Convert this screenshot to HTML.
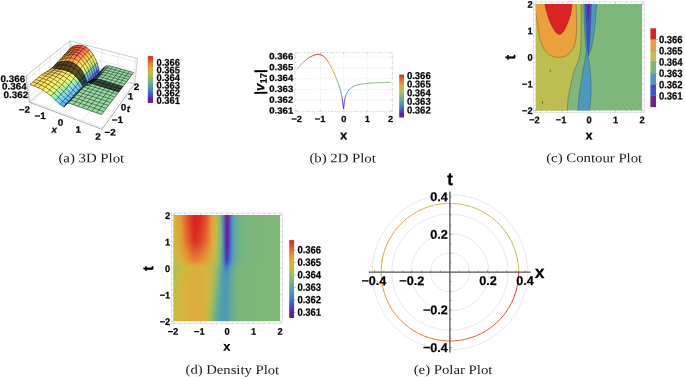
<!DOCTYPE html>
<html><head><meta charset="utf-8"><title>Plots</title>
<style>
html,body{margin:0;padding:0;background:#fff;}
body{width:685px;height:377px;overflow:hidden;}
svg{display:block;}
.b{font-family:"Liberation Sans",sans-serif;font-weight:bold;fill:#000;stroke:#000;stroke-width:0.22px;text-rendering:geometricPrecision;}
.c{font-family:"Liberation Serif",serif;fill:#1a1a1a;text-rendering:geometricPrecision;}
</style></head><body>
<svg width="685" height="377" viewBox="0 0 685 377">
<rect width="685" height="377" fill="#fff"/>
<g id="p3d">
<line x1="70.6" y1="64.9" x2="69.9" y2="40.9" stroke="#989898" stroke-width="0.5" opacity="1"/>
<line x1="29.4" y1="102.3" x2="70.6" y2="64.9" stroke="#989898" stroke-width="0.5" opacity="1"/>
<line x1="70.6" y1="64.9" x2="134.7" y2="83.8" stroke="#989898" stroke-width="0.5" opacity="1"/>
<line x1="30.5" y1="101.3" x2="27.3" y2="74.9" stroke="#d4d4d4" stroke-width="0.5" opacity="1"/>
<line x1="30.5" y1="101.3" x2="102.9" y2="128.0" stroke="#d4d4d4" stroke-width="0.5" opacity="1"/>
<line x1="41.6" y1="91.2" x2="39.1" y2="65.5" stroke="#d4d4d4" stroke-width="0.5" opacity="1"/>
<line x1="41.6" y1="91.2" x2="111.8" y2="115.7" stroke="#d4d4d4" stroke-width="0.5" opacity="1"/>
<line x1="51.7" y1="82.0" x2="49.9" y2="56.8" stroke="#d4d4d4" stroke-width="0.5" opacity="1"/>
<line x1="51.7" y1="82.0" x2="119.9" y2="104.4" stroke="#d4d4d4" stroke-width="0.5" opacity="1"/>
<line x1="61.1" y1="73.5" x2="59.9" y2="48.9" stroke="#d4d4d4" stroke-width="0.5" opacity="1"/>
<line x1="61.1" y1="73.5" x2="127.3" y2="94.1" stroke="#d4d4d4" stroke-width="0.5" opacity="1"/>
<line x1="69.8" y1="65.6" x2="69.0" y2="41.6" stroke="#d4d4d4" stroke-width="0.5" opacity="1"/>
<line x1="69.8" y1="65.6" x2="134.0" y2="84.7" stroke="#d4d4d4" stroke-width="0.5" opacity="1"/>
<line x1="72.0" y1="65.3" x2="71.4" y2="41.3" stroke="#d4d4d4" stroke-width="0.5" opacity="1"/>
<line x1="30.9" y1="102.9" x2="72.0" y2="65.3" stroke="#d4d4d4" stroke-width="0.5" opacity="1"/>
<line x1="86.3" y1="69.5" x2="86.4" y2="45.2" stroke="#d4d4d4" stroke-width="0.5" opacity="1"/>
<line x1="46.9" y1="108.8" x2="86.3" y2="69.5" stroke="#d4d4d4" stroke-width="0.5" opacity="1"/>
<line x1="101.2" y1="73.9" x2="102.1" y2="49.3" stroke="#d4d4d4" stroke-width="0.5" opacity="1"/>
<line x1="63.7" y1="115.1" x2="101.2" y2="73.9" stroke="#d4d4d4" stroke-width="0.5" opacity="1"/>
<line x1="116.8" y1="78.5" x2="118.6" y2="53.5" stroke="#d4d4d4" stroke-width="0.5" opacity="1"/>
<line x1="81.4" y1="121.7" x2="116.8" y2="78.5" stroke="#d4d4d4" stroke-width="0.5" opacity="1"/>
<line x1="133.0" y1="83.3" x2="135.8" y2="58.0" stroke="#d4d4d4" stroke-width="0.5" opacity="1"/>
<line x1="100.1" y1="128.6" x2="133.0" y2="83.3" stroke="#d4d4d4" stroke-width="0.5" opacity="1"/>
<line x1="28.7" y1="96.9" x2="70.5" y2="60.0" stroke="#d4d4d4" stroke-width="0.5" opacity="1"/>
<line x1="70.5" y1="60.0" x2="135.3" y2="78.6" stroke="#d4d4d4" stroke-width="0.5" opacity="1"/>
<line x1="27.6" y1="88.4" x2="70.2" y2="52.2" stroke="#d4d4d4" stroke-width="0.5" opacity="1"/>
<line x1="70.2" y1="52.2" x2="136.2" y2="70.4" stroke="#d4d4d4" stroke-width="0.5" opacity="1"/>
<line x1="26.5" y1="79.5" x2="70.0" y2="44.2" stroke="#d4d4d4" stroke-width="0.5" opacity="1"/>
<line x1="70.0" y1="44.2" x2="137.1" y2="62.0" stroke="#d4d4d4" stroke-width="0.5" opacity="1"/>
<g fill="currentColor" stroke="currentColor" stroke-width="0.4" stroke-linejoin="round">
<path color="#d38c3a" d="M69.6,48.9L71.4,47.9 72.5,46.7 70.7,47.7z"/>
<path color="#d97837" d="M71.4,47.9L73.2,47.1 74.3,45.9 72.5,46.7z"/>
<path color="#e26736" d="M73.2,47.1L75.0,46.6 76.1,45.4 74.3,45.9z"/>
<path color="#ec5b35" d="M75.0,46.6L76.9,46.4 78.0,45.2 76.1,45.4z"/>
<path color="#f45234" d="M76.9,46.4L78.8,46.3 79.9,45.2 78.0,45.2z"/>
<path color="#fc4b34" d="M78.8,46.3L80.7,46.5 81.8,45.4 79.9,45.2z"/>
<path color="#ff4c37" d="M80.7,46.5L82.6,47.0 83.7,45.9 81.8,45.4z"/>
<path color="#ff5439" d="M82.6,47.0L84.5,47.8 85.6,46.8 83.7,45.9z"/>
<path color="#ff673f" d="M84.5,47.8L86.5,49.2 87.5,48.2 85.6,46.8z"/>
<path color="#ff8344" d="M86.5,49.2L88.4,51.0 89.4,50.0 87.5,48.2z"/>
<path color="#ffa74a" d="M88.4,51.0L90.3,53.1 91.3,52.1 89.4,50.0z"/>
<path color="#ffce51" d="M90.3,53.1L92.2,56.1 93.2,55.1 91.3,52.1z"/>
<path color="#ffec59" d="M92.2,56.1L94.1,59.3 95.1,58.3 93.2,55.1z"/>
<path color="#c8eb76" d="M94.1,59.3L96.0,63.7 97.0,62.7 95.1,58.3z"/>
<path color="#75cdc2" d="M96.0,63.7L96.9,66.4 97.9,65.4 97.0,62.7z"/>
<path color="#5aa6e9" d="M96.9,66.4L97.8,69.6 98.7,68.6 97.9,65.4z"/>
<path color="#5d4ada" d="M97.8,69.6L98.6,74.1 99.6,73.1 98.7,68.6z"/>
<path color="#9530c1" d="M98.6,74.1L99.5,75.1 100.5,74.2 99.6,73.1z"/>
<path color="#5f227d" d="M99.5,75.1L100.5,74.4 101.5,73.5 100.5,74.2z"/>
<path color="#3b2f85" d="M100.5,74.4L101.6,71.0 102.6,70.0 101.5,73.5z"/>
<path color="#395f95" d="M101.6,71.0L102.7,69.1 103.7,68.1 102.6,70.0z"/>
<path color="#43788c" d="M102.7,69.1L103.8,67.9 104.7,66.8 103.7,68.1z"/>
<path color="#5a9d93" d="M103.8,67.9L105.8,67.0 106.7,65.9 104.7,66.8z"/>
<path color="#77bc97" d="M105.8,67.0L107.8,67.0 108.8,65.9 106.7,65.9z"/>
<path color="#85ca97" d="M107.8,67.0L109.9,67.2 110.8,66.2 108.8,65.9z"/>
<path color="#90d79b" d="M109.9,67.2L111.9,67.7 112.8,66.7 110.8,66.2z"/>
<path color="#92da9c" d="M111.9,67.7L113.9,68.3 114.8,67.2 112.8,66.7z"/>
<path color="#92da9c" d="M113.9,68.3L116.0,68.9 116.9,67.8 114.8,67.2z"/>
<path color="#92da9c" d="M116.0,68.9L118.0,69.4 118.9,68.4 116.9,67.8z"/>
<path color="#92da9c" d="M118.0,69.4L120.1,70.0 121.0,69.0 118.9,68.4z"/>
<path color="#92da9c" d="M120.1,70.0L122.2,70.6 123.1,69.5 121.0,69.0z"/>
<path color="#92da9c" d="M122.2,70.6L124.3,71.2 125.2,70.1 123.1,69.5z"/>
<path color="#92da9c" d="M124.3,71.2L126.4,71.8 127.3,70.7 125.2,70.1z"/>
<path color="#92da9c" d="M126.4,71.8L128.5,72.4 129.4,71.3 127.3,70.7z"/>
<path color="#92da9c" d="M128.5,72.4L130.6,73.0 131.5,71.9 129.4,71.3z"/>
<path color="#92da9c" d="M130.6,73.0L132.8,73.6 133.6,72.5 131.5,71.9z"/>
<path color="#d2903b" d="M68.5,50.2L70.3,49.1 71.4,47.9 69.6,48.9z"/>
<path color="#d97d38" d="M70.3,49.1L72.1,48.3 73.2,47.1 71.4,47.9z"/>
<path color="#e26d36" d="M72.1,48.3L74.0,47.8 75.0,46.6 73.2,47.1z"/>
<path color="#eb6035" d="M74.0,47.8L75.8,47.5 76.9,46.4 75.0,46.6z"/>
<path color="#f25635" d="M75.8,47.5L77.7,47.4 78.8,46.3 76.9,46.4z"/>
<path color="#fb4e35" d="M77.7,47.4L79.6,47.5 80.7,46.5 78.8,46.3z"/>
<path color="#ff5037" d="M79.6,47.5L81.5,48.1 82.6,47.0 80.7,46.5z"/>
<path color="#ff563a" d="M81.5,48.1L83.5,48.8 84.5,47.8 82.6,47.0z"/>
<path color="#ff693f" d="M83.5,48.8L85.4,50.2 86.5,49.2 84.5,47.8z"/>
<path color="#ff8544" d="M85.4,50.2L87.4,52.0 88.4,51.0 86.5,49.2z"/>
<path color="#ffa94b" d="M87.4,52.0L89.3,54.2 90.3,53.1 88.4,51.0z"/>
<path color="#ffd051" d="M89.3,54.2L91.2,57.1 92.2,56.1 90.3,53.1z"/>
<path color="#ffec59" d="M91.2,57.1L93.1,60.3 94.1,59.3 92.2,56.1z"/>
<path color="#c8eb77" d="M93.1,60.3L95.0,64.7 96.0,63.7 94.1,59.3z"/>
<path color="#75cec2" d="M95.0,64.7L95.9,67.4 96.9,66.4 96.0,63.7z"/>
<path color="#5aa6e9" d="M95.9,67.4L96.8,70.6 97.8,69.6 96.9,66.4z"/>
<path color="#5c4cdc" d="M96.8,70.6L97.7,75.0 98.6,74.1 97.8,69.6z"/>
<path color="#9231c5" d="M97.7,75.0L98.6,76.0 99.5,75.1 98.6,74.1z"/>
<path color="#5d237f" d="M98.6,76.0L99.6,75.3 100.5,74.4 99.5,75.1z"/>
<path color="#3b3086" d="M99.6,75.3L100.7,72.0 101.6,71.0 100.5,74.4z"/>
<path color="#396095" d="M100.7,72.0L101.8,70.1 102.7,69.1 101.6,71.0z"/>
<path color="#43798c" d="M101.8,70.1L102.8,68.9 103.8,67.9 102.7,69.1z"/>
<path color="#5a9d93" d="M102.8,68.9L104.9,68.0 105.8,67.0 103.8,67.9z"/>
<path color="#77bc97" d="M104.9,68.0L106.9,68.0 107.8,67.0 105.8,67.0z"/>
<path color="#85ca97" d="M106.9,68.0L108.9,68.2 109.9,67.2 107.8,67.0z"/>
<path color="#90d79b" d="M108.9,68.2L111.0,68.8 111.9,67.7 109.9,67.2z"/>
<path color="#92da9c" d="M111.0,68.8L113.0,69.3 113.9,68.3 111.9,67.7z"/>
<path color="#92da9c" d="M113.0,69.3L115.1,69.9 116.0,68.9 113.9,68.3z"/>
<path color="#92da9c" d="M115.1,69.9L117.1,70.5 118.0,69.4 116.0,68.9z"/>
<path color="#92da9c" d="M117.1,70.5L119.2,71.1 120.1,70.0 118.0,69.4z"/>
<path color="#92da9c" d="M119.2,71.1L121.3,71.7 122.2,70.6 120.1,70.0z"/>
<path color="#92da9c" d="M121.3,71.7L123.4,72.3 124.3,71.2 122.2,70.6z"/>
<path color="#92da9c" d="M123.4,72.3L125.5,72.9 126.4,71.8 124.3,71.2z"/>
<path color="#92da9c" d="M125.5,72.9L127.6,73.5 128.5,72.4 126.4,71.8z"/>
<path color="#92da9c" d="M127.6,73.5L129.8,74.1 130.6,73.0 128.5,72.4z"/>
<path color="#92da9c" d="M129.8,74.1L131.9,74.7 132.8,73.6 130.6,73.0z"/>
<path color="#d0933b" d="M67.4,51.4L69.2,50.4 70.3,49.1 68.5,50.2z"/>
<path color="#d98339" d="M69.2,50.4L71.0,49.6 72.1,48.3 70.3,49.1z"/>
<path color="#e17237" d="M71.0,49.6L72.9,49.0 74.0,47.8 72.1,48.3z"/>
<path color="#ea6536" d="M72.9,49.0L74.7,48.7 75.8,47.5 74.0,47.8z"/>
<path color="#f05935" d="M74.7,48.7L76.6,48.6 77.7,47.4 75.8,47.5z"/>
<path color="#f95235" d="M76.6,48.6L78.5,48.6 79.6,47.5 77.7,47.4z"/>
<path color="#ff5338" d="M78.5,48.6L80.5,49.2 81.5,48.1 79.6,47.5z"/>
<path color="#ff593a" d="M80.5,49.2L82.4,49.9 83.5,48.8 81.5,48.1z"/>
<path color="#ff6b3f" d="M82.4,49.9L84.4,51.2 85.4,50.2 83.5,48.8z"/>
<path color="#ff8645" d="M84.4,51.2L86.3,53.0 87.4,52.0 85.4,50.2z"/>
<path color="#ffab4b" d="M86.3,53.0L88.3,55.3 89.3,54.2 87.4,52.0z"/>
<path color="#ffd151" d="M88.3,55.3L90.2,58.1 91.2,57.1 89.3,54.2z"/>
<path color="#ffec59" d="M90.2,58.1L92.1,61.4 93.1,60.3 91.2,57.1z"/>
<path color="#c7eb78" d="M92.1,61.4L94.0,65.7 95.0,64.7 93.1,60.3z"/>
<path color="#75cec2" d="M94.0,65.7L94.9,68.5 95.9,67.4 95.0,64.7z"/>
<path color="#5aa7e9" d="M94.9,68.5L95.8,71.6 96.8,70.6 95.9,67.4z"/>
<path color="#5c4ede" d="M95.8,71.6L96.7,75.9 97.7,75.0 96.8,70.6z"/>
<path color="#9032c8" d="M96.7,75.9L97.6,77.0 98.6,76.0 97.7,75.0z"/>
<path color="#5c2382" d="M97.6,77.0L98.6,76.3 99.6,75.3 98.6,76.0z"/>
<path color="#3b3287" d="M98.6,76.3L99.7,73.0 100.7,72.0 99.6,75.3z"/>
<path color="#396095" d="M99.7,73.0L100.8,71.1 101.8,70.1 100.7,72.0z"/>
<path color="#43798c" d="M100.8,71.1L101.8,69.9 102.8,68.9 101.8,70.1z"/>
<path color="#5a9d93" d="M101.8,69.9L103.9,69.0 104.9,68.0 102.8,68.9z"/>
<path color="#77bc97" d="M103.9,69.0L105.9,69.1 106.9,68.0 104.9,68.0z"/>
<path color="#85ca97" d="M105.9,69.1L108.0,69.3 108.9,68.2 106.9,68.0z"/>
<path color="#90d79b" d="M108.0,69.3L110.0,69.8 111.0,68.8 108.9,68.2z"/>
<path color="#92da9c" d="M110.0,69.8L112.1,70.4 113.0,69.3 111.0,68.8z"/>
<path color="#92da9c" d="M112.1,70.4L114.1,71.0 115.1,69.9 113.0,69.3z"/>
<path color="#92da9c" d="M114.1,71.0L116.2,71.6 117.1,70.5 115.1,69.9z"/>
<path color="#92da9c" d="M116.2,71.6L118.3,72.2 119.2,71.1 117.1,70.5z"/>
<path color="#92da9c" d="M118.3,72.2L120.4,72.8 121.3,71.7 119.2,71.1z"/>
<path color="#92da9c" d="M120.4,72.8L122.5,73.4 123.4,72.3 121.3,71.7z"/>
<path color="#92da9c" d="M122.5,73.4L124.6,74.0 125.5,72.9 123.4,72.3z"/>
<path color="#92da9c" d="M124.6,74.0L126.8,74.6 127.6,73.5 125.5,72.9z"/>
<path color="#92da9c" d="M126.8,74.6L128.9,75.2 129.8,74.1 127.6,73.5z"/>
<path color="#92da9c" d="M128.9,75.2L131.1,75.8 131.9,74.7 129.8,74.1z"/>
<path color="#cf963c" d="M66.3,52.6L68.1,51.6 69.2,50.4 67.4,51.4z"/>
<path color="#d9883a" d="M68.1,51.6L69.9,50.8 71.0,49.6 69.2,50.4z"/>
<path color="#e17738" d="M69.9,50.8L71.8,50.2 72.9,49.0 71.0,49.6z"/>
<path color="#e96a37" d="M71.8,50.2L73.6,49.9 74.7,48.7 72.9,49.0z"/>
<path color="#ed5d35" d="M73.6,49.9L75.5,49.7 76.6,48.6 74.7,48.7z"/>
<path color="#f75535" d="M75.5,49.7L77.5,49.8 78.5,48.6 76.6,48.6z"/>
<path color="#ff5738" d="M77.5,49.8L79.4,50.3 80.5,49.2 78.5,48.6z"/>
<path color="#ff5c3a" d="M79.4,50.3L81.3,51.0 82.4,49.9 80.5,49.2z"/>
<path color="#ff6d3f" d="M81.3,51.0L83.3,52.2 84.4,51.2 82.4,49.9z"/>
<path color="#ff8845" d="M83.3,52.2L85.2,54.0 86.3,53.0 84.4,51.2z"/>
<path color="#ffad4b" d="M85.2,54.0L87.2,56.4 88.3,55.3 86.3,53.0z"/>
<path color="#ffd252" d="M87.2,56.4L89.2,59.2 90.2,58.1 88.3,55.3z"/>
<path color="#ffec5a" d="M89.2,59.2L91.1,62.4 92.1,61.4 90.2,58.1z"/>
<path color="#c7eb78" d="M91.1,62.4L93.0,66.8 94.0,65.7 92.1,61.4z"/>
<path color="#75cec2" d="M93.0,66.8L93.9,69.5 94.9,68.5 94.0,65.7z"/>
<path color="#5aa7e9" d="M93.9,69.5L94.8,72.6 95.8,71.6 94.9,68.5z"/>
<path color="#5b51e0" d="M94.8,72.6L95.7,76.8 96.7,75.9 95.8,71.6z"/>
<path color="#8d33cb" d="M95.7,76.8L96.7,77.9 97.6,77.0 96.7,75.9z"/>
<path color="#5b2485" d="M96.7,77.9L97.7,77.2 98.6,76.3 97.6,77.0z"/>
<path color="#3b3489" d="M97.7,77.2L98.7,74.0 99.7,73.0 98.6,76.3z"/>
<path color="#396195" d="M98.7,74.0L99.8,72.2 100.8,71.1 99.7,73.0z"/>
<path color="#43798d" d="M99.8,72.2L100.9,71.0 101.8,69.9 100.8,71.1z"/>
<path color="#5a9d93" d="M100.9,71.0L102.9,70.1 103.9,69.0 101.8,69.9z"/>
<path color="#77bc97" d="M102.9,70.1L105.0,70.1 105.9,69.1 103.9,69.0z"/>
<path color="#85ca97" d="M105.0,70.1L107.0,70.4 108.0,69.3 105.9,69.1z"/>
<path color="#90d79b" d="M107.0,70.4L109.1,70.9 110.0,69.8 108.0,69.3z"/>
<path color="#92da9c" d="M109.1,70.9L111.1,71.5 112.1,70.4 110.0,69.8z"/>
<path color="#92da9c" d="M111.1,71.5L113.2,72.1 114.1,71.0 112.1,70.4z"/>
<path color="#92da9c" d="M113.2,72.1L115.3,72.7 116.2,71.6 114.1,71.0z"/>
<path color="#92da9c" d="M115.3,72.7L117.4,73.3 118.3,72.2 116.2,71.6z"/>
<path color="#92da9c" d="M117.4,73.3L119.5,73.9 120.4,72.8 118.3,72.2z"/>
<path color="#92da9c" d="M119.5,73.9L121.6,74.5 122.5,73.4 120.4,72.8z"/>
<path color="#92da9c" d="M121.6,74.5L123.7,75.1 124.6,74.0 122.5,73.4z"/>
<path color="#92da9c" d="M123.7,75.1L125.9,75.7 126.8,74.6 124.6,74.0z"/>
<path color="#92da9c" d="M125.9,75.7L128.0,76.3 128.9,75.2 126.8,74.6z"/>
<path color="#92da9c" d="M128.0,76.3L130.2,77.0 131.1,75.8 128.9,75.2z"/>
<path color="#ce993d" d="M65.2,53.9L67.0,52.9 68.1,51.6 66.3,52.6z"/>
<path color="#d98d3b" d="M67.0,52.9L68.8,52.1 69.9,50.8 68.1,51.6z"/>
<path color="#e07c39" d="M68.8,52.1L70.7,51.5 71.8,50.2 69.9,50.8z"/>
<path color="#e86e38" d="M70.7,51.5L72.5,51.1 73.6,49.9 71.8,50.2z"/>
<path color="#eb6136" d="M72.5,51.1L74.4,50.9 75.5,49.7 73.6,49.9z"/>
<path color="#f55835" d="M74.4,50.9L76.4,50.9 77.5,49.8 75.5,49.7z"/>
<path color="#ff5a39" d="M76.4,50.9L78.3,51.4 79.4,50.3 77.5,49.8z"/>
<path color="#ff5e3b" d="M78.3,51.4L80.2,52.0 81.3,51.0 79.4,50.3z"/>
<path color="#ff6f40" d="M80.2,52.0L82.2,53.3 83.3,52.2 81.3,51.0z"/>
<path color="#ff8945" d="M82.2,53.3L84.2,55.1 85.2,54.0 83.3,52.2z"/>
<path color="#ffae4b" d="M84.2,55.1L86.1,57.5 87.2,56.4 85.2,54.0z"/>
<path color="#ffd452" d="M86.1,57.5L88.1,60.3 89.2,59.2 87.2,56.4z"/>
<path color="#ffed5a" d="M88.1,60.3L90.1,63.5 91.1,62.4 89.2,59.2z"/>
<path color="#c6eb79" d="M90.1,63.5L92.0,67.8 93.0,66.8 91.1,62.4z"/>
<path color="#75cec2" d="M92.0,67.8L92.9,70.5 93.9,69.5 93.0,66.8z"/>
<path color="#5aa8ea" d="M92.9,70.5L93.8,73.6 94.8,72.6 93.9,69.5z"/>
<path color="#5b53e1" d="M93.8,73.6L94.7,77.8 95.7,76.8 94.8,72.6z"/>
<path color="#8a34cf" d="M94.7,77.8L95.7,78.8 96.7,77.9 95.7,76.8z"/>
<path color="#592587" d="M95.7,78.8L96.7,78.1 97.7,77.2 96.7,77.9z"/>
<path color="#3a358a" d="M96.7,78.1L97.8,75.1 98.7,74.0 97.7,77.2z"/>
<path color="#396195" d="M97.8,75.1L98.8,73.2 99.8,72.2 98.7,74.0z"/>
<path color="#43798d" d="M98.8,73.2L99.9,72.1 100.9,71.0 99.8,72.2z"/>
<path color="#5a9d93" d="M99.9,72.1L101.9,71.2 102.9,70.1 100.9,71.0z"/>
<path color="#77bc97" d="M101.9,71.2L104.0,71.2 105.0,70.1 102.9,70.1z"/>
<path color="#85ca97" d="M104.0,71.2L106.0,71.4 107.0,70.4 105.0,70.1z"/>
<path color="#90d79b" d="M106.0,71.4L108.1,72.0 109.1,70.9 107.0,70.4z"/>
<path color="#92da9c" d="M108.1,72.0L110.2,72.6 111.1,71.5 109.1,70.9z"/>
<path color="#92da9c" d="M110.2,72.6L112.3,73.2 113.2,72.1 111.1,71.5z"/>
<path color="#92da9c" d="M112.3,73.2L114.3,73.8 115.3,72.7 113.2,72.1z"/>
<path color="#92da9c" d="M114.3,73.8L116.5,74.4 117.4,73.3 115.3,72.7z"/>
<path color="#92da9c" d="M116.5,74.4L118.6,75.0 119.5,73.9 117.4,73.3z"/>
<path color="#92da9c" d="M118.6,75.0L120.7,75.6 121.6,74.5 119.5,73.9z"/>
<path color="#92da9c" d="M120.7,75.6L122.8,76.2 123.7,75.1 121.6,74.5z"/>
<path color="#92da9c" d="M122.8,76.2L125.0,76.9 125.9,75.7 123.7,75.1z"/>
<path color="#92da9c" d="M125.0,76.9L127.2,77.5 128.0,76.3 125.9,75.7z"/>
<path color="#92da9c" d="M127.2,77.5L129.3,78.1 130.2,77.0 128.0,76.3z"/>
<path color="#cd9b3d" d="M64.1,55.1L65.9,54.2 67.0,52.9 65.2,53.9z"/>
<path color="#d9923c" d="M65.9,54.2L67.7,53.3 68.8,52.1 67.0,52.9z"/>
<path color="#e0813a" d="M67.7,53.3L69.5,52.7 70.7,51.5 68.8,52.1z"/>
<path color="#e77338" d="M69.5,52.7L71.4,52.4 72.5,51.1 70.7,51.5z"/>
<path color="#ea6536" d="M71.4,52.4L73.3,52.1 74.4,50.9 72.5,51.1z"/>
<path color="#f35b36" d="M73.3,52.1L75.2,52.0 76.4,50.9 74.4,50.9z"/>
<path color="#ff5e3a" d="M75.2,52.0L77.2,52.5 78.3,51.4 76.4,50.9z"/>
<path color="#ff613b" d="M77.2,52.5L79.1,53.1 80.2,52.0 78.3,51.4z"/>
<path color="#ff7040" d="M79.1,53.1L81.1,54.3 82.2,53.3 80.2,52.0z"/>
<path color="#ff8b46" d="M81.1,54.3L83.1,56.1 84.2,55.1 82.2,53.3z"/>
<path color="#ffb04c" d="M83.1,56.1L85.1,58.6 86.1,57.5 84.2,55.1z"/>
<path color="#ffd552" d="M85.1,58.6L87.0,61.3 88.1,60.3 86.1,57.5z"/>
<path color="#ffed5a" d="M87.0,61.3L89.0,64.6 90.1,63.5 88.1,60.3z"/>
<path color="#c6ec7a" d="M89.0,64.6L90.9,68.8 92.0,67.8 90.1,63.5z"/>
<path color="#75cec2" d="M90.9,68.8L91.9,71.6 92.9,70.5 92.0,67.8z"/>
<path color="#5aa8ea" d="M91.9,71.6L92.8,74.7 93.8,73.6 92.9,70.5z"/>
<path color="#5b55e3" d="M92.8,74.7L93.7,78.8 94.7,77.8 93.8,73.6z"/>
<path color="#8834d2" d="M93.7,78.8L94.7,79.7 95.7,78.8 94.7,77.8z"/>
<path color="#58258a" d="M94.7,79.7L95.7,79.1 96.7,78.1 95.7,78.8z"/>
<path color="#3a378b" d="M95.7,79.1L96.8,76.1 97.8,75.1 96.7,78.1z"/>
<path color="#396295" d="M96.8,76.1L97.8,74.3 98.8,73.2 97.8,75.1z"/>
<path color="#44798d" d="M97.8,74.3L98.9,73.1 99.9,72.1 98.8,73.2z"/>
<path color="#5a9d93" d="M98.9,73.1L100.9,72.3 101.9,71.2 99.9,72.1z"/>
<path color="#77bc97" d="M100.9,72.3L103.0,72.3 104.0,71.2 101.9,71.2z"/>
<path color="#85ca97" d="M103.0,72.3L105.1,72.5 106.0,71.4 104.0,71.2z"/>
<path color="#90d79b" d="M105.1,72.5L107.1,73.1 108.1,72.0 106.0,71.4z"/>
<path color="#92da9c" d="M107.1,73.1L109.2,73.7 110.2,72.6 108.1,72.0z"/>
<path color="#92da9c" d="M109.2,73.7L111.3,74.3 112.3,73.2 110.2,72.6z"/>
<path color="#92da9c" d="M111.3,74.3L113.4,74.9 114.3,73.8 112.3,73.2z"/>
<path color="#92da9c" d="M113.4,74.9L115.5,75.5 116.5,74.4 114.3,73.8z"/>
<path color="#92da9c" d="M115.5,75.5L117.6,76.1 118.6,75.0 116.5,74.4z"/>
<path color="#92da9c" d="M117.6,76.1L119.8,76.8 120.7,75.6 118.6,75.0z"/>
<path color="#92da9c" d="M119.8,76.8L121.9,77.4 122.8,76.2 120.7,75.6z"/>
<path color="#92da9c" d="M121.9,77.4L124.1,78.0 125.0,76.9 122.8,76.2z"/>
<path color="#92da9c" d="M124.1,78.0L126.3,78.6 127.2,77.5 125.0,76.9z"/>
<path color="#92da9c" d="M126.3,78.6L128.5,79.3 129.3,78.1 127.2,77.5z"/>
<path color="#cb9e3e" d="M62.9,56.4L64.7,55.4 65.9,54.2 64.1,55.1z"/>
<path color="#d8953c" d="M64.7,55.4L66.6,54.6 67.7,53.3 65.9,54.2z"/>
<path color="#df873b" d="M66.6,54.6L68.4,54.0 69.5,52.7 67.7,53.3z"/>
<path color="#e67839" d="M68.4,54.0L70.3,53.6 71.4,52.4 69.5,52.7z"/>
<path color="#e86837" d="M70.3,53.6L72.2,53.2 73.3,52.1 71.4,52.4z"/>
<path color="#f15e36" d="M72.2,53.2L74.1,53.1 75.2,52.0 73.3,52.1z"/>
<path color="#ff613a" d="M74.1,53.1L76.1,53.6 77.2,52.5 75.2,52.0z"/>
<path color="#ff633b" d="M76.1,53.6L78.0,54.2 79.1,53.1 77.2,52.5z"/>
<path color="#ff7240" d="M78.0,54.2L80.0,55.4 81.1,54.3 79.1,53.1z"/>
<path color="#ff8c46" d="M80.0,55.4L82.0,57.2 83.1,56.1 81.1,54.3z"/>
<path color="#ffb24c" d="M82.0,57.2L84.0,59.7 85.1,58.6 83.1,56.1z"/>
<path color="#ffd653" d="M84.0,59.7L86.0,62.4 87.0,61.3 85.1,58.6z"/>
<path color="#ffed5b" d="M86.0,62.4L87.9,65.6 89.0,64.6 87.0,61.3z"/>
<path color="#c5ec7b" d="M87.9,65.6L89.9,69.9 90.9,68.8 89.0,64.6z"/>
<path color="#75cec2" d="M89.9,69.9L90.9,72.7 91.9,71.6 90.9,68.8z"/>
<path color="#5aa9ea" d="M90.9,72.7L91.8,75.7 92.8,74.7 91.9,71.6z"/>
<path color="#5a58e5" d="M91.8,75.7L92.7,79.7 93.7,78.8 92.8,74.7z"/>
<path color="#8535d5" d="M92.7,79.7L93.7,80.7 94.7,79.7 93.7,78.8z"/>
<path color="#56268d" d="M93.7,80.7L94.7,80.1 95.7,79.1 94.7,79.7z"/>
<path color="#3a388c" d="M94.7,80.1L95.8,77.2 96.8,76.1 95.7,79.1z"/>
<path color="#3a6395" d="M95.8,77.2L96.8,75.4 97.8,74.3 96.8,76.1z"/>
<path color="#447a8d" d="M96.8,75.4L97.9,74.2 98.9,73.1 97.8,74.3z"/>
<path color="#5a9d93" d="M97.9,74.2L99.9,73.3 100.9,72.3 98.9,73.1z"/>
<path color="#77bc97" d="M99.9,73.3L102.0,73.4 103.0,72.3 100.9,72.3z"/>
<path color="#85ca97" d="M102.0,73.4L104.1,73.6 105.1,72.5 103.0,72.3z"/>
<path color="#90d79b" d="M104.1,73.6L106.2,74.2 107.1,73.1 105.1,72.5z"/>
<path color="#92da9c" d="M106.2,74.2L108.2,74.8 109.2,73.7 107.1,73.1z"/>
<path color="#92da9c" d="M108.2,74.8L110.3,75.4 111.3,74.3 109.2,73.7z"/>
<path color="#92da9c" d="M110.3,75.4L112.4,76.0 113.4,74.9 111.3,74.3z"/>
<path color="#92da9c" d="M112.4,76.0L114.6,76.6 115.5,75.5 113.4,74.9z"/>
<path color="#92da9c" d="M114.6,76.6L116.7,77.3 117.6,76.1 115.5,75.5z"/>
<path color="#92da9c" d="M116.7,77.3L118.8,77.9 119.8,76.8 117.6,76.1z"/>
<path color="#92da9c" d="M118.8,77.9L121.0,78.5 121.9,77.4 119.8,76.8z"/>
<path color="#92da9c" d="M121.0,78.5L123.2,79.2 124.1,78.0 121.9,77.4z"/>
<path color="#92da9c" d="M123.2,79.2L125.4,79.8 126.3,78.6 124.1,78.0z"/>
<path color="#92da9c" d="M125.4,79.8L127.6,80.5 128.5,79.3 126.3,78.6z"/>
<path color="#caa13f" d="M61.8,57.7L63.6,56.7 64.7,55.4 62.9,56.4z"/>
<path color="#d6983d" d="M63.6,56.7L65.4,55.9 66.6,54.6 64.7,55.4z"/>
<path color="#df8c3b" d="M65.4,55.9L67.3,55.3 68.4,54.0 66.6,54.6z"/>
<path color="#e57c3a" d="M67.3,55.3L69.2,54.8 70.3,53.6 68.4,54.0z"/>
<path color="#e76c37" d="M69.2,54.8L71.1,54.4 72.2,53.2 70.3,53.6z"/>
<path color="#ef6136" d="M71.1,54.4L73.0,54.3 74.1,53.1 72.2,53.2z"/>
<path color="#ff653b" d="M73.0,54.3L74.9,54.8 76.1,53.6 74.1,53.1z"/>
<path color="#ff653b" d="M74.9,54.8L76.9,55.3 78.0,54.2 76.1,53.6z"/>
<path color="#ff7441" d="M76.9,55.3L78.9,56.5 80.0,55.4 78.0,54.2z"/>
<path color="#ff8e46" d="M78.9,56.5L80.9,58.3 82.0,57.2 80.0,55.4z"/>
<path color="#ffb44c" d="M80.9,58.3L82.9,60.8 84.0,59.7 82.0,57.2z"/>
<path color="#ffd853" d="M82.9,60.8L84.9,63.5 86.0,62.4 84.0,59.7z"/>
<path color="#ffed5b" d="M84.9,63.5L86.9,66.7 87.9,65.6 86.0,62.4z"/>
<path color="#c5ec7b" d="M86.9,66.7L88.8,71.0 89.9,69.9 87.9,65.6z"/>
<path color="#75cec2" d="M88.8,71.0L89.8,73.8 90.9,72.7 89.9,69.9z"/>
<path color="#5ba9ea" d="M89.8,73.8L90.8,76.8 91.8,75.7 90.9,72.7z"/>
<path color="#5a5ae7" d="M90.8,76.8L91.7,80.7 92.7,79.7 91.8,75.7z"/>
<path color="#8236d8" d="M91.7,80.7L92.7,81.7 93.7,80.7 92.7,79.7z"/>
<path color="#552790" d="M92.7,81.7L93.7,81.0 94.7,80.1 93.7,80.7z"/>
<path color="#393a8d" d="M93.7,81.0L94.7,78.2 95.8,77.2 94.7,80.1z"/>
<path color="#3a6395" d="M94.7,78.2L95.8,76.5 96.8,75.4 95.8,77.2z"/>
<path color="#447a8d" d="M95.8,76.5L96.8,75.3 97.9,74.2 96.8,75.4z"/>
<path color="#5a9d93" d="M96.8,75.3L98.9,74.4 99.9,73.3 97.9,74.2z"/>
<path color="#77bc97" d="M98.9,74.4L101.0,74.5 102.0,73.4 99.9,73.3z"/>
<path color="#85ca97" d="M101.0,74.5L103.1,74.7 104.1,73.6 102.0,73.4z"/>
<path color="#90d79b" d="M103.1,74.7L105.2,75.3 106.2,74.2 104.1,73.6z"/>
<path color="#92da9c" d="M105.2,75.3L107.3,75.9 108.2,74.8 106.2,74.2z"/>
<path color="#92da9c" d="M107.3,75.9L109.4,76.5 110.3,75.4 108.2,74.8z"/>
<path color="#92da9c" d="M109.4,76.5L111.5,77.2 112.4,76.0 110.3,75.4z"/>
<path color="#92da9c" d="M111.5,77.2L113.6,77.8 114.6,76.6 112.4,76.0z"/>
<path color="#92da9c" d="M113.6,77.8L115.8,78.4 116.7,77.3 114.6,76.6z"/>
<path color="#92da9c" d="M115.8,78.4L117.9,79.1 118.8,77.9 116.7,77.3z"/>
<path color="#92da9c" d="M117.9,79.1L120.1,79.7 121.0,78.5 118.8,77.9z"/>
<path color="#92da9c" d="M120.1,79.7L122.3,80.3 123.2,79.2 121.0,78.5z"/>
<path color="#92da9c" d="M122.3,80.3L124.4,81.0 125.4,79.8 123.2,79.2z"/>
<path color="#92da9c" d="M124.4,81.0L126.7,81.6 127.6,80.5 125.4,79.8z"/>
<path color="#caa640" d="M60.6,58.9L62.4,58.1 63.6,56.7 61.8,57.7z"/>
<path color="#d69d3e" d="M62.4,58.1L64.3,57.4 65.4,55.9 63.6,56.7z"/>
<path color="#e1943d" d="M64.3,57.4L66.1,56.8 67.3,55.3 65.4,55.9z"/>
<path color="#e7853b" d="M66.1,56.8L68.0,56.5 69.2,54.8 67.3,55.3z"/>
<path color="#e87539" d="M68.0,56.5L69.9,56.1 71.1,54.4 69.2,54.8z"/>
<path color="#f66c39" d="M69.9,56.1L71.9,56.0 73.0,54.3 71.1,54.4z"/>
<path color="#ff713e" d="M71.9,56.0L73.8,56.5 74.9,54.8 73.0,54.3z"/>
<path color="#ff713e" d="M73.8,56.5L75.8,57.1 76.9,55.3 74.9,54.8z"/>
<path color="#ff8043" d="M75.8,57.1L77.8,58.2 78.9,56.5 76.9,55.3z"/>
<path color="#ff9949" d="M77.8,58.2L79.8,59.9 80.9,58.3 78.9,56.5z"/>
<path color="#ffbd4e" d="M79.8,59.9L81.8,62.2 82.9,60.8 80.9,58.3z"/>
<path color="#ffdc55" d="M81.8,62.2L83.8,64.8 84.9,63.5 82.9,60.8z"/>
<path color="#ffef5c" d="M83.8,64.8L85.8,67.9 86.9,66.7 84.9,63.5z"/>
<path color="#c4ed7d" d="M85.8,67.9L87.8,72.1 88.8,71.0 86.9,66.7z"/>
<path color="#75cec2" d="M87.8,72.1L88.8,74.8 89.8,73.8 88.8,71.0z"/>
<path color="#5baaea" d="M88.8,74.8L89.7,77.8 90.8,76.8 89.8,73.8z"/>
<path color="#595de9" d="M89.7,77.8L90.7,81.6 91.7,80.7 90.8,76.8z"/>
<path color="#7c36da" d="M90.7,81.6L91.6,82.5 92.7,81.7 91.7,80.7z"/>
<path color="#522792" d="M91.6,82.5L92.7,81.9 93.7,81.0 92.7,81.7z"/>
<path color="#383d8f" d="M92.7,81.9L93.7,79.1 94.7,78.2 93.7,81.0z"/>
<path color="#3a6494" d="M93.7,79.1L94.8,77.4 95.8,76.5 94.7,78.2z"/>
<path color="#447a8c" d="M94.8,77.4L95.8,76.3 96.8,75.3 95.8,76.5z"/>
<path color="#5b9e94" d="M95.8,76.3L97.9,75.6 98.9,74.4 96.8,75.3z"/>
<path color="#77bc97" d="M97.9,75.6L100.0,75.6 101.0,74.5 98.9,74.4z"/>
<path color="#85ca97" d="M100.0,75.6L102.1,75.9 103.1,74.7 101.0,74.5z"/>
<path color="#90d79b" d="M102.1,75.9L104.2,76.4 105.2,75.3 103.1,74.7z"/>
<path color="#92da9c" d="M104.2,76.4L106.3,77.1 107.3,75.9 105.2,75.3z"/>
<path color="#92da9c" d="M106.3,77.1L108.4,77.7 109.4,76.5 107.3,75.9z"/>
<path color="#92da9c" d="M108.4,77.7L110.5,78.3 111.5,77.2 109.4,76.5z"/>
<path color="#92da9c" d="M110.5,78.3L112.6,79.0 113.6,77.8 111.5,77.2z"/>
<path color="#92da9c" d="M112.6,79.0L114.8,79.6 115.8,78.4 113.6,77.8z"/>
<path color="#92da9c" d="M114.8,79.6L117.0,80.2 117.9,79.1 115.8,78.4z"/>
<path color="#92da9c" d="M117.0,80.2L119.1,80.9 120.1,79.7 117.9,79.1z"/>
<path color="#92da9c" d="M119.1,80.9L121.3,81.5 122.3,80.3 120.1,79.7z"/>
<path color="#92da9c" d="M121.3,81.5L123.5,82.2 124.4,81.0 122.3,80.3z"/>
<path color="#92da9c" d="M123.5,82.2L125.7,82.8 126.7,81.6 124.4,81.0z"/>
<path color="#ccac42" d="M59.5,60.2L61.3,59.5 62.4,58.1 60.6,58.9z"/>
<path color="#d7a440" d="M61.3,59.5L63.1,58.9 64.3,57.4 62.4,58.1z"/>
<path color="#e29c3f" d="M63.1,58.9L65.0,58.4 66.1,56.8 64.3,57.4z"/>
<path color="#e9913e" d="M65.0,58.4L66.9,58.1 68.0,56.5 66.1,56.8z"/>
<path color="#ec833c" d="M66.9,58.1L68.8,57.8 69.9,56.1 68.0,56.5z"/>
<path color="#f97c3c" d="M68.8,57.8L70.7,57.8 71.9,56.0 69.9,56.1z"/>
<path color="#ff8241" d="M70.7,57.8L72.7,58.3 73.8,56.5 71.9,56.0z"/>
<path color="#ff8241" d="M72.7,58.3L74.7,58.8 75.8,57.1 73.8,56.5z"/>
<path color="#ff9146" d="M74.7,58.8L76.7,59.9 77.8,58.2 75.8,57.1z"/>
<path color="#ffa84b" d="M76.7,59.9L78.7,61.5 79.8,59.9 77.8,58.2z"/>
<path color="#ffca51" d="M78.7,61.5L80.7,63.6 81.8,62.2 79.8,59.9z"/>
<path color="#ffe156" d="M80.7,63.6L82.7,66.0 83.8,64.8 81.8,62.2z"/>
<path color="#fff15e" d="M82.7,66.0L84.7,69.1 85.8,67.9 83.8,64.8z"/>
<path color="#c1ed7f" d="M84.7,69.1L86.7,73.3 87.8,72.1 85.8,67.9z"/>
<path color="#75cec3" d="M86.7,73.3L87.7,75.9 88.8,74.8 87.8,72.1z"/>
<path color="#5babea" d="M87.7,75.9L88.7,78.9 89.7,77.8 88.8,74.8z"/>
<path color="#5862ed" d="M88.7,78.9L89.6,82.5 90.7,81.6 89.7,77.8z"/>
<path color="#7738e0" d="M89.6,82.5L90.6,83.3 91.6,82.5 90.7,81.6z"/>
<path color="#4e2897" d="M90.6,83.3L91.6,82.7 92.7,81.9 91.6,82.5z"/>
<path color="#374192" d="M91.6,82.7L92.7,80.1 93.7,79.1 92.7,81.9z"/>
<path color="#3a6794" d="M92.7,80.1L93.7,78.4 94.8,77.4 93.7,79.1z"/>
<path color="#457c8b" d="M93.7,78.4L94.8,77.4 95.8,76.3 94.8,77.4z"/>
<path color="#5ca095" d="M94.8,77.4L96.9,76.7 97.9,75.6 95.8,76.3z"/>
<path color="#77bc98" d="M96.9,76.7L99.0,76.7 100.0,75.6 97.9,75.6z"/>
<path color="#85c997" d="M99.0,76.7L101.1,77.0 102.1,75.9 100.0,75.6z"/>
<path color="#90d79b" d="M101.1,77.0L103.2,77.6 104.2,76.4 102.1,75.9z"/>
<path color="#92da9c" d="M103.2,77.6L105.3,78.2 106.3,77.1 104.2,76.4z"/>
<path color="#92da9c" d="M105.3,78.2L107.4,78.8 108.4,77.7 106.3,77.1z"/>
<path color="#92da9c" d="M107.4,78.8L109.5,79.5 110.5,78.3 108.4,77.7z"/>
<path color="#92da9c" d="M109.5,79.5L111.7,80.1 112.6,79.0 110.5,78.3z"/>
<path color="#92da9c" d="M111.7,80.1L113.8,80.8 114.8,79.6 112.6,79.0z"/>
<path color="#92da9c" d="M113.8,80.8L116.0,81.4 117.0,80.2 114.8,79.6z"/>
<path color="#92da9c" d="M116.0,81.4L118.2,82.1 119.1,80.9 117.0,80.2z"/>
<path color="#92da9c" d="M118.2,82.1L120.4,82.7 121.3,81.5 119.1,80.9z"/>
<path color="#92da9c" d="M120.4,82.7L122.6,83.4 123.5,82.2 121.3,81.5z"/>
<path color="#92da9c" d="M122.6,83.4L124.8,84.1 125.7,82.8 123.5,82.2z"/>
<path color="#ceb144" d="M58.3,61.4L60.1,60.8 61.3,59.5 59.5,60.2z"/>
<path color="#d9aa42" d="M60.1,60.8L61.9,60.3 63.1,58.9 61.3,59.5z"/>
<path color="#e3a441" d="M61.9,60.3L63.8,60.0 65.0,58.4 63.1,58.9z"/>
<path color="#ee9f40" d="M63.8,60.0L65.7,59.8 66.9,58.1 65.0,58.4z"/>
<path color="#f0913e" d="M65.7,59.8L67.6,59.6 68.8,57.8 66.9,58.1z"/>
<path color="#fc8b3f" d="M67.6,59.6L69.6,59.6 70.7,57.8 68.8,57.8z"/>
<path color="#ff9244" d="M69.6,59.6L71.5,60.1 72.7,58.3 70.7,57.8z"/>
<path color="#ff9344" d="M71.5,60.1L73.5,60.6 74.7,58.8 72.7,58.3z"/>
<path color="#ffa249" d="M73.5,60.6L75.5,61.7 76.7,59.9 74.7,58.8z"/>
<path color="#ffb74e" d="M75.5,61.7L77.5,63.1 78.7,61.5 76.7,59.9z"/>
<path color="#ffd253" d="M77.5,63.1L79.6,65.1 80.7,63.6 78.7,61.5z"/>
<path color="#ffe557" d="M79.6,65.1L81.6,67.3 82.7,66.0 80.7,63.6z"/>
<path color="#fff25f" d="M81.6,67.3L83.6,70.3 84.7,69.1 82.7,66.0z"/>
<path color="#bfed81" d="M83.6,70.3L85.6,74.4 86.7,73.3 84.7,69.1z"/>
<path color="#75cfc4" d="M85.6,74.4L86.6,77.0 87.7,75.9 86.7,73.3z"/>
<path color="#5bacea" d="M86.6,77.0L87.6,80.0 88.7,78.9 87.7,75.9z"/>
<path color="#5767f1" d="M87.6,80.0L88.6,83.4 89.6,82.5 88.7,78.9z"/>
<path color="#7139e6" d="M88.6,83.4L89.6,84.2 90.6,83.3 89.6,82.5z"/>
<path color="#4c2b9c" d="M89.6,84.2L90.6,83.6 91.6,82.7 90.6,83.3z"/>
<path color="#364595" d="M90.6,83.6L91.6,81.0 92.7,80.1 91.6,82.7z"/>
<path color="#3b6993" d="M91.6,81.0L92.7,79.4 93.7,78.4 92.7,80.1z"/>
<path color="#467d8a" d="M92.7,79.4L93.7,78.4 94.8,77.4 93.7,78.4z"/>
<path color="#5ea396" d="M93.7,78.4L95.8,77.8 96.9,76.7 94.8,77.4z"/>
<path color="#77bd98" d="M95.8,77.8L97.9,77.9 99.0,76.7 96.9,76.7z"/>
<path color="#84c997" d="M97.9,77.9L100.0,78.2 101.1,77.0 99.0,76.7z"/>
<path color="#90d79b" d="M100.0,78.2L102.1,78.7 103.2,77.6 101.1,77.0z"/>
<path color="#92da9c" d="M102.1,78.7L104.2,79.4 105.3,78.2 103.2,77.6z"/>
<path color="#92da9c" d="M104.2,79.4L106.4,80.0 107.4,78.8 105.3,78.2z"/>
<path color="#92da9c" d="M106.4,80.0L108.5,80.7 109.5,79.5 107.4,78.8z"/>
<path color="#92da9c" d="M108.5,80.7L110.7,81.3 111.7,80.1 109.5,79.5z"/>
<path color="#92da9c" d="M110.7,81.3L112.8,82.0 113.8,80.8 111.7,80.1z"/>
<path color="#92da9c" d="M112.8,82.0L115.0,82.6 116.0,81.4 113.8,80.8z"/>
<path color="#92da9c" d="M115.0,82.6L117.2,83.3 118.2,82.1 116.0,81.4z"/>
<path color="#92da9c" d="M117.2,83.3L119.4,83.9 120.4,82.7 118.2,82.1z"/>
<path color="#92da9c" d="M119.4,83.9L121.6,84.6 122.6,83.4 120.4,82.7z"/>
<path color="#92da9c" d="M121.6,84.6L123.9,85.3 124.8,84.1 122.6,83.4z"/>
<path color="#cdb546" d="M57.1,62.7L58.9,62.2 60.1,60.8 58.3,61.4z"/>
<path color="#dab144" d="M58.9,62.2L60.8,61.8 61.9,60.3 60.1,60.8z"/>
<path color="#e3ab43" d="M60.8,61.8L62.7,61.6 63.8,60.0 61.9,60.3z"/>
<path color="#efa843" d="M62.7,61.6L64.6,61.4 65.7,59.8 63.8,60.0z"/>
<path color="#f3a041" d="M64.6,61.4L66.5,61.3 67.6,59.6 65.7,59.8z"/>
<path color="#ff9b42" d="M66.5,61.3L68.4,61.3 69.6,59.6 67.6,59.6z"/>
<path color="#ffa346" d="M68.4,61.3L70.4,61.9 71.5,60.1 69.6,59.6z"/>
<path color="#ffa447" d="M70.4,61.9L72.4,62.4 73.5,60.6 71.5,60.1z"/>
<path color="#ffb24b" d="M72.4,62.4L74.4,63.4 75.5,61.7 73.5,60.6z"/>
<path color="#ffc650" d="M74.4,63.4L76.4,64.8 77.5,63.1 75.5,61.7z"/>
<path color="#ffd854" d="M76.4,64.8L78.4,66.5 79.6,65.1 77.5,63.1z"/>
<path color="#ffea58" d="M78.4,66.5L80.5,68.6 81.6,67.3 79.6,65.1z"/>
<path color="#fff360" d="M80.5,68.6L82.5,71.5 83.6,70.3 81.6,67.3z"/>
<path color="#bced84" d="M82.5,71.5L84.5,75.6 85.6,74.4 83.6,70.3z"/>
<path color="#75cfc6" d="M84.5,75.6L85.5,78.1 86.6,77.0 85.6,74.4z"/>
<path color="#5cadea" d="M85.5,78.1L86.5,81.0 87.6,80.0 86.6,77.0z"/>
<path color="#566cf5" d="M86.5,81.0L87.5,84.3 88.6,83.4 87.6,80.0z"/>
<path color="#6d3fea" d="M87.5,84.3L88.5,85.0 89.6,84.2 88.6,83.4z"/>
<path color="#4a31a0" d="M88.5,85.0L89.5,84.5 90.6,83.6 89.6,84.2z"/>
<path color="#354998" d="M89.5,84.5L90.6,81.9 91.6,81.0 90.6,83.6z"/>
<path color="#3b6c92" d="M90.6,81.9L91.6,80.4 92.7,79.4 91.6,81.0z"/>
<path color="#487f8a" d="M91.6,80.4L92.7,79.4 93.7,78.4 92.7,79.4z"/>
<path color="#61a698" d="M92.7,79.4L94.8,79.0 95.8,77.8 93.7,78.4z"/>
<path color="#78bd98" d="M94.8,79.0L96.9,79.0 97.9,77.9 95.8,77.8z"/>
<path color="#84c997" d="M96.9,79.0L99.0,79.3 100.0,78.2 97.9,77.9z"/>
<path color="#90d79b" d="M99.0,79.3L101.1,79.9 102.1,78.7 100.0,78.2z"/>
<path color="#92da9c" d="M101.1,79.9L103.2,80.5 104.2,79.4 102.1,78.7z"/>
<path color="#92da9c" d="M103.2,80.5L105.4,81.2 106.4,80.0 104.2,79.4z"/>
<path color="#92da9c" d="M105.4,81.2L107.5,81.8 108.5,80.7 106.4,80.0z"/>
<path color="#92da9c" d="M107.5,81.8L109.7,82.5 110.7,81.3 108.5,80.7z"/>
<path color="#92da9c" d="M109.7,82.5L111.9,83.2 112.8,82.0 110.7,81.3z"/>
<path color="#92da9c" d="M111.9,83.2L114.0,83.8 115.0,82.6 112.8,82.0z"/>
<path color="#92da9c" d="M114.0,83.8L116.2,84.5 117.2,83.3 115.0,82.6z"/>
<path color="#92da9c" d="M116.2,84.5L118.5,85.2 119.4,83.9 117.2,83.3z"/>
<path color="#92da9c" d="M118.5,85.2L120.7,85.8 121.6,84.6 119.4,83.9z"/>
<path color="#92da9c" d="M120.7,85.8L122.9,86.5 123.9,85.3 121.6,84.6z"/>
<path color="#403a17" d="M55.9,64.0L57.7,63.7 58.9,62.2 57.1,62.7z"/>
<path color="#443916" d="M57.7,63.7L59.6,63.5 60.8,61.8 58.9,62.2z"/>
<path color="#473816" d="M59.6,63.5L61.5,63.4 62.7,61.6 60.8,61.8z"/>
<path color="#4b3816" d="M61.5,63.4L63.4,63.3 64.6,61.4 62.7,61.6z"/>
<path color="#4c3615" d="M63.4,63.3L65.3,63.3 66.5,61.3 64.6,61.4z"/>
<path color="#503615" d="M65.3,63.3L67.3,63.4 68.4,61.3 66.5,61.3z"/>
<path color="#563817" d="M67.3,63.4L69.2,63.9 70.4,61.9 68.4,61.3z"/>
<path color="#573817" d="M69.2,63.9L71.2,64.5 72.4,62.4 70.4,61.9z"/>
<path color="#5c3d18" d="M71.2,64.5L73.2,65.4 74.4,63.4 72.4,62.4z"/>
<path color="#5d4119" d="M73.2,65.4L75.3,66.7 76.4,64.8 74.4,63.4z"/>
<path color="#5d451b" d="M75.3,66.7L77.3,68.3 78.4,66.5 76.4,64.8z"/>
<path color="#5b4b1c" d="M77.3,68.3L79.3,70.3 80.5,68.6 78.4,66.5z"/>
<path color="#524d1f" d="M79.3,70.3L81.4,73.0 82.5,71.5 80.5,68.6z"/>
<path color="#394a2a" d="M81.4,73.0L83.4,76.8 84.5,75.6 82.5,71.5z"/>
<path color="#25413d" d="M83.4,76.8L84.4,79.1 85.5,78.1 84.5,75.6z"/>
<path color="#1d3648" d="M84.4,79.1L85.4,81.8 86.5,81.0 85.5,78.1z"/>
<path color="#1a244e" d="M85.4,81.8L86.4,84.7 87.5,84.3 86.5,81.0z"/>
<path color="#1e1746" d="M86.4,84.7L87.4,85.3 88.5,85.0 87.5,84.3z"/>
<path color="#151231" d="M87.4,85.3L88.5,84.6 89.5,84.5 88.5,85.0z"/>
<path color="#10192e" d="M88.5,84.6L89.5,82.2 90.6,81.9 89.5,84.5z"/>
<path color="#13222c" d="M89.5,82.2L90.6,80.9 91.6,80.4 90.6,81.9z"/>
<path color="#17292a" d="M90.6,80.9L91.6,80.2 92.7,79.4 91.6,80.4z"/>
<path color="#1f342e" d="M91.6,80.2L93.7,79.9 94.8,79.0 92.7,79.4z"/>
<path color="#263b2f" d="M93.7,79.9L95.8,80.1 96.9,79.0 94.8,79.0z"/>
<path color="#293f2f" d="M95.8,80.1L97.9,80.5 99.0,79.3 96.9,79.0z"/>
<path color="#2d4330" d="M97.9,80.5L100.0,81.1 101.1,79.9 99.0,79.3z"/>
<path color="#2d4330" d="M100.0,81.1L102.2,81.7 103.2,80.5 101.1,79.9z"/>
<path color="#2d4330" d="M102.2,81.7L104.3,82.4 105.4,81.2 103.2,80.5z"/>
<path color="#2d4330" d="M104.3,82.4L106.5,83.0 107.5,81.8 105.4,81.2z"/>
<path color="#2d4330" d="M106.5,83.0L108.7,83.7 109.7,82.5 107.5,81.8z"/>
<path color="#2d4330" d="M108.7,83.7L110.8,84.4 111.9,83.2 109.7,82.5z"/>
<path color="#2d4330" d="M110.8,84.4L113.0,85.1 114.0,83.8 111.9,83.2z"/>
<path color="#2d4330" d="M113.0,85.1L115.3,85.7 116.2,84.5 114.0,83.8z"/>
<path color="#2d4330" d="M115.3,85.7L117.5,86.4 118.5,85.2 116.2,84.5z"/>
<path color="#2d4330" d="M117.5,86.4L119.7,87.1 120.7,85.8 118.5,85.2z"/>
<path color="#2d4330" d="M119.7,87.1L122.0,87.8 122.9,86.5 120.7,85.8z"/>
<path color="#403c18" d="M54.7,65.3L56.5,65.2 57.7,63.7 55.9,64.0z"/>
<path color="#453c17" d="M56.5,65.2L58.4,65.2 59.6,63.5 57.7,63.7z"/>
<path color="#493c17" d="M58.4,65.2L60.3,65.2 61.5,63.4 59.6,63.5z"/>
<path color="#4b3c17" d="M60.3,65.2L62.2,65.2 63.4,63.3 61.5,63.4z"/>
<path color="#4c3916" d="M62.2,65.2L64.1,65.2 65.3,63.3 63.4,63.3z"/>
<path color="#4f3916" d="M64.1,65.2L66.1,65.4 67.3,63.4 65.3,63.3z"/>
<path color="#553c18" d="M66.1,65.4L68.1,65.9 69.2,63.9 67.3,63.4z"/>
<path color="#563d18" d="M68.1,65.9L70.1,66.5 71.2,64.5 69.2,63.9z"/>
<path color="#5a4019" d="M70.1,66.5L72.1,67.4 73.2,65.4 71.2,64.5z"/>
<path color="#5b441a" d="M72.1,67.4L74.1,68.6 75.3,66.7 73.2,65.4z"/>
<path color="#5b481b" d="M74.1,68.6L76.1,70.0 77.3,68.3 75.3,66.7z"/>
<path color="#594d1d" d="M76.1,70.0L78.2,71.9 79.3,70.3 77.3,68.3z"/>
<path color="#504e20" d="M78.2,71.9L80.2,74.5 81.4,73.0 79.3,70.3z"/>
<path color="#374b2d" d="M80.2,74.5L82.3,78.0 83.4,76.8 81.4,73.0z"/>
<path color="#25413e" d="M82.3,78.0L83.3,80.1 84.4,79.1 83.4,76.8z"/>
<path color="#1e3847" d="M83.3,80.1L84.3,82.5 85.4,81.8 84.4,79.1z"/>
<path color="#1a294e" d="M84.3,82.5L85.3,85.1 86.4,84.7 85.4,81.8z"/>
<path color="#1b1d48" d="M85.3,85.1L86.4,85.6 87.4,85.3 86.4,84.7z"/>
<path color="#121732" d="M86.4,85.6L87.4,84.7 88.5,84.6 87.4,85.3z"/>
<path color="#111d2c" d="M87.4,84.7L88.4,82.5 89.5,82.2 88.5,84.6z"/>
<path color="#15252a" d="M88.4,82.5L89.5,81.5 90.6,80.9 89.5,82.2z"/>
<path color="#192c2b" d="M89.5,81.5L90.5,80.9 91.6,80.2 90.6,80.9z"/>
<path color="#21362e" d="M90.5,80.9L92.6,80.8 93.7,79.9 91.6,80.2z"/>
<path color="#273d2f" d="M92.6,80.8L94.7,81.2 95.8,80.1 93.7,79.9z"/>
<path color="#2a402f" d="M94.7,81.2L96.9,81.7 97.9,80.5 95.8,80.1z"/>
<path color="#2d4330" d="M96.9,81.7L99.0,82.3 100.0,81.1 97.9,80.5z"/>
<path color="#2d4330" d="M99.0,82.3L101.1,82.9 102.2,81.7 100.0,81.1z"/>
<path color="#2d4330" d="M101.1,82.9L103.3,83.6 104.3,82.4 102.2,81.7z"/>
<path color="#2d4330" d="M103.3,83.6L105.5,84.3 106.5,83.0 104.3,82.4z"/>
<path color="#2d4330" d="M105.5,84.3L107.6,84.9 108.7,83.7 106.5,83.0z"/>
<path color="#2d4330" d="M107.6,84.9L109.8,85.6 110.8,84.4 108.7,83.7z"/>
<path color="#2d4330" d="M109.8,85.6L112.0,86.3 113.0,85.1 110.8,84.4z"/>
<path color="#2d4330" d="M112.0,86.3L114.3,87.0 115.3,85.7 113.0,85.1z"/>
<path color="#2d4330" d="M114.3,87.0L116.5,87.7 117.5,86.4 115.3,85.7z"/>
<path color="#2d4330" d="M116.5,87.7L118.8,88.4 119.7,87.1 117.5,86.4z"/>
<path color="#2d4330" d="M118.8,88.4L121.0,89.0 122.0,87.8 119.7,87.1z"/>
<path color="#423f1a" d="M53.4,66.6L55.3,66.7 56.5,65.2 54.7,65.3z"/>
<path color="#463f19" d="M55.3,66.7L57.2,66.8 58.4,65.2 56.5,65.2z"/>
<path color="#494018" d="M57.2,66.8L59.1,67.0 60.3,65.2 58.4,65.2z"/>
<path color="#4b4018" d="M59.1,67.0L61.0,67.1 62.2,65.2 60.3,65.2z"/>
<path color="#4b3d17" d="M61.0,67.1L63.0,67.2 64.1,65.2 62.2,65.2z"/>
<path color="#4e3d17" d="M63.0,67.2L64.9,67.4 66.1,65.4 64.1,65.2z"/>
<path color="#544019" d="M64.9,67.4L66.9,68.0 68.1,65.9 66.1,65.4z"/>
<path color="#544019" d="M66.9,68.0L68.9,68.6 70.1,66.5 68.1,65.9z"/>
<path color="#57441a" d="M68.9,68.6L70.9,69.4 72.1,67.4 70.1,66.5z"/>
<path color="#59471b" d="M70.9,69.4L72.9,70.5 74.1,68.6 72.1,67.4z"/>
<path color="#594b1c" d="M72.9,70.5L75.0,71.8 76.1,70.0 74.1,68.6z"/>
<path color="#564d1e" d="M75.0,71.8L77.0,73.6 78.2,71.9 76.1,70.0z"/>
<path color="#4e4f21" d="M77.0,73.6L79.1,76.0 80.2,74.5 78.2,71.9z"/>
<path color="#354b2f" d="M79.1,76.0L81.2,79.2 82.3,78.0 80.2,74.5z"/>
<path color="#26423e" d="M81.2,79.2L82.2,81.1 83.3,80.1 82.3,78.0z"/>
<path color="#1f3a47" d="M82.2,81.1L83.2,83.3 84.3,82.5 83.3,80.1z"/>
<path color="#1b2d4d" d="M83.2,83.3L84.2,85.5 85.3,85.1 84.3,82.5z"/>
<path color="#182349" d="M84.2,85.5L85.3,85.9 86.4,85.6 85.3,85.1z"/>
<path color="#111b31" d="M85.3,85.9L86.3,84.8 87.4,84.7 86.4,85.6z"/>
<path color="#12202b" d="M86.3,84.8L87.3,82.7 88.4,82.5 87.4,84.7z"/>
<path color="#172829" d="M87.3,82.7L88.4,82.0 89.5,81.5 88.4,82.5z"/>
<path color="#1c302b" d="M88.4,82.0L89.4,81.7 90.5,80.9 89.5,81.5z"/>
<path color="#23382d" d="M89.4,81.7L91.5,81.8 92.6,80.8 90.5,80.9z"/>
<path color="#293f2f" d="M91.5,81.8L93.7,82.3 94.7,81.2 92.6,80.8z"/>
<path color="#2b4130" d="M93.7,82.3L95.8,82.8 96.9,81.7 94.7,81.2z"/>
<path color="#2d4330" d="M95.8,82.8L97.9,83.5 99.0,82.3 96.9,81.7z"/>
<path color="#2d4330" d="M97.9,83.5L100.1,84.1 101.1,82.9 99.0,82.3z"/>
<path color="#2d4330" d="M100.1,84.1L102.2,84.8 103.3,83.6 101.1,82.9z"/>
<path color="#2d4330" d="M102.2,84.8L104.4,85.5 105.5,84.3 103.3,83.6z"/>
<path color="#2d4330" d="M104.4,85.5L106.6,86.2 107.6,84.9 105.5,84.3z"/>
<path color="#2d4330" d="M106.6,86.2L108.8,86.9 109.8,85.6 107.6,84.9z"/>
<path color="#2d4330" d="M108.8,86.9L111.0,87.5 112.0,86.3 109.8,85.6z"/>
<path color="#2d4330" d="M111.0,87.5L113.3,88.2 114.3,87.0 112.0,86.3z"/>
<path color="#2d4330" d="M113.3,88.2L115.5,88.9 116.5,87.7 114.3,87.0z"/>
<path color="#2d4330" d="M115.5,88.9L117.8,89.6 118.8,88.4 116.5,87.7z"/>
<path color="#2d4330" d="M117.8,89.6L120.0,90.3 121.0,89.0 118.8,88.4z"/>
<path color="#44421b" d="M52.2,68.0L54.1,68.2 55.3,66.7 53.4,66.6z"/>
<path color="#46421b" d="M54.1,68.2L56.0,68.5 57.2,66.8 55.3,66.7z"/>
<path color="#48421a" d="M56.0,68.5L57.9,68.8 59.1,67.0 57.2,66.8z"/>
<path color="#4a421a" d="M57.9,68.8L59.9,69.1 61.0,67.1 59.1,67.0z"/>
<path color="#4a4019" d="M59.9,69.1L61.8,69.2 63.0,67.2 61.0,67.1z"/>
<path color="#4d4118" d="M61.8,69.2L63.7,69.5 64.9,67.4 63.0,67.2z"/>
<path color="#524419" d="M63.7,69.5L65.7,70.0 66.9,68.0 64.9,67.4z"/>
<path color="#52441a" d="M65.7,70.0L67.7,70.6 68.9,68.6 66.9,68.0z"/>
<path color="#55471a" d="M67.7,70.6L69.7,71.4 70.9,69.4 68.9,68.6z"/>
<path color="#56491b" d="M69.7,71.4L71.8,72.4 72.9,70.5 70.9,69.4z"/>
<path color="#554b1d" d="M71.8,72.4L73.8,73.6 75.0,71.8 72.9,70.5z"/>
<path color="#534e1f" d="M73.8,73.6L75.9,75.2 77.0,73.6 75.0,71.8z"/>
<path color="#4c4f22" d="M75.9,75.2L77.9,77.5 79.1,76.0 77.0,73.6z"/>
<path color="#344b32" d="M77.9,77.5L80.0,80.5 81.2,79.2 79.1,76.0z"/>
<path color="#26433f" d="M80.0,80.5L81.1,82.2 82.2,81.1 81.2,79.2z"/>
<path color="#203c46" d="M81.1,82.2L82.1,84.1 83.2,83.3 82.2,81.1z"/>
<path color="#1c324c" d="M82.1,84.1L83.1,86.0 84.2,85.5 83.2,83.3z"/>
<path color="#182644" d="M83.1,86.0L84.1,86.2 85.3,85.9 84.2,85.5z"/>
<path color="#121e2f" d="M84.1,86.2L85.2,84.9 86.3,84.8 85.3,85.9z"/>
<path color="#132328" d="M85.2,84.9L86.2,83.0 87.3,82.7 86.3,84.8z"/>
<path color="#1a2d29" d="M86.2,83.0L87.3,82.6 88.4,82.0 87.3,82.7z"/>
<path color="#20342b" d="M87.3,82.6L88.3,82.5 89.4,81.7 88.4,82.0z"/>
<path color="#263a2c" d="M88.3,82.5L90.4,82.7 91.5,81.8 89.4,81.7z"/>
<path color="#2b4130" d="M90.4,82.7L92.6,83.4 93.7,82.3 91.5,81.8z"/>
<path color="#2c4230" d="M92.6,83.4L94.7,84.0 95.8,82.8 93.7,82.3z"/>
<path color="#2d4330" d="M94.7,84.0L96.8,84.7 97.9,83.5 95.8,82.8z"/>
<path color="#2d4330" d="M96.8,84.7L99.0,85.4 100.1,84.1 97.9,83.5z"/>
<path color="#2d4330" d="M99.0,85.4L101.2,86.1 102.2,84.8 100.1,84.1z"/>
<path color="#2d4330" d="M101.2,86.1L103.4,86.7 104.4,85.5 102.2,84.8z"/>
<path color="#2d4330" d="M103.4,86.7L105.6,87.4 106.6,86.2 104.4,85.5z"/>
<path color="#2d4330" d="M105.6,87.4L107.8,88.1 108.8,86.9 106.6,86.2z"/>
<path color="#2d4330" d="M107.8,88.1L110.0,88.8 111.0,87.5 108.8,86.9z"/>
<path color="#2d4330" d="M110.0,88.8L112.2,89.5 113.3,88.2 111.0,87.5z"/>
<path color="#2d4330" d="M112.2,89.5L114.5,90.2 115.5,88.9 113.3,88.2z"/>
<path color="#2d4330" d="M114.5,90.2L116.8,90.9 117.8,89.6 115.5,88.9z"/>
<path color="#2d4330" d="M116.8,90.9L119.1,91.6 120.0,90.3 117.8,89.6z"/>
<path color="#41401b" d="M51.2,68.6L53.1,68.9 54.1,68.2 52.2,68.0z"/>
<path color="#43401a" d="M53.1,68.9L55.0,69.2 56.0,68.5 54.1,68.2z"/>
<path color="#44401a" d="M55.0,69.2L56.9,69.5 57.9,68.8 56.0,68.5z"/>
<path color="#464019" d="M56.9,69.5L58.9,69.9 59.9,69.1 57.9,68.8z"/>
<path color="#463f19" d="M58.9,69.9L60.8,70.1 61.8,69.2 59.9,69.1z"/>
<path color="#494019" d="M60.8,70.1L62.8,70.4 63.7,69.5 61.8,69.2z"/>
<path color="#4f441a" d="M62.8,70.4L64.8,71.0 65.7,70.0 63.7,69.5z"/>
<path color="#50451a" d="M64.8,71.0L66.8,71.7 67.7,70.6 65.7,70.0z"/>
<path color="#52481b" d="M66.8,71.7L68.8,72.6 69.7,71.4 67.7,70.6z"/>
<path color="#534a1c" d="M68.8,72.6L70.8,73.6 71.8,72.4 69.7,71.4z"/>
<path color="#524b1e" d="M70.8,73.6L72.9,74.9 73.8,73.6 71.8,72.4z"/>
<path color="#504e20" d="M72.9,74.9L74.9,76.6 75.9,75.2 73.8,73.6z"/>
<path color="#485024" d="M74.9,76.6L77.0,78.9 77.9,77.5 75.9,75.2z"/>
<path color="#324b36" d="M77.0,78.9L79.1,81.8 80.0,80.5 77.9,77.5z"/>
<path color="#274541" d="M79.1,81.8L80.1,83.3 81.1,82.2 80.0,80.5z"/>
<path color="#213e48" d="M80.1,83.3L81.2,85.1 82.1,84.1 81.1,82.2z"/>
<path color="#1e364e" d="M81.2,85.1L82.2,86.9 83.1,86.0 82.1,84.1z"/>
<path color="#1a2b47" d="M82.2,86.9L83.2,87.1 84.1,86.2 83.1,86.0z"/>
<path color="#13212f" d="M83.2,87.1L84.3,85.8 85.2,84.9 84.1,86.2z"/>
<path color="#152528" d="M84.3,85.8L85.3,83.9 86.2,83.0 85.2,84.9z"/>
<path color="#1e312b" d="M85.3,83.9L86.4,83.4 87.3,82.6 86.2,83.0z"/>
<path color="#24382c" d="M86.4,83.4L87.4,83.4 88.3,82.5 87.3,82.6z"/>
<path color="#293e2e" d="M87.4,83.4L89.5,83.7 90.4,82.7 88.3,82.5z"/>
<path color="#2d4330" d="M89.5,83.7L91.7,84.3 92.6,83.4 90.4,82.7z"/>
<path color="#2d4330" d="M91.7,84.3L93.8,85.0 94.7,84.0 92.6,83.4z"/>
<path color="#2d4330" d="M93.8,85.0L96.0,85.7 96.8,84.7 94.7,84.0z"/>
<path color="#2d4330" d="M96.0,85.7L98.1,86.4 99.0,85.4 96.8,84.7z"/>
<path color="#2d4330" d="M98.1,86.4L100.3,87.1 101.2,86.1 99.0,85.4z"/>
<path color="#2d4330" d="M100.3,87.1L102.5,87.7 103.4,86.7 101.2,86.1z"/>
<path color="#2d4330" d="M102.5,87.7L104.7,88.4 105.6,87.4 103.4,86.7z"/>
<path color="#2d4330" d="M104.7,88.4L106.9,89.1 107.8,88.1 105.6,87.4z"/>
<path color="#2d4330" d="M106.9,89.1L109.2,89.8 110.0,88.8 107.8,88.1z"/>
<path color="#2d4330" d="M109.2,89.8L111.4,90.5 112.2,89.5 110.0,88.8z"/>
<path color="#2d4330" d="M111.4,90.5L113.7,91.2 114.5,90.2 112.2,89.5z"/>
<path color="#2d4330" d="M113.7,91.2L116.0,92.0 116.8,90.9 114.5,90.2z"/>
<path color="#2d4330" d="M116.0,92.0L118.3,92.7 119.1,91.6 116.8,90.9z"/>
<path color="#d4cf56" d="M50.9,68.8L52.8,69.1 53.1,68.9 51.2,68.6z"/>
<path color="#d8ce54" d="M52.8,69.1L54.7,69.4 55.0,69.2 53.1,68.9z"/>
<path color="#ddce53" d="M54.7,69.4L56.7,69.7 56.9,69.5 55.0,69.2z"/>
<path color="#e3cf52" d="M56.7,69.7L58.6,70.1 58.9,69.9 56.9,69.5z"/>
<path color="#e6cd50" d="M58.6,70.1L60.6,70.3 60.8,70.1 58.9,69.9z"/>
<path color="#efd150" d="M60.6,70.3L62.5,70.7 62.8,70.4 60.8,70.1z"/>
<path color="#ffdc53" d="M62.5,70.7L64.5,71.3 64.8,71.0 62.8,70.4z"/>
<path color="#ffe155" d="M64.5,71.3L66.5,72.0 66.8,71.7 64.8,71.0z"/>
<path color="#ffe859" d="M66.5,72.0L68.5,72.9 68.8,72.6 66.8,71.7z"/>
<path color="#ffef5d" d="M68.5,72.9L70.6,73.9 70.8,73.6 68.8,72.6z"/>
<path color="#fff562" d="M70.6,73.9L72.6,75.2 72.9,74.9 70.8,73.6z"/>
<path color="#fffe69" d="M72.6,75.2L74.7,76.9 74.9,76.6 72.9,74.9z"/>
<path color="#dfff7d" d="M74.7,76.9L76.8,79.2 77.0,78.9 74.9,76.6z"/>
<path color="#9cefb4" d="M76.8,79.2L78.9,82.1 79.1,81.8 77.0,78.9z"/>
<path color="#7cddd7" d="M78.9,82.1L79.9,83.6 80.1,83.3 79.1,81.8z"/>
<path color="#6bc8eb" d="M79.9,83.6L81.0,85.4 81.2,85.1 80.1,83.3z"/>
<path color="#60aefe" d="M81.0,85.4L82.0,87.1 82.2,86.9 81.2,85.1z"/>
<path color="#528ce5" d="M82.0,87.1L83.0,87.3 83.2,87.1 82.2,86.9z"/>
<path color="#3c6d97" d="M83.0,87.3L84.0,86.0 84.3,85.8 83.2,87.1z"/>
<path color="#44787f" d="M84.0,86.0L85.1,84.1 85.3,83.9 84.3,85.8z"/>
<path color="#619f88" d="M85.1,84.1L86.1,83.6 86.4,83.4 85.3,83.9z"/>
<path color="#75b58e" d="M86.1,83.6L87.2,83.6 87.4,83.4 86.4,83.4z"/>
<path color="#86ca96" d="M87.2,83.6L89.3,83.9 89.5,83.7 87.4,83.4z"/>
<path color="#92d99c" d="M89.3,83.9L91.4,84.6 91.7,84.3 89.5,83.7z"/>
<path color="#92da9c" d="M91.4,84.6L93.6,85.3 93.8,85.0 91.7,84.3z"/>
<path color="#92da9c" d="M93.6,85.3L95.7,85.9 96.0,85.7 93.8,85.0z"/>
<path color="#92da9c" d="M95.7,85.9L97.9,86.6 98.1,86.4 96.0,85.7z"/>
<path color="#92da9c" d="M97.9,86.6L100.1,87.3 100.3,87.1 98.1,86.4z"/>
<path color="#92da9c" d="M100.1,87.3L102.3,88.0 102.5,87.7 100.3,87.1z"/>
<path color="#92da9c" d="M102.3,88.0L104.5,88.7 104.7,88.4 102.5,87.7z"/>
<path color="#92da9c" d="M104.5,88.7L106.7,89.4 106.9,89.1 104.7,88.4z"/>
<path color="#92da9c" d="M106.7,89.4L109.0,90.1 109.2,89.8 106.9,89.1z"/>
<path color="#92da9c" d="M109.0,90.1L111.2,90.8 111.4,90.5 109.2,89.8z"/>
<path color="#92da9c" d="M111.2,90.8L113.5,91.5 113.7,91.2 111.4,90.5z"/>
<path color="#92da9c" d="M113.5,91.5L115.8,92.2 116.0,92.0 113.7,91.2z"/>
<path color="#92da9c" d="M115.8,92.2L118.1,92.9 118.3,92.7 116.0,92.0z"/>
<path color="#d6ce55" d="M49.6,69.7L51.5,70.0 52.8,69.1 50.9,68.8z"/>
<path color="#dace54" d="M51.5,70.0L53.5,70.3 54.7,69.4 52.8,69.1z"/>
<path color="#e0cf53" d="M53.5,70.3L55.4,70.6 56.7,69.7 54.7,69.4z"/>
<path color="#e6d152" d="M55.4,70.6L57.3,71.1 58.6,70.1 56.7,69.7z"/>
<path color="#ead051" d="M57.3,71.1L59.3,71.4 60.6,70.3 58.6,70.1z"/>
<path color="#f1d351" d="M59.3,71.4L61.3,71.9 62.5,70.7 60.6,70.3z"/>
<path color="#ffdd54" d="M61.3,71.9L63.3,72.5 64.5,71.3 62.5,70.7z"/>
<path color="#ffe356" d="M63.3,72.5L65.3,73.3 66.5,72.0 64.5,71.3z"/>
<path color="#ffea5a" d="M65.3,73.3L67.3,74.3 68.5,72.9 66.5,72.0z"/>
<path color="#fff05e" d="M67.3,74.3L69.4,75.4 70.6,73.9 68.5,72.9z"/>
<path color="#fff663" d="M69.4,75.4L71.4,76.7 72.6,75.2 70.6,73.9z"/>
<path color="#fbff6b" d="M71.4,76.7L73.5,78.6 74.7,76.9 72.6,75.2z"/>
<path color="#d3ff86" d="M73.5,78.6L75.6,80.9 76.8,79.2 74.7,76.9z"/>
<path color="#97edbb" d="M75.6,80.9L77.7,83.7 78.9,82.1 76.8,79.2z"/>
<path color="#7adbdc" d="M77.7,83.7L78.8,85.1 79.9,83.6 78.9,82.1z"/>
<path color="#6bc8ef" d="M78.8,85.1L79.8,86.6 81.0,85.4 79.9,83.6z"/>
<path color="#60afff" d="M79.8,86.6L80.8,88.2 82.0,87.1 81.0,85.4z"/>
<path color="#528de3" d="M80.8,88.2L81.9,88.4 83.0,87.3 82.0,87.1z"/>
<path color="#3d6e97" d="M81.9,88.4L82.9,87.1 84.0,86.0 83.0,87.3z"/>
<path color="#45787f" d="M82.9,87.1L83.9,85.2 85.1,84.1 84.0,86.0z"/>
<path color="#629f87" d="M83.9,85.2L85.0,84.7 86.1,83.6 85.1,84.1z"/>
<path color="#76b68d" d="M85.0,84.7L86.1,84.7 87.2,83.6 86.1,83.6z"/>
<path color="#88cd97" d="M86.1,84.7L88.2,85.2 89.3,83.9 87.2,83.6z"/>
<path color="#92d99c" d="M88.2,85.2L90.3,85.8 91.4,84.6 89.3,83.9z"/>
<path color="#92da9c" d="M90.3,85.8L92.5,86.5 93.6,85.3 91.4,84.6z"/>
<path color="#92da9c" d="M92.5,86.5L94.6,87.2 95.7,85.9 93.6,85.3z"/>
<path color="#92da9c" d="M94.6,87.2L96.8,87.9 97.9,86.6 95.7,85.9z"/>
<path color="#92da9c" d="M96.8,87.9L99.0,88.6 100.1,87.3 97.9,86.6z"/>
<path color="#92da9c" d="M99.0,88.6L101.2,89.3 102.3,88.0 100.1,87.3z"/>
<path color="#92da9c" d="M101.2,89.3L103.4,90.0 104.5,88.7 102.3,88.0z"/>
<path color="#92da9c" d="M103.4,90.0L105.7,90.7 106.7,89.4 104.5,88.7z"/>
<path color="#92da9c" d="M105.7,90.7L107.9,91.4 109.0,90.1 106.7,89.4z"/>
<path color="#92da9c" d="M107.9,91.4L110.2,92.1 111.2,90.8 109.0,90.1z"/>
<path color="#92da9c" d="M110.2,92.1L112.4,92.8 113.5,91.5 111.2,90.8z"/>
<path color="#92da9c" d="M112.4,92.8L114.7,93.5 115.8,92.2 113.5,91.5z"/>
<path color="#92da9c" d="M114.7,93.5L117.0,94.3 118.1,92.9 115.8,92.2z"/>
<path color="#d8cd54" d="M48.3,70.6L50.2,70.9 51.5,70.0 49.6,69.7z"/>
<path color="#dece53" d="M50.2,70.9L52.2,71.2 53.5,70.3 51.5,70.0z"/>
<path color="#e4d052" d="M52.2,71.2L54.1,71.6 55.4,70.6 53.5,70.3z"/>
<path color="#ebd353" d="M54.1,71.6L56.1,72.1 57.3,71.1 55.4,70.6z"/>
<path color="#f0d552" d="M56.1,72.1L58.0,72.6 59.3,71.4 57.3,71.1z"/>
<path color="#f5d753" d="M58.0,72.6L60.0,73.1 61.3,71.9 59.3,71.4z"/>
<path color="#ffdf55" d="M60.0,73.1L62.0,73.8 63.3,72.5 61.3,71.9z"/>
<path color="#ffe658" d="M62.0,73.8L64.1,74.7 65.3,73.3 63.3,72.5z"/>
<path color="#ffed5c" d="M64.1,74.7L66.1,75.7 67.3,74.3 65.3,73.3z"/>
<path color="#fff361" d="M66.1,75.7L68.2,76.9 69.4,75.4 67.3,74.3z"/>
<path color="#fff966" d="M68.2,76.9L70.2,78.3 71.4,76.7 69.4,75.4z"/>
<path color="#f4ff6f" d="M70.2,78.3L72.3,80.3 73.5,78.6 71.4,76.7z"/>
<path color="#bffd95" d="M72.3,80.3L74.4,82.7 75.6,80.9 73.5,78.6z"/>
<path color="#8eeac6" d="M74.4,82.7L76.5,85.4 77.7,83.7 75.6,80.9z"/>
<path color="#77d8e5" d="M76.5,85.4L77.6,86.6 78.8,85.1 77.7,83.7z"/>
<path color="#6bc8f5" d="M77.6,86.6L78.6,87.9 79.8,86.6 78.8,85.1z"/>
<path color="#61b1ff" d="M78.6,87.9L79.7,89.4 80.8,88.2 79.8,86.6z"/>
<path color="#528de0" d="M79.7,89.4L80.7,89.5 81.9,88.4 80.8,88.2z"/>
<path color="#3d6f96" d="M80.7,89.5L81.8,88.3 82.9,87.1 81.9,88.4z"/>
<path color="#45797e" d="M81.8,88.3L82.8,86.3 83.9,85.2 82.9,87.1z"/>
<path color="#639e84" d="M82.8,86.3L83.8,85.8 85.0,84.7 83.9,85.2z"/>
<path color="#78b88c" d="M83.8,85.8L84.9,85.8 86.1,84.7 85.0,84.7z"/>
<path color="#8cd299" d="M84.9,85.8L87.0,86.4 88.2,85.2 86.1,84.7z"/>
<path color="#92d99c" d="M87.0,86.4L89.2,87.1 90.3,85.8 88.2,85.2z"/>
<path color="#92da9c" d="M89.2,87.1L91.3,87.8 92.5,86.5 90.3,85.8z"/>
<path color="#92da9c" d="M91.3,87.8L93.5,88.4 94.6,87.2 92.5,86.5z"/>
<path color="#92da9c" d="M93.5,88.4L95.7,89.1 96.8,87.9 94.6,87.2z"/>
<path color="#92da9c" d="M95.7,89.1L97.9,89.8 99.0,88.6 96.8,87.9z"/>
<path color="#92da9c" d="M97.9,89.8L100.1,90.6 101.2,89.3 99.0,88.6z"/>
<path color="#92da9c" d="M100.1,90.6L102.4,91.3 103.4,90.0 101.2,89.3z"/>
<path color="#92da9c" d="M102.4,91.3L104.6,92.0 105.7,90.7 103.4,90.0z"/>
<path color="#92da9c" d="M104.6,92.0L106.8,92.7 107.9,91.4 105.7,90.7z"/>
<path color="#92da9c" d="M106.8,92.7L109.1,93.4 110.2,92.1 107.9,91.4z"/>
<path color="#92da9c" d="M109.1,93.4L111.4,94.1 112.4,92.8 110.2,92.1z"/>
<path color="#92da9c" d="M111.4,94.1L113.7,94.9 114.7,93.5 112.4,92.8z"/>
<path color="#92da9c" d="M113.7,94.9L116.0,95.6 117.0,94.3 114.7,93.5z"/>
<path color="#dbcc53" d="M47.0,71.5L48.9,71.8 50.2,70.9 48.3,70.6z"/>
<path color="#e1ce52" d="M48.9,71.8L50.8,72.1 52.2,71.2 50.2,70.9z"/>
<path color="#e8d152" d="M50.8,72.1L52.8,72.5 54.1,71.6 52.2,71.2z"/>
<path color="#f0d553" d="M52.8,72.5L54.8,73.1 56.1,72.1 54.1,71.6z"/>
<path color="#f5d954" d="M54.8,73.1L56.8,73.7 58.0,72.6 56.1,72.1z"/>
<path color="#f9db54" d="M56.8,73.7L58.8,74.3 60.0,73.1 58.0,72.6z"/>
<path color="#ffe056" d="M58.8,74.3L60.8,75.1 62.0,73.8 60.0,73.1z"/>
<path color="#ffe95a" d="M60.8,75.1L62.8,76.0 64.1,74.7 62.0,73.8z"/>
<path color="#ffef5e" d="M62.8,76.0L64.9,77.2 66.1,75.7 64.1,74.7z"/>
<path color="#fff563" d="M64.9,77.2L66.9,78.5 68.2,76.9 66.1,75.7z"/>
<path color="#fafb69" d="M66.9,78.5L69.0,79.9 70.2,78.3 68.2,76.9z"/>
<path color="#e6ff78" d="M69.0,79.9L71.1,82.1 72.3,80.3 70.2,78.3z"/>
<path color="#acf9a7" d="M71.1,82.1L73.2,84.4 74.4,82.7 72.3,80.3z"/>
<path color="#85e6d2" d="M73.2,84.4L75.4,87.0 76.5,85.4 74.4,82.7z"/>
<path color="#74d5ed" d="M75.4,87.0L76.4,88.1 77.6,86.6 76.5,85.4z"/>
<path color="#6ac8fb" d="M76.4,88.1L77.5,89.2 78.6,87.9 77.6,86.6z"/>
<path color="#62b3ff" d="M77.5,89.2L78.5,90.5 79.7,89.4 78.6,87.9z"/>
<path color="#518edd" d="M78.5,90.5L79.5,90.7 80.7,89.5 79.7,89.4z"/>
<path color="#3d7095" d="M79.5,90.7L80.6,89.4 81.8,88.3 80.7,89.5z"/>
<path color="#467a7d" d="M80.6,89.4L81.6,87.5 82.8,86.3 81.8,88.3z"/>
<path color="#649e82" d="M81.6,87.5L82.7,87.0 83.8,85.8 82.8,86.3z"/>
<path color="#7bba8b" d="M82.7,87.0L83.7,87.0 84.9,85.8 83.8,85.8z"/>
<path color="#90d69b" d="M83.7,87.0L85.9,87.6 87.0,86.4 84.9,85.8z"/>
<path color="#92d99c" d="M85.9,87.6L88.0,88.3 89.2,87.1 87.0,86.4z"/>
<path color="#92da9c" d="M88.0,88.3L90.2,89.0 91.3,87.8 89.2,87.1z"/>
<path color="#92da9c" d="M90.2,89.0L92.4,89.7 93.5,88.4 91.3,87.8z"/>
<path color="#92da9c" d="M92.4,89.7L94.6,90.4 95.7,89.1 93.5,88.4z"/>
<path color="#92da9c" d="M94.6,90.4L96.8,91.1 97.9,89.8 95.7,89.1z"/>
<path color="#92da9c" d="M96.8,91.1L99.0,91.9 100.1,90.6 97.9,89.8z"/>
<path color="#92da9c" d="M99.0,91.9L101.3,92.6 102.4,91.3 100.1,90.6z"/>
<path color="#92da9c" d="M101.3,92.6L103.5,93.3 104.6,92.0 102.4,91.3z"/>
<path color="#92da9c" d="M103.5,93.3L105.8,94.0 106.8,92.7 104.6,92.0z"/>
<path color="#92da9c" d="M105.8,94.0L108.1,94.7 109.1,93.4 106.8,92.7z"/>
<path color="#92da9c" d="M108.1,94.7L110.3,95.5 111.4,94.1 109.1,93.4z"/>
<path color="#92da9c" d="M110.3,95.5L112.7,96.2 113.7,94.9 111.4,94.1z"/>
<path color="#92da9c" d="M112.7,96.2L115.0,97.0 116.0,95.6 113.7,94.9z"/>
<path color="#decc51" d="M45.7,72.3L47.6,72.7 48.9,71.8 47.0,71.5z"/>
<path color="#e6cf51" d="M47.6,72.7L49.5,73.1 50.8,72.1 48.9,71.8z"/>
<path color="#edd352" d="M49.5,73.1L51.5,73.6 52.8,72.5 50.8,72.1z"/>
<path color="#f4d753" d="M51.5,73.6L53.5,74.1 54.8,73.1 52.8,72.5z"/>
<path color="#f9db54" d="M53.5,74.1L55.5,74.8 56.8,73.7 54.8,73.1z"/>
<path color="#fcde55" d="M55.5,74.8L57.5,75.6 58.8,74.3 56.8,73.7z"/>
<path color="#ffe358" d="M57.5,75.6L59.5,76.4 60.8,75.1 58.8,74.3z"/>
<path color="#ffec5c" d="M59.5,76.4L61.6,77.4 62.8,76.0 60.8,75.1z"/>
<path color="#fff260" d="M61.6,77.4L63.6,78.6 64.9,77.2 62.8,76.0z"/>
<path color="#fef766" d="M63.6,78.6L65.7,80.0 66.9,78.5 64.9,77.2z"/>
<path color="#f5fd6c" d="M65.7,80.0L67.8,81.5 69.0,79.9 66.9,78.5z"/>
<path color="#d4ff85" d="M67.8,81.5L69.9,83.7 71.1,82.1 69.0,79.9z"/>
<path color="#a0f3b4" d="M69.9,83.7L72.0,86.0 73.2,84.4 71.1,82.1z"/>
<path color="#7fe1da" d="M72.0,86.0L74.2,88.5 75.4,87.0 73.2,84.4z"/>
<path color="#71d1f2" d="M74.2,88.5L75.2,89.6 76.4,88.1 75.4,87.0z"/>
<path color="#68c7ff" d="M75.2,89.6L76.3,90.6 77.5,89.2 76.4,88.1z"/>
<path color="#63b4ff" d="M76.3,90.6L77.3,91.8 78.5,90.5 77.5,89.2z"/>
<path color="#518dda" d="M77.3,91.8L78.4,91.9 79.5,90.7 78.5,90.5z"/>
<path color="#3d7195" d="M78.4,91.9L79.4,90.6 80.6,89.4 79.5,90.7z"/>
<path color="#477b7d" d="M79.4,90.6L80.4,88.7 81.6,87.5 80.6,89.4z"/>
<path color="#659f82" d="M80.4,88.7L81.5,88.2 82.7,87.0 81.6,87.5z"/>
<path color="#7cbc8b" d="M81.5,88.2L82.6,88.2 83.7,87.0 82.7,87.0z"/>
<path color="#92da9c" d="M82.6,88.2L84.7,88.9 85.9,87.6 83.7,87.0z"/>
<path color="#92da9c" d="M84.7,88.9L86.9,89.6 88.0,88.3 85.9,87.6z"/>
<path color="#92da9c" d="M86.9,89.6L89.1,90.3 90.2,89.0 88.0,88.3z"/>
<path color="#92da9c" d="M89.1,90.3L91.2,91.0 92.4,89.7 90.2,89.0z"/>
<path color="#92da9c" d="M91.2,91.0L93.5,91.7 94.6,90.4 92.4,89.7z"/>
<path color="#92da9c" d="M93.5,91.7L95.7,92.4 96.8,91.1 94.6,90.4z"/>
<path color="#92da9c" d="M95.7,92.4L97.9,93.2 99.0,91.9 96.8,91.1z"/>
<path color="#92da9c" d="M97.9,93.2L100.2,93.9 101.3,92.6 99.0,91.9z"/>
<path color="#92da9c" d="M100.2,93.9L102.4,94.6 103.5,93.3 101.3,92.6z"/>
<path color="#92da9c" d="M102.4,94.6L104.7,95.4 105.8,94.0 103.5,93.3z"/>
<path color="#92da9c" d="M104.7,95.4L107.0,96.1 108.1,94.7 105.8,94.0z"/>
<path color="#92da9c" d="M107.0,96.1L109.3,96.8 110.3,95.5 108.1,94.7z"/>
<path color="#92da9c" d="M109.3,96.8L111.6,97.6 112.7,96.2 110.3,95.5z"/>
<path color="#92da9c" d="M111.6,97.6L113.9,98.3 115.0,97.0 112.7,96.2z"/>
<path color="#e5ce51" d="M44.3,73.1L46.2,73.6 47.6,72.7 45.7,72.3z"/>
<path color="#ebd151" d="M46.2,73.6L48.2,74.0 49.5,73.1 47.6,72.7z"/>
<path color="#f1d452" d="M48.2,74.0L50.2,74.6 51.5,73.6 49.5,73.1z"/>
<path color="#f7d752" d="M50.2,74.6L52.1,75.2 53.5,74.1 51.5,73.6z"/>
<path color="#fcdd54" d="M52.1,75.2L54.2,75.9 55.5,74.8 53.5,74.1z"/>
<path color="#ffe257" d="M54.2,75.9L56.2,76.8 57.5,75.6 55.5,74.8z"/>
<path color="#ffe659" d="M56.2,76.8L58.2,77.7 59.5,76.4 57.5,75.6z"/>
<path color="#ffee5e" d="M58.2,77.7L60.3,78.8 61.6,77.4 59.5,76.4z"/>
<path color="#fff463" d="M60.3,78.8L62.4,80.1 63.6,78.6 61.6,77.4z"/>
<path color="#faf968" d="M62.4,80.1L64.5,81.6 65.7,80.0 63.6,78.6z"/>
<path color="#f0ff6f" d="M64.5,81.6L66.6,83.2 67.8,81.5 65.7,80.0z"/>
<path color="#c4fe91" d="M66.6,83.2L68.7,85.4 69.9,83.7 67.8,81.5z"/>
<path color="#98f0bd" d="M68.7,85.4L70.8,87.7 72.0,86.0 69.9,83.7z"/>
<path color="#7bdee1" d="M70.8,87.7L73.0,90.0 74.2,88.5 72.0,86.0z"/>
<path color="#6ecef7" d="M73.0,90.0L74.0,91.0 75.2,89.6 74.2,88.5z"/>
<path color="#66c4ff" d="M74.0,91.0L75.1,92.0 76.3,90.6 75.2,89.6z"/>
<path color="#63b3ff" d="M75.1,92.0L76.1,93.1 77.3,91.8 76.3,90.6z"/>
<path color="#4e89d3" d="M76.1,93.1L77.2,93.1 78.4,91.9 77.3,91.8z"/>
<path color="#3d7193" d="M77.2,93.1L78.2,91.8 79.4,90.6 78.4,91.9z"/>
<path color="#477c7d" d="M78.2,91.8L79.2,90.0 80.4,88.7 79.4,90.6z"/>
<path color="#659f82" d="M79.2,90.0L80.3,89.5 81.5,88.2 80.4,88.7z"/>
<path color="#7cbb8b" d="M80.3,89.5L81.4,89.5 82.6,88.2 81.5,88.2z"/>
<path color="#92da9c" d="M81.4,89.5L83.5,90.2 84.7,88.9 82.6,88.2z"/>
<path color="#92da9c" d="M83.5,90.2L85.7,90.9 86.9,89.6 84.7,88.9z"/>
<path color="#92da9c" d="M85.7,90.9L87.9,91.6 89.1,90.3 86.9,89.6z"/>
<path color="#92da9c" d="M87.9,91.6L90.1,92.3 91.2,91.0 89.1,90.3z"/>
<path color="#92da9c" d="M90.1,92.3L92.3,93.0 93.5,91.7 91.2,91.0z"/>
<path color="#92da9c" d="M92.3,93.0L94.5,93.8 95.7,92.4 93.5,91.7z"/>
<path color="#92da9c" d="M94.5,93.8L96.8,94.5 97.9,93.2 95.7,92.4z"/>
<path color="#92da9c" d="M96.8,94.5L99.0,95.2 100.2,93.9 97.9,93.2z"/>
<path color="#92da9c" d="M99.0,95.2L101.3,96.0 102.4,94.6 100.2,93.9z"/>
<path color="#92da9c" d="M101.3,96.0L103.6,96.7 104.7,95.4 102.4,94.6z"/>
<path color="#92da9c" d="M103.6,96.7L105.9,97.5 107.0,96.1 104.7,95.4z"/>
<path color="#92da9c" d="M105.9,97.5L108.2,98.2 109.3,96.8 107.0,96.1z"/>
<path color="#92da9c" d="M108.2,98.2L110.5,99.0 111.6,97.6 109.3,96.8z"/>
<path color="#92da9c" d="M110.5,99.0L112.9,99.7 113.9,98.3 111.6,97.6z"/>
<path color="#edd151" d="M42.9,73.9L44.9,74.5 46.2,73.6 44.3,73.1z"/>
<path color="#f1d351" d="M44.9,74.5L46.8,75.0 48.2,74.0 46.2,73.6z"/>
<path color="#f5d651" d="M46.8,75.0L48.8,75.6 50.2,74.6 48.2,74.0z"/>
<path color="#f9d852" d="M48.8,75.6L50.8,76.2 52.1,75.2 50.2,74.6z"/>
<path color="#ffde55" d="M50.8,76.2L52.8,77.0 54.2,75.9 52.1,75.2z"/>
<path color="#ffe658" d="M52.8,77.0L54.9,78.0 56.2,76.8 54.2,75.9z"/>
<path color="#ffe95b" d="M54.9,78.0L56.9,79.1 58.2,77.7 56.2,76.8z"/>
<path color="#fff05f" d="M56.9,79.1L59.0,80.3 60.3,78.8 58.2,77.7z"/>
<path color="#fef665" d="M59.0,80.3L61.1,81.6 62.4,80.1 60.3,78.8z"/>
<path color="#f6fc6b" d="M61.1,81.6L63.2,83.1 64.5,81.6 62.4,80.1z"/>
<path color="#e3ff79" d="M63.2,83.1L65.3,84.8 66.6,83.2 64.5,81.6z"/>
<path color="#b4fc9d" d="M65.3,84.8L67.5,87.0 68.7,85.4 66.6,83.2z"/>
<path color="#90ecc7" d="M67.5,87.0L69.6,89.3 70.8,87.7 68.7,85.4z"/>
<path color="#78dae7" d="M69.6,89.3L71.7,91.6 73.0,90.0 70.8,87.7z"/>
<path color="#6ccbfb" d="M71.7,91.6L72.8,92.5 74.0,91.0 73.0,90.0z"/>
<path color="#65c1ff" d="M72.8,92.5L73.9,93.4 75.1,92.0 74.0,91.0z"/>
<path color="#63b1ff" d="M73.9,93.4L74.9,94.4 76.1,93.1 75.1,92.0z"/>
<path color="#4d86ce" d="M74.9,94.4L76.0,94.4 77.2,93.1 76.1,93.1z"/>
<path color="#3e7292" d="M76.0,94.4L77.0,92.9 78.2,91.8 77.2,93.1z"/>
<path color="#487d7d" d="M77.0,92.9L78.0,91.3 79.2,90.0 78.2,91.8z"/>
<path color="#659f82" d="M78.0,91.3L79.1,90.8 80.3,89.5 79.2,90.0z"/>
<path color="#7cbb8b" d="M79.1,90.8L80.2,90.8 81.4,89.5 80.3,89.5z"/>
<path color="#92da9c" d="M80.2,90.8L82.3,91.5 83.5,90.2 81.4,89.5z"/>
<path color="#92da9c" d="M82.3,91.5L84.5,92.2 85.7,90.9 83.5,90.2z"/>
<path color="#92da9c" d="M84.5,92.2L86.7,92.9 87.9,91.6 85.7,90.9z"/>
<path color="#92da9c" d="M86.7,92.9L88.9,93.6 90.1,92.3 87.9,91.6z"/>
<path color="#92da9c" d="M88.9,93.6L91.1,94.4 92.3,93.0 90.1,92.3z"/>
<path color="#92da9c" d="M91.1,94.4L93.4,95.1 94.5,93.8 92.3,93.0z"/>
<path color="#92da9c" d="M93.4,95.1L95.6,95.8 96.8,94.5 94.5,93.8z"/>
<path color="#92da9c" d="M95.6,95.8L97.9,96.6 99.0,95.2 96.8,94.5z"/>
<path color="#92da9c" d="M97.9,96.6L100.2,97.3 101.3,96.0 99.0,95.2z"/>
<path color="#92da9c" d="M100.2,97.3L102.5,98.1 103.6,96.7 101.3,96.0z"/>
<path color="#92da9c" d="M102.5,98.1L104.8,98.8 105.9,97.5 103.6,96.7z"/>
<path color="#92da9c" d="M104.8,98.8L107.1,99.6 108.2,98.2 105.9,97.5z"/>
<path color="#92da9c" d="M107.1,99.6L109.4,100.4 110.5,99.0 108.2,98.2z"/>
<path color="#92da9c" d="M109.4,100.4L111.8,101.1 112.9,99.7 110.5,99.0z"/>
<path color="#f4d350" d="M41.5,74.7L43.5,75.4 44.9,74.5 42.9,73.9z"/>
<path color="#f7d551" d="M43.5,75.4L45.5,76.0 46.8,75.0 44.9,74.5z"/>
<path color="#f9d751" d="M45.5,76.0L47.5,76.7 48.8,75.6 46.8,75.0z"/>
<path color="#fbd852" d="M47.5,76.7L49.5,77.3 50.8,76.2 48.8,75.6z"/>
<path color="#ffe055" d="M49.5,77.3L51.5,78.2 52.8,77.0 50.8,76.2z"/>
<path color="#ffe959" d="M51.5,78.2L53.6,79.3 54.9,78.0 52.8,77.0z"/>
<path color="#ffec5d" d="M53.6,79.3L55.6,80.4 56.9,79.1 54.9,78.0z"/>
<path color="#fff261" d="M55.6,80.4L57.7,81.7 59.0,80.3 56.9,79.1z"/>
<path color="#fcf867" d="M57.7,81.7L59.8,83.1 61.1,81.6 59.0,80.3z"/>
<path color="#f2fd6d" d="M59.8,83.1L61.9,84.7 63.2,83.1 61.1,81.6z"/>
<path color="#d5fe84" d="M61.9,84.7L64.1,86.5 65.3,84.8 63.2,83.1z"/>
<path color="#a7f6ac" d="M64.1,86.5L66.2,88.7 67.5,87.0 65.3,84.8z"/>
<path color="#88e9d1" d="M66.2,88.7L68.4,91.0 69.6,89.3 67.5,87.0z"/>
<path color="#74d6ee" d="M68.4,91.0L70.5,93.1 71.7,91.6 69.6,89.3z"/>
<path color="#69c7fe" d="M70.5,93.1L71.6,94.0 72.8,92.5 71.7,91.6z"/>
<path color="#65bdff" d="M71.6,94.0L72.6,94.9 73.9,93.4 72.8,92.5z"/>
<path color="#62afff" d="M72.6,94.9L73.7,95.7 74.9,94.4 73.9,93.4z"/>
<path color="#4c84ca" d="M73.7,95.7L74.7,95.6 76.0,94.4 74.9,94.4z"/>
<path color="#3e7291" d="M74.7,95.6L75.8,94.1 77.0,92.9 76.0,94.4z"/>
<path color="#487e7d" d="M75.8,94.1L76.8,92.6 78.0,91.3 77.0,92.9z"/>
<path color="#659f82" d="M76.8,92.6L77.9,92.1 79.1,90.8 78.0,91.3z"/>
<path color="#7cbb8b" d="M77.9,92.1L79.0,92.1 80.2,90.8 79.1,90.8z"/>
<path color="#92da9c" d="M79.0,92.1L81.1,92.8 82.3,91.5 80.2,90.8z"/>
<path color="#92da9c" d="M81.1,92.8L83.3,93.5 84.5,92.2 82.3,91.5z"/>
<path color="#92da9c" d="M83.3,93.5L85.5,94.2 86.7,92.9 84.5,92.2z"/>
<path color="#92da9c" d="M85.5,94.2L87.7,95.0 88.9,93.6 86.7,92.9z"/>
<path color="#92da9c" d="M87.7,95.0L90.0,95.7 91.1,94.4 88.9,93.6z"/>
<path color="#92da9c" d="M90.0,95.7L92.2,96.5 93.4,95.1 91.1,94.4z"/>
<path color="#92da9c" d="M92.2,96.5L94.5,97.2 95.6,95.8 93.4,95.1z"/>
<path color="#92da9c" d="M94.5,97.2L96.8,98.0 97.9,96.6 95.6,95.8z"/>
<path color="#92da9c" d="M96.8,98.0L99.0,98.7 100.2,97.3 97.9,96.6z"/>
<path color="#92da9c" d="M99.0,98.7L101.3,99.5 102.5,98.1 100.2,97.3z"/>
<path color="#92da9c" d="M101.3,99.5L103.7,100.2 104.8,98.8 102.5,98.1z"/>
<path color="#92da9c" d="M103.7,100.2L106.0,101.0 107.1,99.6 104.8,98.8z"/>
<path color="#92da9c" d="M106.0,101.0L108.4,101.8 109.4,100.4 107.1,99.6z"/>
<path color="#92da9c" d="M108.4,101.8L110.7,102.6 111.8,101.1 109.4,100.4z"/>
<path color="#ffdb52" d="M40.1,75.9L42.1,76.6 43.5,75.4 41.5,74.7z"/>
<path color="#ffdb52" d="M42.1,76.6L44.1,77.2 45.5,76.0 43.5,75.4z"/>
<path color="#ffdb52" d="M44.1,77.2L46.1,77.9 47.5,76.7 45.5,76.0z"/>
<path color="#ffdc53" d="M46.1,77.9L48.1,78.6 49.5,77.3 47.5,76.7z"/>
<path color="#ffe356" d="M48.1,78.6L50.1,79.4 51.5,78.2 49.5,77.3z"/>
<path color="#ffeb5a" d="M50.1,79.4L52.2,80.6 53.6,79.3 51.5,78.2z"/>
<path color="#ffed5d" d="M52.2,80.6L54.3,81.7 55.6,80.4 53.6,79.3z"/>
<path color="#fff262" d="M54.3,81.7L56.4,83.0 57.7,81.7 55.6,80.4z"/>
<path color="#f7f767" d="M56.4,83.0L58.5,84.5 59.8,83.1 57.7,81.7z"/>
<path color="#edfc6d" d="M58.5,84.5L60.6,86.1 61.9,84.7 59.8,83.1z"/>
<path color="#c9fa89" d="M60.6,86.1L62.8,87.8 64.1,86.5 61.9,84.7z"/>
<path color="#9ff1b1" d="M62.8,87.8L64.9,90.1 66.2,88.7 64.1,86.5z"/>
<path color="#81e4d4" d="M64.9,90.1L67.1,92.4 68.4,91.0 66.2,88.7z"/>
<path color="#71d1ef" d="M67.1,92.4L69.2,94.5 70.5,93.1 68.4,91.0z"/>
<path color="#66c3fe" d="M69.2,94.5L70.3,95.3 71.6,94.0 70.5,93.1z"/>
<path color="#63b9ff" d="M70.3,95.3L71.4,96.2 72.6,94.9 71.6,94.0z"/>
<path color="#61adff" d="M71.4,96.2L72.5,97.1 73.7,95.7 72.6,94.9z"/>
<path color="#4b83c8" d="M72.5,97.1L73.5,96.9 74.7,95.6 73.7,95.7z"/>
<path color="#3e7291" d="M73.5,96.9L74.5,95.5 75.8,94.1 74.7,95.6z"/>
<path color="#497f7d" d="M74.5,95.5L75.6,93.9 76.8,92.6 75.8,94.1z"/>
<path color="#659f82" d="M75.6,93.9L76.6,93.4 77.9,92.1 76.8,92.6z"/>
<path color="#7cbb8b" d="M76.6,93.4L77.7,93.4 79.0,92.1 77.9,92.1z"/>
<path color="#92da9c" d="M77.7,93.4L79.9,94.1 81.1,92.8 79.0,92.1z"/>
<path color="#92da9c" d="M79.9,94.1L82.1,94.9 83.3,93.5 81.1,92.8z"/>
<path color="#92da9c" d="M82.1,94.9L84.3,95.6 85.5,94.2 83.3,93.5z"/>
<path color="#92da9c" d="M84.3,95.6L86.5,96.3 87.7,95.0 85.5,94.2z"/>
<path color="#92da9c" d="M86.5,96.3L88.8,97.1 90.0,95.7 87.7,95.0z"/>
<path color="#92da9c" d="M88.8,97.1L91.0,97.8 92.2,96.5 90.0,95.7z"/>
<path color="#92da9c" d="M91.0,97.8L93.3,98.6 94.5,97.2 92.2,96.5z"/>
<path color="#92da9c" d="M93.3,98.6L95.6,99.3 96.8,98.0 94.5,97.2z"/>
<path color="#92da9c" d="M95.6,99.3L97.9,100.1 99.0,98.7 96.8,98.0z"/>
<path color="#92da9c" d="M97.9,100.1L100.2,100.9 101.3,99.5 99.0,98.7z"/>
<path color="#92da9c" d="M100.2,100.9L102.5,101.7 103.7,100.2 101.3,99.5z"/>
<path color="#92da9c" d="M102.5,101.7L104.9,102.4 106.0,101.0 103.7,100.2z"/>
<path color="#92da9c" d="M104.9,102.4L107.2,103.2 108.4,101.8 106.0,101.0z"/>
<path color="#92da9c" d="M107.2,103.2L109.6,104.0 110.7,102.6 108.4,101.8z"/>
<path color="#ffdb52" d="M38.7,77.1L40.7,77.8 42.1,76.6 40.1,75.9z"/>
<path color="#ffdb52" d="M40.7,77.8L42.7,78.4 44.1,77.2 42.1,76.6z"/>
<path color="#ffdc53" d="M42.7,78.4L44.7,79.1 46.1,77.9 44.1,77.2z"/>
<path color="#ffdd53" d="M44.7,79.1L46.7,79.8 48.1,78.6 46.1,77.9z"/>
<path color="#ffe456" d="M46.7,79.8L48.8,80.7 50.1,79.4 48.1,78.6z"/>
<path color="#ffeb5a" d="M48.8,80.7L50.9,81.8 52.2,80.6 50.1,79.4z"/>
<path color="#ffee5e" d="M50.9,81.8L53.0,83.0 54.3,81.7 52.2,80.6z"/>
<path color="#fef363" d="M53.0,83.0L55.1,84.4 56.4,83.0 54.3,81.7z"/>
<path color="#f6f868" d="M55.1,84.4L57.2,85.8 58.5,84.5 56.4,83.0z"/>
<path color="#e9fc70" d="M57.2,85.8L59.3,87.4 60.6,86.1 58.5,84.5z"/>
<path color="#c5fa8c" d="M59.3,87.4L61.5,89.2 62.8,87.8 60.6,86.1z"/>
<path color="#9df0b3" d="M61.5,89.2L63.6,91.5 64.9,90.1 62.8,87.8z"/>
<path color="#80e3d6" d="M63.6,91.5L65.8,93.8 67.1,92.4 64.9,90.1z"/>
<path color="#70d0f0" d="M65.8,93.8L68.0,95.8 69.2,94.5 67.1,92.4z"/>
<path color="#66c3ff" d="M68.0,95.8L69.1,96.7 70.3,95.3 69.2,94.5z"/>
<path color="#63b8ff" d="M69.1,96.7L70.1,97.5 71.4,96.2 70.3,95.3z"/>
<path color="#61acff" d="M70.1,97.5L71.2,98.4 72.5,97.1 71.4,96.2z"/>
<path color="#4b83c8" d="M71.2,98.4L72.3,98.3 73.5,96.9 72.5,97.1z"/>
<path color="#3e7291" d="M72.3,98.3L73.3,96.8 74.5,95.5 73.5,96.9z"/>
<path color="#497f7d" d="M73.3,96.8L74.3,95.2 75.6,93.9 74.5,95.5z"/>
<path color="#659f82" d="M74.3,95.2L75.4,94.7 76.6,93.4 75.6,93.9z"/>
<path color="#7cbb8b" d="M75.4,94.7L76.5,94.7 77.7,93.4 76.6,93.4z"/>
<path color="#92da9c" d="M76.5,94.7L78.7,95.5 79.9,94.1 77.7,93.4z"/>
<path color="#92da9c" d="M78.7,95.5L80.9,96.2 82.1,94.9 79.9,94.1z"/>
<path color="#92da9c" d="M80.9,96.2L83.1,96.9 84.3,95.6 82.1,94.9z"/>
<path color="#92da9c" d="M83.1,96.9L85.3,97.7 86.5,96.3 84.3,95.6z"/>
<path color="#92da9c" d="M85.3,97.7L87.6,98.5 88.8,97.1 86.5,96.3z"/>
<path color="#92da9c" d="M87.6,98.5L89.8,99.2 91.0,97.8 88.8,97.1z"/>
<path color="#92da9c" d="M89.8,99.2L92.1,100.0 93.3,98.6 91.0,97.8z"/>
<path color="#92da9c" d="M92.1,100.0L94.4,100.7 95.6,99.3 93.3,98.6z"/>
<path color="#92da9c" d="M94.4,100.7L96.7,101.5 97.9,100.1 95.6,99.3z"/>
<path color="#92da9c" d="M96.7,101.5L99.1,102.3 100.2,100.9 97.9,100.1z"/>
<path color="#92da9c" d="M99.1,102.3L101.4,103.1 102.5,101.7 100.2,100.9z"/>
<path color="#92da9c" d="M101.4,103.1L103.8,103.9 104.9,102.4 102.5,101.7z"/>
<path color="#92da9c" d="M103.8,103.9L106.1,104.7 107.2,103.2 104.9,102.4z"/>
<path color="#92da9c" d="M106.1,104.7L108.5,105.5 109.6,104.0 107.2,103.2z"/>
<path color="#ffdb52" d="M37.3,78.3L39.3,79.0 40.7,77.8 38.7,77.1z"/>
<path color="#ffdc53" d="M39.3,79.0L41.3,79.7 42.7,78.4 40.7,77.8z"/>
<path color="#ffdd53" d="M41.3,79.7L43.3,80.4 44.7,79.1 42.7,78.4z"/>
<path color="#ffde54" d="M43.3,80.4L45.4,81.1 46.7,79.8 44.7,79.1z"/>
<path color="#ffe457" d="M45.4,81.1L47.4,82.0 48.8,80.7 46.7,79.8z"/>
<path color="#ffeb5b" d="M47.4,82.0L49.5,83.1 50.9,81.8 48.8,80.7z"/>
<path color="#ffee5e" d="M49.5,83.1L51.6,84.4 53.0,83.0 50.9,81.8z"/>
<path color="#fdf463" d="M51.6,84.4L53.7,85.7 55.1,84.4 53.0,83.0z"/>
<path color="#f4f869" d="M53.7,85.7L55.9,87.2 57.2,85.8 55.1,84.4z"/>
<path color="#e5fb73" d="M55.9,87.2L58.0,88.8 59.3,87.4 57.2,85.8z"/>
<path color="#c1fa8f" d="M58.0,88.8L60.2,90.6 61.5,89.2 59.3,87.4z"/>
<path color="#9befb6" d="M60.2,90.6L62.3,92.9 63.6,91.5 61.5,89.2z"/>
<path color="#7fe1d8" d="M62.3,92.9L64.5,95.2 65.8,93.8 63.6,91.5z"/>
<path color="#6fcff1" d="M64.5,95.2L66.7,97.2 68.0,95.8 65.8,93.8z"/>
<path color="#65c2ff" d="M66.7,97.2L67.8,98.1 69.1,96.7 68.0,95.8z"/>
<path color="#63b7ff" d="M67.8,98.1L68.9,98.9 70.1,97.5 69.1,96.7z"/>
<path color="#61acff" d="M68.9,98.9L69.9,99.7 71.2,98.4 70.1,97.5z"/>
<path color="#4b83c8" d="M69.9,99.7L71.0,99.6 72.3,98.3 71.2,98.4z"/>
<path color="#3e7291" d="M71.0,99.6L72.0,98.1 73.3,96.8 72.3,98.3z"/>
<path color="#497f7d" d="M72.0,98.1L73.1,96.6 74.3,95.2 73.3,96.8z"/>
<path color="#659f82" d="M73.1,96.6L74.1,96.1 75.4,94.7 74.3,95.2z"/>
<path color="#7cbb8b" d="M74.1,96.1L75.2,96.1 76.5,94.7 75.4,94.7z"/>
<path color="#92da9c" d="M75.2,96.1L77.4,96.8 78.7,95.5 76.5,94.7z"/>
<path color="#92da9c" d="M77.4,96.8L79.6,97.6 80.9,96.2 78.7,95.5z"/>
<path color="#92da9c" d="M79.6,97.6L81.9,98.3 83.1,96.9 80.9,96.2z"/>
<path color="#92da9c" d="M81.9,98.3L84.1,99.1 85.3,97.7 83.1,96.9z"/>
<path color="#92da9c" d="M84.1,99.1L86.4,99.8 87.6,98.5 85.3,97.7z"/>
<path color="#92da9c" d="M86.4,99.8L88.6,100.6 89.8,99.2 87.6,98.5z"/>
<path color="#92da9c" d="M88.6,100.6L90.9,101.4 92.1,100.0 89.8,99.2z"/>
<path color="#92da9c" d="M90.9,101.4L93.2,102.2 94.4,100.7 92.1,100.0z"/>
<path color="#92da9c" d="M93.2,102.2L95.6,102.9 96.7,101.5 94.4,100.7z"/>
<path color="#92da9c" d="M95.6,102.9L97.9,103.7 99.1,102.3 96.7,101.5z"/>
<path color="#92da9c" d="M97.9,103.7L100.2,104.5 101.4,103.1 99.1,102.3z"/>
<path color="#92da9c" d="M100.2,104.5L102.6,105.3 103.8,103.9 101.4,103.1z"/>
<path color="#92da9c" d="M102.6,105.3L105.0,106.1 106.1,104.7 103.8,103.9z"/>
<path color="#92da9c" d="M105.0,106.1L107.4,106.9 108.5,105.5 106.1,104.7z"/>
<path color="#ffdb52" d="M35.9,79.5L37.9,80.2 39.3,79.0 37.3,78.3z"/>
<path color="#ffdc53" d="M37.9,80.2L39.9,80.9 41.3,79.7 39.3,79.0z"/>
<path color="#ffdd54" d="M39.9,80.9L41.9,81.6 43.3,80.4 41.3,79.7z"/>
<path color="#ffde54" d="M41.9,81.6L44.0,82.4 45.4,81.1 43.3,80.4z"/>
<path color="#ffe557" d="M44.0,82.4L46.0,83.3 47.4,82.0 45.4,81.1z"/>
<path color="#ffeb5b" d="M46.0,83.3L48.1,84.4 49.5,83.1 47.4,82.0z"/>
<path color="#ffef5f" d="M48.1,84.4L50.2,85.7 51.6,84.4 49.5,83.1z"/>
<path color="#fdf564" d="M50.2,85.7L52.4,87.1 53.7,85.7 51.6,84.4z"/>
<path color="#f3f969" d="M52.4,87.1L54.5,88.6 55.9,87.2 53.7,85.7z"/>
<path color="#e1fb76" d="M54.5,88.6L56.7,90.2 58.0,88.8 55.9,87.2z"/>
<path color="#bdf992" d="M56.7,90.2L58.8,92.0 60.2,90.6 58.0,88.8z"/>
<path color="#99eeb8" d="M58.8,92.0L61.0,94.3 62.3,92.9 60.2,90.6z"/>
<path color="#7ee0d9" d="M61.0,94.3L63.2,96.6 64.5,95.2 62.3,92.9z"/>
<path color="#6fcef3" d="M63.2,96.6L65.4,98.6 66.7,97.2 64.5,95.2z"/>
<path color="#65c1ff" d="M65.4,98.6L66.5,99.5 67.8,98.1 66.7,97.2z"/>
<path color="#62b5ff" d="M66.5,99.5L67.6,100.2 68.9,98.9 67.8,98.1z"/>
<path color="#61acff" d="M67.6,100.2L68.7,101.1 69.9,99.7 68.9,98.9z"/>
<path color="#4b83c8" d="M68.7,101.1L69.7,101.0 71.0,99.6 69.9,99.7z"/>
<path color="#3e7291" d="M69.7,101.0L70.7,99.5 72.0,98.1 71.0,99.6z"/>
<path color="#497f7d" d="M70.7,99.5L71.8,97.9 73.1,96.6 72.0,98.1z"/>
<path color="#659f82" d="M71.8,97.9L72.8,97.4 74.1,96.1 73.1,96.6z"/>
<path color="#7cbb8b" d="M72.8,97.4L73.9,97.4 75.2,96.1 74.1,96.1z"/>
<path color="#92da9c" d="M73.9,97.4L76.1,98.2 77.4,96.8 75.2,96.1z"/>
<path color="#92da9c" d="M76.1,98.2L78.4,99.0 79.6,97.6 77.4,96.8z"/>
<path color="#92da9c" d="M78.4,99.0L80.6,99.7 81.9,98.3 79.6,97.6z"/>
<path color="#92da9c" d="M80.6,99.7L82.9,100.5 84.1,99.1 81.9,98.3z"/>
<path color="#92da9c" d="M82.9,100.5L85.1,101.3 86.4,99.8 84.1,99.1z"/>
<path color="#92da9c" d="M85.1,101.3L87.4,102.0 88.6,100.6 86.4,99.8z"/>
<path color="#92da9c" d="M87.4,102.0L89.7,102.8 90.9,101.4 88.6,100.6z"/>
<path color="#92da9c" d="M89.7,102.8L92.0,103.6 93.2,102.2 90.9,101.4z"/>
<path color="#92da9c" d="M92.0,103.6L94.4,104.4 95.6,102.9 93.2,102.2z"/>
<path color="#92da9c" d="M94.4,104.4L96.7,105.2 97.9,103.7 95.6,102.9z"/>
<path color="#92da9c" d="M96.7,105.2L99.1,106.0 100.2,104.5 97.9,103.7z"/>
<path color="#92da9c" d="M99.1,106.0L101.4,106.8 102.6,105.3 100.2,104.5z"/>
<path color="#92da9c" d="M101.4,106.8L103.8,107.6 105.0,106.1 102.6,105.3z"/>
<path color="#92da9c" d="M103.8,107.6L106.2,108.4 107.4,106.9 105.0,106.1z"/>
<path color="#ffdb52" d="M34.4,80.7L36.4,81.4 37.9,80.2 35.9,79.5z"/>
<path color="#ffdd53" d="M36.4,81.4L38.5,82.1 39.9,80.9 37.9,80.2z"/>
<path color="#ffde54" d="M38.5,82.1L40.5,82.9 41.9,81.6 39.9,80.9z"/>
<path color="#ffdf55" d="M40.5,82.9L42.5,83.7 44.0,82.4 41.9,81.6z"/>
<path color="#ffe557" d="M42.5,83.7L44.6,84.6 46.0,83.3 44.0,82.4z"/>
<path color="#ffeb5b" d="M44.6,84.6L46.7,85.8 48.1,84.4 46.0,83.3z"/>
<path color="#fff05f" d="M46.7,85.8L48.8,87.0 50.2,85.7 48.1,84.4z"/>
<path color="#fcf665" d="M48.8,87.0L51.0,88.5 52.4,87.1 50.2,85.7z"/>
<path color="#f1f96a" d="M51.0,88.5L53.1,90.0 54.5,88.6 52.4,87.1z"/>
<path color="#ddfb79" d="M53.1,90.0L55.3,91.6 56.7,90.2 54.5,88.6z"/>
<path color="#b9f995" d="M55.3,91.6L57.5,93.5 58.8,92.0 56.7,90.2z"/>
<path color="#97eeba" d="M57.5,93.5L59.7,95.8 61.0,94.3 58.8,92.0z"/>
<path color="#7ddfdb" d="M59.7,95.8L61.9,98.1 63.2,96.6 61.0,94.3z"/>
<path color="#6ecdf4" d="M61.9,98.1L64.1,100.0 65.4,98.6 63.2,96.6z"/>
<path color="#64c0ff" d="M64.1,100.0L65.2,100.9 66.5,99.5 65.4,98.6z"/>
<path color="#62b4ff" d="M65.2,100.9L66.3,101.6 67.6,100.2 66.5,99.5z"/>
<path color="#61acff" d="M66.3,101.6L67.4,102.5 68.7,101.1 67.6,100.2z"/>
<path color="#4b83c9" d="M67.4,102.5L68.4,102.3 69.7,101.0 68.7,101.1z"/>
<path color="#3e7291" d="M68.4,102.3L69.4,100.9 70.7,99.5 69.7,101.0z"/>
<path color="#497f7d" d="M69.4,100.9L70.5,99.3 71.8,97.9 70.7,99.5z"/>
<path color="#659f82" d="M70.5,99.3L71.6,98.8 72.8,97.4 71.8,97.9z"/>
<path color="#7cbb8b" d="M71.6,98.8L72.6,98.8 73.9,97.4 72.8,97.4z"/>
<path color="#92da9c" d="M72.6,98.8L74.9,99.6 76.1,98.2 73.9,97.4z"/>
<path color="#92da9c" d="M74.9,99.6L77.1,100.3 78.4,99.0 76.1,98.2z"/>
<path color="#92da9c" d="M77.1,100.3L79.3,101.1 80.6,99.7 78.4,99.0z"/>
<path color="#92da9c" d="M79.3,101.1L81.6,101.9 82.9,100.5 80.6,99.7z"/>
<path color="#92da9c" d="M81.6,101.9L83.9,102.7 85.1,101.3 82.9,100.5z"/>
<path color="#92da9c" d="M83.9,102.7L86.2,103.5 87.4,102.0 85.1,101.3z"/>
<path color="#92da9c" d="M86.2,103.5L88.5,104.3 89.7,102.8 87.4,102.0z"/>
<path color="#92da9c" d="M88.5,104.3L90.8,105.1 92.0,103.6 89.7,102.8z"/>
<path color="#92da9c" d="M90.8,105.1L93.2,105.9 94.4,104.4 92.0,103.6z"/>
<path color="#92da9c" d="M93.2,105.9L95.5,106.7 96.7,105.2 94.4,104.4z"/>
<path color="#92da9c" d="M95.5,106.7L97.9,107.5 99.1,106.0 96.7,105.2z"/>
<path color="#92da9c" d="M97.9,107.5L100.3,108.3 101.4,106.8 99.1,106.0z"/>
<path color="#92da9c" d="M100.3,108.3L102.7,109.1 103.8,107.6 101.4,106.8z"/>
<path color="#92da9c" d="M102.7,109.1L105.1,110.0 106.2,108.4 103.8,107.6z"/>
<path color="#ffdc52" d="M33.0,81.9L35.0,82.6 36.4,81.4 34.4,80.7z"/>
<path color="#ffdd53" d="M35.0,82.6L37.0,83.4 38.5,82.1 36.4,81.4z"/>
<path color="#ffdf54" d="M37.0,83.4L39.0,84.2 40.5,82.9 38.5,82.1z"/>
<path color="#ffe055" d="M39.0,84.2L41.1,85.0 42.5,83.7 40.5,82.9z"/>
<path color="#ffe558" d="M41.1,85.0L43.2,86.0 44.6,84.6 42.5,83.7z"/>
<path color="#ffeb5c" d="M43.2,86.0L45.3,87.1 46.7,85.8 44.6,84.6z"/>
<path color="#fff060" d="M45.3,87.1L47.4,88.4 48.8,87.0 46.7,85.8z"/>
<path color="#fbf666" d="M47.4,88.4L49.6,89.9 51.0,88.5 48.8,87.0z"/>
<path color="#eff96b" d="M49.6,89.9L51.8,91.4 53.1,90.0 51.0,88.5z"/>
<path color="#d9fa7c" d="M51.8,91.4L53.9,93.1 55.3,91.6 53.1,90.0z"/>
<path color="#b5f998" d="M53.9,93.1L56.1,94.9 57.5,93.5 55.3,91.6z"/>
<path color="#95edbd" d="M56.1,94.9L58.3,97.2 59.7,95.8 57.5,93.5z"/>
<path color="#7cdedd" d="M58.3,97.2L60.6,99.5 61.9,98.1 59.7,95.8z"/>
<path color="#6dccf5" d="M60.6,99.5L62.8,101.4 64.1,100.0 61.9,98.1z"/>
<path color="#64beff" d="M62.8,101.4L63.9,102.3 65.2,100.9 64.1,100.0z"/>
<path color="#61b2ff" d="M63.9,102.3L65.0,103.0 66.3,101.6 65.2,100.9z"/>
<path color="#61acff" d="M65.0,103.0L66.1,103.8 67.4,102.5 66.3,101.6z"/>
<path color="#4b83c9" d="M66.1,103.8L67.1,103.7 68.4,102.3 67.4,102.5z"/>
<path color="#3e7291" d="M67.1,103.7L68.1,102.3 69.4,100.9 68.4,102.3z"/>
<path color="#497f7d" d="M68.1,102.3L69.2,100.7 70.5,99.3 69.4,100.9z"/>
<path color="#659f82" d="M69.2,100.7L70.2,100.2 71.6,98.8 70.5,99.3z"/>
<path color="#7cbb8b" d="M70.2,100.2L71.3,100.2 72.6,98.8 71.6,98.8z"/>
<path color="#92da9c" d="M71.3,100.2L73.6,101.0 74.9,99.6 72.6,98.8z"/>
<path color="#92da9c" d="M73.6,101.0L75.8,101.8 77.1,100.3 74.9,99.6z"/>
<path color="#92da9c" d="M75.8,101.8L78.1,102.5 79.3,101.1 77.1,100.3z"/>
<path color="#92da9c" d="M78.1,102.5L80.3,103.3 81.6,101.9 79.3,101.1z"/>
<path color="#92da9c" d="M80.3,103.3L82.6,104.1 83.9,102.7 81.6,101.9z"/>
<path color="#92da9c" d="M82.6,104.1L84.9,104.9 86.2,103.5 83.9,102.7z"/>
<path color="#92da9c" d="M84.9,104.9L87.3,105.7 88.5,104.3 86.2,103.5z"/>
<path color="#92da9c" d="M87.3,105.7L89.6,106.5 90.8,105.1 88.5,104.3z"/>
<path color="#92da9c" d="M89.6,106.5L91.9,107.3 93.2,105.9 90.8,105.1z"/>
<path color="#92da9c" d="M91.9,107.3L94.3,108.2 95.5,106.7 93.2,105.9z"/>
<path color="#92da9c" d="M94.3,108.2L96.7,109.0 97.9,107.5 95.5,106.7z"/>
<path color="#92da9c" d="M96.7,109.0L99.1,109.8 100.3,108.3 97.9,107.5z"/>
<path color="#92da9c" d="M99.1,109.8L101.5,110.6 102.7,109.1 100.3,108.3z"/>
<path color="#92da9c" d="M101.5,110.6L103.9,111.5 105.1,110.0 102.7,109.1z"/>
<path color="#ffdc53" d="M31.5,83.2L33.5,83.9 35.0,82.6 33.0,81.9z"/>
<path color="#ffde54" d="M33.5,83.9L35.5,84.7 37.0,83.4 35.0,82.6z"/>
<path color="#ffdf55" d="M35.5,84.7L37.6,85.5 39.0,84.2 37.0,83.4z"/>
<path color="#ffe156" d="M37.6,85.5L39.7,86.4 41.1,85.0 39.0,84.2z"/>
<path color="#ffe658" d="M39.7,86.4L41.8,87.3 43.2,86.0 41.1,85.0z"/>
<path color="#ffeb5c" d="M41.8,87.3L43.9,88.5 45.3,87.1 43.2,86.0z"/>
<path color="#fff160" d="M43.9,88.5L46.0,89.8 47.4,88.4 45.3,87.1z"/>
<path color="#faf767" d="M46.0,89.8L48.2,91.4 49.6,89.9 47.4,88.4z"/>
<path color="#eefa6c" d="M48.2,91.4L50.4,92.9 51.8,91.4 49.6,89.9z"/>
<path color="#d5fa7f" d="M50.4,92.9L52.5,94.5 53.9,93.1 51.8,91.4z"/>
<path color="#b1f89b" d="M52.5,94.5L54.8,96.4 56.1,94.9 53.9,93.1z"/>
<path color="#93ecbf" d="M54.8,96.4L57.0,98.7 58.3,97.2 56.1,94.9z"/>
<path color="#7bdcdf" d="M57.0,98.7L59.2,101.0 60.6,99.5 58.3,97.2z"/>
<path color="#6ccaf6" d="M59.2,101.0L61.4,102.9 62.8,101.4 60.6,99.5z"/>
<path color="#64bdff" d="M61.4,102.9L62.5,103.7 63.9,102.3 62.8,101.4z"/>
<path color="#61b1ff" d="M62.5,103.7L63.6,104.4 65.0,103.0 63.9,102.3z"/>
<path color="#61abff" d="M63.6,104.4L64.7,105.2 66.1,103.8 65.0,103.0z"/>
<path color="#4b83c9" d="M64.7,105.2L65.8,105.1 67.1,103.7 66.1,103.8z"/>
<path color="#3e7291" d="M65.8,105.1L66.8,103.7 68.1,102.3 67.1,103.7z"/>
<path color="#497f7d" d="M66.8,103.7L67.8,102.1 69.2,100.7 68.1,102.3z"/>
<path color="#659f82" d="M67.8,102.1L68.9,101.6 70.2,100.2 69.2,100.7z"/>
<path color="#7cbb8b" d="M68.9,101.6L70.0,101.6 71.3,100.2 70.2,100.2z"/>
<path color="#92da9c" d="M70.0,101.6L72.3,102.4 73.6,101.0 71.3,100.2z"/>
<path color="#92da9c" d="M72.3,102.4L74.5,103.2 75.8,101.8 73.6,101.0z"/>
<path color="#92da9c" d="M74.5,103.2L76.8,104.0 78.1,102.5 75.8,101.8z"/>
<path color="#92da9c" d="M76.8,104.0L79.1,104.8 80.3,103.3 78.1,102.5z"/>
<path color="#92da9c" d="M79.1,104.8L81.4,105.6 82.6,104.1 80.3,103.3z"/>
<path color="#92da9c" d="M81.4,105.6L83.7,106.4 84.9,104.9 82.6,104.1z"/>
<path color="#92da9c" d="M83.7,106.4L86.0,107.2 87.3,105.7 84.9,104.9z"/>
<path color="#92da9c" d="M86.0,107.2L88.3,108.0 89.6,106.5 87.3,105.7z"/>
<path color="#92da9c" d="M88.3,108.0L90.7,108.8 91.9,107.3 89.6,106.5z"/>
<path color="#92da9c" d="M90.7,108.8L93.1,109.7 94.3,108.2 91.9,107.3z"/>
<path color="#92da9c" d="M93.1,109.7L95.5,110.5 96.7,109.0 94.3,108.2z"/>
<path color="#92da9c" d="M95.5,110.5L97.9,111.3 99.1,109.8 96.7,109.0z"/>
<path color="#92da9c" d="M97.9,111.3L100.3,112.2 101.5,110.6 99.1,109.8z"/>
<path color="#92da9c" d="M100.3,112.2L102.7,113.0 103.9,111.5 101.5,110.6z"/>
<path color="#ffdc53" d="M30.0,84.4L32.0,85.2 33.5,83.9 31.5,83.2z"/>
<path color="#ffde54" d="M32.0,85.2L34.1,86.0 35.5,84.7 33.5,83.9z"/>
<path color="#ffe055" d="M34.1,86.0L36.1,86.8 37.6,85.5 35.5,84.7z"/>
<path color="#ffe256" d="M36.1,86.8L38.2,87.7 39.7,86.4 37.6,85.5z"/>
<path color="#ffe659" d="M38.2,87.7L40.3,88.7 41.8,87.3 39.7,86.4z"/>
<path color="#ffeb5c" d="M40.3,88.7L42.4,89.8 43.9,88.5 41.8,87.3z"/>
<path color="#fff161" d="M42.4,89.8L44.6,91.2 46.0,89.8 43.9,88.5z"/>
<path color="#f9f867" d="M44.6,91.2L46.8,92.8 48.2,91.4 46.0,89.8z"/>
<path color="#ecfa6c" d="M46.8,92.8L49.0,94.3 50.4,92.9 48.2,91.4z"/>
<path color="#d1fa82" d="M49.0,94.3L51.1,96.0 52.5,94.5 50.4,92.9z"/>
<path color="#aef79f" d="M51.1,96.0L53.4,97.9 54.8,96.4 52.5,94.5z"/>
<path color="#91ebc2" d="M53.4,97.9L55.6,100.2 57.0,98.7 54.8,96.4z"/>
<path color="#7adbe1" d="M55.6,100.2L57.9,102.5 59.2,101.0 57.0,98.7z"/>
<path color="#6bc9f7" d="M57.9,102.5L60.1,104.3 61.4,102.9 59.2,101.0z"/>
<path color="#64bcff" d="M60.1,104.3L61.2,105.2 62.5,103.7 61.4,102.9z"/>
<path color="#60afff" d="M61.2,105.2L62.3,105.8 63.6,104.4 62.5,103.7z"/>
<path color="#61abff" d="M62.3,105.8L63.4,106.7 64.7,105.2 63.6,104.4z"/>
<path color="#4b83c9" d="M63.4,106.7L64.5,106.6 65.8,105.1 64.7,105.2z"/>
<path color="#3e7291" d="M64.5,106.6L65.5,105.1 66.8,103.7 65.8,105.1z"/>
<path color="#497f7d" d="M65.5,105.1L66.5,103.5 67.8,102.1 66.8,103.7z"/>
<path color="#659f82" d="M66.5,103.5L67.6,103.0 68.9,101.6 67.8,102.1z"/>
<path color="#7cbb8b" d="M67.6,103.0L68.7,103.1 70.0,101.6 68.9,101.6z"/>
<path color="#92da9c" d="M68.7,103.1L70.9,103.9 72.3,102.4 70.0,101.6z"/>
<path color="#92da9c" d="M70.9,103.9L73.2,104.6 74.5,103.2 72.3,102.4z"/>
<path color="#92da9c" d="M73.2,104.6L75.5,105.4 76.8,104.0 74.5,103.2z"/>
<path color="#92da9c" d="M75.5,105.4L77.8,106.3 79.1,104.8 76.8,104.0z"/>
<path color="#92da9c" d="M77.8,106.3L80.1,107.1 81.4,105.6 79.1,104.8z"/>
<path color="#92da9c" d="M80.1,107.1L82.4,107.9 83.7,106.4 81.4,105.6z"/>
<path color="#92da9c" d="M82.4,107.9L84.7,108.7 86.0,107.2 83.7,106.4z"/>
<path color="#92da9c" d="M84.7,108.7L87.1,109.5 88.3,108.0 86.0,107.2z"/>
<path color="#92da9c" d="M87.1,109.5L89.5,110.4 90.7,108.8 88.3,108.0z"/>
<path color="#92da9c" d="M89.5,110.4L91.8,111.2 93.1,109.7 90.7,108.8z"/>
<path color="#92da9c" d="M91.8,111.2L94.2,112.0 95.5,110.5 93.1,109.7z"/>
<path color="#92da9c" d="M94.2,112.0L96.7,112.9 97.9,111.3 95.5,110.5z"/>
<path color="#92da9c" d="M96.7,112.9L99.1,113.7 100.3,112.2 97.9,111.3z"/>
<path color="#92da9c" d="M99.1,113.7L101.5,114.6 102.7,113.0 100.3,112.2z"/>
</g>
<path d="M30.0,84.4 30.7,83.8 31.5,83.2 32.2,82.6 33.0,81.9 33.7,81.3 34.4,80.7 35.1,80.1 35.9,79.5 36.6,78.9 37.3,78.3 38.0,77.7 38.7,77.1 39.4,76.5 40.1,75.9 40.8,75.3 41.5,74.7 42.2,74.3 42.9,73.9 43.6,73.5 44.3,73.1 45.0,72.7 45.7,72.3 46.3,71.9 47.0,71.5 47.7,71.0 48.3,70.6 49.0,70.1 49.6,69.7 50.3,69.3 50.9,68.8 51.6,68.4 52.2,68.0 52.8,67.3 53.4,66.6 54.1,66.0 54.7,65.3 55.3,64.7 55.9,64.0 56.5,63.4 57.1,62.7 57.7,62.1 58.3,61.4 58.9,60.8 59.5,60.2 60.0,59.6 60.6,58.9 61.2,58.3 61.8,57.7 62.4,57.0 62.9,56.4 63.5,55.8 64.1,55.1 64.6,54.5 65.2,53.9 65.7,53.2 66.3,52.6 66.9,52.0 67.4,51.4 68.0,50.8 68.5,50.2 69.0,49.5 69.6,48.9 70.1,48.3 70.7,47.7M30.0,84.4 31.0,84.8 32.0,85.2 33.0,85.6 34.1,86.0 35.1,86.4 36.1,86.8 37.2,87.3 38.2,87.7 39.2,88.2 40.3,88.7 41.4,89.2 42.4,89.8 43.5,90.4 44.6,91.2 45.7,92.0 46.8,92.8 47.9,93.6 49.0,94.3 50.0,95.1 51.1,96.0 52.3,96.9 53.4,97.9 54.5,98.9 55.6,100.2 56.7,101.4 57.9,102.5 59.0,103.4 60.1,104.3 61.2,105.2 62.3,105.8 63.4,106.7 63.4,106.7 64.0,106.9 64.5,106.6 64.9,105.9 65.4,105.2 65.5,105.1 66.5,103.5 67.6,103.0 68.7,103.1 69.8,103.5 70.9,103.9 72.1,104.2 73.2,104.6 74.3,105.0 75.5,105.4 76.6,105.8 77.8,106.3 78.9,106.7 80.1,107.1 81.2,107.5 82.4,107.9 83.6,108.3 84.7,108.7 85.9,109.1 87.1,109.5 88.3,109.9 89.5,110.4 90.6,110.8 91.8,111.2 93.0,111.6 94.2,112.0 95.4,112.5 96.7,112.9 97.9,113.3 99.1,113.7 100.3,114.2 101.5,114.6M34.1,86.0 34.8,85.3 35.5,84.7 36.3,84.0 37.0,83.4 37.7,82.8 38.5,82.1 39.2,81.5 39.9,80.9 40.6,80.3 41.3,79.7 42.0,79.0 42.7,78.4 43.4,77.8 44.1,77.2 44.8,76.6 45.5,76.0 46.1,75.5 46.8,75.0 47.5,74.5 48.2,74.0 48.9,73.6 49.5,73.1 50.2,72.6 50.8,72.1 51.5,71.7 52.2,71.2 52.8,70.7 53.5,70.3 54.1,69.8 54.7,69.4 55.4,69.0 56.0,68.5 56.6,67.7 57.2,66.8 57.8,66.0 58.4,65.2 59.0,64.3 59.6,63.5 60.2,62.7 60.8,61.8 61.4,61.1 61.9,60.3 62.5,59.6 63.1,58.9 63.7,58.1 64.3,57.4 64.8,56.6 65.4,55.9 66.0,55.3 66.6,54.6 67.1,54.0 67.7,53.3 68.3,52.7 68.8,52.1 69.4,51.5 69.9,50.8 70.5,50.2 71.0,49.6 71.6,49.0 72.1,48.3 72.7,47.7 73.2,47.1 73.7,46.5 74.3,45.9M33.0,81.9 34.0,82.3 35.0,82.6 36.0,83.0 37.0,83.4 38.0,83.8 39.0,84.2 40.1,84.6 41.1,85.0 42.1,85.5 43.2,86.0 44.2,86.5 45.3,87.1 46.4,87.7 47.4,88.4 48.5,89.2 49.6,89.9 50.7,90.7 51.8,91.4 52.8,92.2 53.9,93.1 55.0,94.0 56.1,94.9 57.2,96.0 58.3,97.2 59.5,98.4 60.6,99.5 61.7,100.5 62.8,101.4 63.9,102.3 65.0,103.0 66.1,103.8 66.1,103.9 66.6,104.1 67.1,103.7 67.6,103.1 68.1,102.3 68.1,102.3 69.2,100.7 70.2,100.2 71.3,100.2 72.5,100.6 73.6,101.0 74.7,101.4 75.8,101.8 76.9,102.2 78.1,102.5 79.2,102.9 80.3,103.3 81.5,103.7 82.6,104.1 83.8,104.5 84.9,104.9 86.1,105.3 87.3,105.7 88.4,106.1 89.6,106.5 90.8,106.9 91.9,107.3 93.1,107.8 94.3,108.2 95.5,108.6 96.7,109.0 97.9,109.4 99.1,109.8 100.3,110.2 101.5,110.6 102.7,111.1 103.9,111.5M38.2,87.7 38.9,87.0 39.7,86.4 40.4,85.7 41.1,85.0 41.8,84.4 42.5,83.7 43.3,83.0 44.0,82.4 44.7,81.7 45.4,81.1 46.0,80.5 46.7,79.8 47.4,79.2 48.1,78.6 48.8,77.9 49.5,77.3 50.1,76.8 50.8,76.2 51.5,75.7 52.1,75.2 52.8,74.7 53.5,74.1 54.1,73.6 54.8,73.1 55.4,72.6 56.1,72.1 56.7,71.6 57.3,71.1 58.0,70.6 58.6,70.1 59.2,69.6 59.9,69.1 60.4,68.1 61.0,67.1 61.6,66.2 62.2,65.2 62.8,64.3 63.4,63.3 64.0,62.4 64.6,61.4 65.1,60.6 65.7,59.8 66.3,58.9 66.9,58.1 67.4,57.3 68.0,56.5 68.6,55.7 69.2,54.8 69.7,54.2 70.3,53.6 70.9,53.0 71.4,52.4 72.0,51.7 72.5,51.1 73.1,50.5 73.6,49.9 74.2,49.3 74.7,48.7 75.3,48.1 75.8,47.5 76.4,46.9 76.9,46.4 77.5,45.8 78.0,45.2M35.9,79.5 36.9,79.8 37.9,80.2 38.9,80.5 39.9,80.9 40.9,81.3 41.9,81.6 42.9,82.0 44.0,82.4 45.0,82.8 46.0,83.3 47.1,83.9 48.1,84.4 49.2,85.0 50.2,85.7 51.3,86.4 52.4,87.1 53.4,87.9 54.5,88.6 55.6,89.4 56.7,90.2 57.7,91.1 58.8,92.0 59.9,93.1 61.0,94.3 62.1,95.5 63.2,96.6 64.3,97.7 65.4,98.6 66.5,99.5 67.6,100.2 68.7,101.1 68.7,101.1 69.2,101.3 69.7,101.0 70.2,100.3 70.7,99.6 70.7,99.5 71.8,97.9 72.8,97.4 73.9,97.4 75.0,97.8 76.1,98.2 77.3,98.6 78.4,99.0 79.5,99.3 80.6,99.7 81.7,100.1 82.9,100.5 84.0,100.9 85.1,101.3 86.3,101.6 87.4,102.0 88.6,102.4 89.7,102.8 90.9,103.2 92.0,103.6 93.2,104.0 94.4,104.4 95.5,104.8 96.7,105.2 97.9,105.6 99.1,106.0 100.3,106.4 101.4,106.8 102.6,107.2 103.8,107.6 105.0,108.0 106.2,108.4M42.4,89.8 43.2,89.1 43.9,88.5 44.6,87.8 45.3,87.1 46.0,86.4 46.7,85.8 47.4,85.1 48.1,84.4 48.8,83.8 49.5,83.1 50.2,82.5 50.9,81.8 51.5,81.2 52.2,80.6 52.9,79.9 53.6,79.3 54.2,78.7 54.9,78.0 55.5,77.4 56.2,76.8 56.8,76.2 57.5,75.6 58.1,75.0 58.8,74.3 59.4,73.7 60.0,73.1 60.7,72.5 61.3,71.9 61.9,71.3 62.5,70.7 63.1,70.1 63.7,69.5 64.3,68.4 64.9,67.4 65.5,66.4 66.1,65.4 66.7,64.4 67.3,63.4 67.8,62.3 68.4,61.3 69.0,60.5 69.6,59.6 70.1,58.7 70.7,57.8 71.3,56.9 71.9,56.0 72.4,55.2 73.0,54.3 73.6,53.7 74.1,53.1 74.7,52.6 75.2,52.0 75.8,51.4 76.4,50.9 76.9,50.3 77.5,49.8 78.0,49.2 78.5,48.6 79.1,48.1 79.6,47.5 80.2,47.0 80.7,46.5 81.2,45.9 81.8,45.4M38.7,77.1 39.7,77.4 40.7,77.8 41.7,78.1 42.7,78.4 43.7,78.8 44.7,79.1 45.7,79.5 46.7,79.8 47.8,80.2 48.8,80.7 49.8,81.3 50.9,81.8 51.9,82.4 53.0,83.0 54.0,83.7 55.1,84.4 56.1,85.1 57.2,85.8 58.3,86.6 59.3,87.4 60.4,88.3 61.5,89.2 62.6,90.3 63.6,91.5 64.7,92.7 65.8,93.8 66.9,94.9 68.0,95.8 69.1,96.7 70.1,97.5 71.2,98.4 71.3,98.4 71.8,98.6 72.3,98.3 72.8,97.6 73.2,96.9 73.3,96.8 74.3,95.2 75.4,94.7 76.5,94.7 77.6,95.1 78.7,95.5 79.8,95.8 80.9,96.2 82.0,96.6 83.1,96.9 84.2,97.3 85.3,97.7 86.5,98.1 87.6,98.5 88.7,98.8 89.8,99.2 91.0,99.6 92.1,100.0 93.3,100.4 94.4,100.7 95.6,101.1 96.7,101.5 97.9,101.9 99.1,102.3 100.2,102.7 101.4,103.1 102.6,103.5 103.8,103.9 104.9,104.3 106.1,104.7 107.3,105.1 108.5,105.5M46.8,92.8 47.5,92.1 48.2,91.4 48.9,90.6 49.6,89.9 50.3,89.2 51.0,88.5 51.7,87.8 52.4,87.1 53.0,86.4 53.7,85.7 54.4,85.1 55.1,84.4 55.7,83.7 56.4,83.0 57.1,82.4 57.7,81.7 58.4,81.0 59.0,80.3 59.7,79.5 60.3,78.8 60.9,78.1 61.6,77.4 62.2,76.7 62.8,76.0 63.4,75.4 64.1,74.7 64.7,74.0 65.3,73.3 65.9,72.6 66.5,72.0 67.1,71.3 67.7,70.6 68.3,69.6 68.9,68.6 69.5,67.5 70.1,66.5 70.6,65.5 71.2,64.5 71.8,63.4 72.4,62.4 72.9,61.5 73.5,60.6 74.1,59.7 74.7,58.8 75.2,58.0 75.8,57.1 76.4,56.2 76.9,55.3 77.5,54.8 78.0,54.2 78.6,53.7 79.1,53.1 79.7,52.6 80.2,52.0 80.8,51.5 81.3,51.0 81.9,50.4 82.4,49.9 82.9,49.4 83.5,48.8 84.0,48.3 84.5,47.8 85.1,47.3 85.6,46.8M41.5,74.7 42.5,75.1 43.5,75.4 44.5,75.7 45.5,76.0 46.5,76.3 47.5,76.7 48.5,77.0 49.5,77.3 50.5,77.7 51.5,78.2 52.5,78.7 53.6,79.3 54.6,79.9 55.6,80.4 56.7,81.0 57.7,81.7 58.8,82.4 59.8,83.1 60.9,83.9 61.9,84.7 63.0,85.6 64.1,86.5 65.1,87.5 66.2,88.7 67.3,89.9 68.4,91.0 69.4,92.2 70.5,93.1 71.6,94.0 72.6,94.9 73.7,95.7 73.7,95.8 74.2,96.0 74.7,95.6 75.2,94.9 75.7,94.2 75.8,94.1 76.8,92.6 77.9,92.1 79.0,92.1 80.0,92.4 81.1,92.8 82.2,93.2 83.3,93.5 84.4,93.9 85.5,94.2 86.6,94.6 87.7,95.0 88.9,95.3 90.0,95.7 91.1,96.1 92.2,96.5 93.3,96.8 94.5,97.2 95.6,97.6 96.8,98.0 97.9,98.3 99.0,98.7 100.2,99.1 101.3,99.5 102.5,99.9 103.7,100.2 104.8,100.6 106.0,101.0 107.2,101.4 108.4,101.8 109.5,102.2 110.7,102.6M51.1,96.0 51.8,95.3 52.5,94.5 53.2,93.8 53.9,93.1 54.6,92.4 55.3,91.6 56.0,90.9 56.7,90.2 57.3,89.5 58.0,88.8 58.7,88.1 59.3,87.4 60.0,86.8 60.6,86.1 61.3,85.4 61.9,84.7 62.6,83.9 63.2,83.1 63.8,82.3 64.5,81.6 65.1,80.8 65.7,80.0 66.3,79.2 66.9,78.5 67.6,77.7 68.2,76.9 68.8,76.2 69.4,75.4 70.0,74.7 70.6,73.9 71.2,73.2 71.8,72.4 72.4,71.5 72.9,70.5 73.5,69.5 74.1,68.6 74.7,67.6 75.3,66.7 75.8,65.7 76.4,64.8 77.0,64.0 77.5,63.1 78.1,62.3 78.7,61.5 79.2,60.7 79.8,59.9 80.3,59.1 80.9,58.3 81.5,57.7 82.0,57.2 82.6,56.7 83.1,56.1 83.6,55.6 84.2,55.1 84.7,54.6 85.2,54.0 85.8,53.5 86.3,53.0 86.8,52.5 87.4,52.0 87.9,51.5 88.4,51.0 88.9,50.5 89.4,50.0M44.3,73.1 45.3,73.3 46.2,73.6 47.2,73.8 48.2,74.0 49.2,74.3 50.2,74.6 51.2,74.9 52.1,75.2 53.2,75.5 54.2,75.9 55.2,76.4 56.2,76.8 57.2,77.2 58.2,77.7 59.3,78.3 60.3,78.8 61.3,79.4 62.4,80.1 63.4,80.8 64.5,81.6 65.5,82.3 66.6,83.2 67.6,84.2 68.7,85.4 69.8,86.5 70.8,87.7 71.9,89.0 73.0,90.0 74.0,91.0 75.1,92.0 76.1,93.1 76.2,93.2 76.7,93.4 77.2,93.1 77.7,92.5 78.2,91.8 78.2,91.8 79.2,90.0 80.3,89.5 81.4,89.5 82.5,89.8 83.5,90.2 84.6,90.5 85.7,90.9 86.8,91.2 87.9,91.6 89.0,92.0 90.1,92.3 91.2,92.7 92.3,93.0 93.4,93.4 94.5,93.8 95.7,94.1 96.8,94.5 97.9,94.9 99.0,95.2 100.2,95.6 101.3,96.0 102.4,96.3 103.6,96.7 104.7,97.1 105.9,97.5 107.0,97.8 108.2,98.2 109.4,98.6 110.5,99.0 111.7,99.4 112.9,99.7M55.6,100.2 56.3,99.4 57.0,98.7 57.7,98.0 58.3,97.2 59.0,96.5 59.7,95.8 60.4,95.0 61.0,94.3 61.7,93.6 62.3,92.9 63.0,92.2 63.6,91.5 64.3,90.8 64.9,90.1 65.6,89.4 66.2,88.7 66.8,87.9 67.5,87.0 68.1,86.2 68.7,85.4 69.3,84.5 69.9,83.7 70.5,82.9 71.1,82.1 71.7,81.2 72.3,80.3 72.9,79.5 73.5,78.6 74.1,77.8 74.7,76.9 75.3,76.1 75.9,75.2 76.5,74.4 77.0,73.6 77.6,72.7 78.2,71.9 78.8,71.1 79.3,70.3 79.9,69.4 80.5,68.6 81.0,68.0 81.6,67.3 82.1,66.7 82.7,66.0 83.3,65.4 83.8,64.8 84.3,64.1 84.9,63.5 85.4,63.0 86.0,62.4 86.5,61.9 87.0,61.3 87.6,60.8 88.1,60.3 88.6,59.7 89.2,59.2 89.7,58.7 90.2,58.1 90.7,57.6 91.2,57.1 91.7,56.6 92.2,56.1 92.7,55.6 93.2,55.1M47.0,71.5 48.0,71.6 48.9,71.8 49.9,71.9 50.8,72.1 51.8,72.3 52.8,72.5 53.8,72.8 54.8,73.1 55.8,73.4 56.8,73.7 57.8,74.0 58.8,74.3 59.8,74.7 60.8,75.1 61.8,75.5 62.8,76.0 63.8,76.6 64.9,77.2 65.9,77.8 66.9,78.5 68.0,79.1 69.0,79.9 70.1,80.9 71.1,82.1 72.2,83.2 73.2,84.4 74.3,85.8 75.4,87.0 76.4,88.1 77.5,89.2 78.5,90.5 78.6,90.6 79.1,90.9 79.5,90.7 80.0,90.2 80.5,89.5 80.6,89.4 81.6,87.5 82.7,87.0 83.7,87.0 84.8,87.3 85.9,87.6 87.0,88.0 88.0,88.3 89.1,88.7 90.2,89.0 91.3,89.4 92.4,89.7 93.5,90.1 94.6,90.4 95.7,90.8 96.8,91.1 97.9,91.5 99.0,91.9 100.1,92.2 101.3,92.6 102.4,92.9 103.5,93.3 104.6,93.7 105.8,94.0 106.9,94.4 108.1,94.7 109.2,95.1 110.3,95.5 111.5,95.9 112.7,96.2 113.8,96.6 115.0,97.0M60.1,104.3 60.8,103.6 61.4,102.9 62.1,102.2 62.8,101.4 63.4,100.7 64.1,100.0 64.8,99.3 65.4,98.6 66.1,97.9 66.7,97.2 67.3,96.5 68.0,95.8 68.6,95.1 69.2,94.5 69.9,93.8 70.5,93.1 71.1,92.3 71.7,91.6 72.3,90.8 73.0,90.0 73.6,89.3 74.2,88.5 74.8,87.8 75.4,87.0 75.9,86.2 76.5,85.4 77.1,84.5 77.7,83.7 78.3,82.9 78.9,82.1 79.4,81.3 80.0,80.5 80.6,79.8 81.2,79.2 81.7,78.6 82.3,78.0 82.9,77.4 83.4,76.8 84.0,76.2 84.5,75.6 85.1,75.0 85.6,74.4 86.2,73.8 86.7,73.3 87.2,72.7 87.8,72.1 88.3,71.5 88.8,71.0 89.4,70.4 89.9,69.9 90.4,69.4 90.9,68.8 91.5,68.3 92.0,67.8 92.5,67.3 93.0,66.8 93.5,66.2 94.0,65.7 94.5,65.2 95.0,64.7 95.5,64.2 96.0,63.7 96.5,63.2 97.0,62.7M49.6,69.7 50.6,69.8 51.5,70.0 52.5,70.1 53.5,70.3 54.4,70.5 55.4,70.6 56.4,70.8 57.3,71.1 58.3,71.3 59.3,71.4 60.3,71.6 61.3,71.9 62.3,72.2 63.3,72.5 64.3,72.9 65.3,73.3 66.3,73.8 67.3,74.3 68.4,74.8 69.4,75.4 70.4,76.0 71.4,76.7 72.5,77.6 73.5,78.6 74.6,79.7 75.6,80.9 76.7,82.3 77.7,83.7 78.8,85.1 79.8,86.6 80.8,88.2 80.9,88.3 81.4,88.6 81.9,88.4 82.4,87.9 82.9,87.2 82.9,87.1 83.9,85.2 85.0,84.7 86.1,84.7 87.1,84.9 88.2,85.2 89.3,85.5 90.3,85.8 91.4,86.2 92.5,86.5 93.6,86.8 94.6,87.2 95.7,87.5 96.8,87.9 97.9,88.2 99.0,88.6 100.1,88.9 101.2,89.3 102.3,89.6 103.4,90.0 104.5,90.3 105.7,90.7 106.8,91.0 107.9,91.4 109.0,91.7 110.2,92.1 111.3,92.5 112.4,92.8 113.6,93.2 114.7,93.5 115.9,93.9 117.0,94.3M64.5,106.6 65.1,105.8 65.8,105.1 66.5,104.4 67.1,103.7 67.8,103.0 68.4,102.3 69.1,101.6 69.7,101.0 70.4,100.3 71.0,99.6 71.6,98.9 72.3,98.3 72.9,97.6 73.5,96.9 74.1,96.3 74.7,95.6 75.4,95.0 76.0,94.4 76.6,93.7 77.2,93.1 77.8,92.5 78.4,91.9 79.0,91.3 79.5,90.7 80.1,90.1 80.7,89.5 81.3,89.0 81.9,88.4 82.4,87.8 83.0,87.3 83.6,86.7 84.1,86.2 84.7,86.0 85.3,85.9 85.8,85.7 86.4,85.6 86.9,85.4 87.4,85.3 88.0,85.2 88.5,85.0 89.0,84.6 89.6,84.2 90.1,83.7 90.6,83.3 91.1,82.9 91.6,82.5 92.2,82.1 92.7,81.7 93.2,81.2 93.7,80.7 94.2,80.2 94.7,79.7 95.2,79.3 95.7,78.8 96.2,78.3 96.7,77.9 97.1,77.4 97.6,77.0 98.1,76.5 98.6,76.0 99.1,75.6 99.5,75.1 100.0,74.7 100.5,74.2M52.2,68.0 53.2,68.1 54.1,68.2 55.1,68.4 56.0,68.5 57.0,68.7 57.9,68.8 58.9,68.9 59.9,69.1 60.8,69.2 61.8,69.2 62.8,69.3 63.7,69.5 64.7,69.7 65.7,70.0 66.7,70.3 67.7,70.6 68.7,71.0 69.7,71.4 70.8,71.9 71.8,72.4 72.8,73.0 73.8,73.6 74.8,74.3 75.9,75.2 76.9,76.3 77.9,77.5 79.0,78.9 80.0,80.5 81.1,82.2 82.1,84.1 83.1,86.0 83.2,86.0 83.7,86.4 84.1,86.2 84.6,85.7 85.1,85.0 85.2,84.9 86.2,83.0 87.3,82.6 88.3,82.5 89.4,82.5 90.4,82.7 91.5,83.0 92.6,83.4 93.6,83.7 94.7,84.0 95.8,84.4 96.8,84.7 97.9,85.0 99.0,85.4 100.1,85.7 101.2,86.1 102.3,86.4 103.4,86.7 104.5,87.1 105.6,87.4 106.7,87.8 107.8,88.1 108.9,88.5 110.0,88.8 111.1,89.2 112.2,89.5 113.4,89.9 114.5,90.2 115.6,90.6 116.8,90.9 117.9,91.3 119.1,91.6M68.7,103.1 69.3,102.3 70.0,101.6 70.7,100.9 71.3,100.2 72.0,99.5 72.6,98.8 73.3,98.1 73.9,97.4 74.6,96.8 75.2,96.1 75.8,95.4 76.5,94.7 77.1,94.1 77.7,93.4 78.3,92.7 79.0,92.1 79.6,91.4 80.2,90.8 80.8,90.1 81.4,89.5 82.0,88.8 82.6,88.2 83.2,87.6 83.7,87.0 84.3,86.4 84.9,85.8 85.5,85.2 86.1,84.7 86.6,84.1 87.2,83.6 87.8,83.0 88.3,82.5 88.9,82.1 89.4,81.7 90.0,81.3 90.5,80.9 91.1,80.6 91.6,80.2 92.1,79.8 92.7,79.4 93.2,78.9 93.7,78.4 94.3,77.9 94.8,77.4 95.3,76.9 95.8,76.3 96.3,75.8 96.8,75.3 97.4,74.8 97.9,74.2 98.4,73.7 98.9,73.1 99.4,72.6 99.9,72.1 100.4,71.5 100.9,71.0 101.3,70.5 101.8,69.9 102.3,69.4 102.8,68.9 103.3,68.4 103.8,67.9 104.2,67.3 104.7,66.8M54.7,65.3 55.6,65.3 56.5,65.2 57.5,65.2 58.4,65.2 59.4,65.1 60.3,65.2 61.3,65.2 62.2,65.2 63.2,65.2 64.1,65.2 65.1,65.3 66.1,65.4 67.1,65.6 68.1,65.9 69.1,66.2 70.1,66.5 71.1,66.9 72.1,67.4 73.1,68.0 74.1,68.6 75.1,69.3 76.1,70.0 77.2,70.9 78.2,71.9 79.2,73.1 80.2,74.5 81.3,76.1 82.3,78.0 83.3,80.1 84.3,82.5 85.3,85.1 85.4,85.2 85.9,85.7 86.4,85.6 86.8,85.3 87.3,84.8 87.4,84.7 88.4,82.5 89.5,81.5 90.5,80.9 91.6,80.8 92.6,80.8 93.7,81.0 94.7,81.2 95.8,81.4 96.9,81.7 97.9,81.9 99.0,82.3 100.1,82.6 101.1,82.9 102.2,83.3 103.3,83.6 104.4,83.9 105.5,84.3 106.5,84.6 107.6,84.9 108.7,85.3 109.8,85.6 110.9,85.9 112.0,86.3 113.2,86.6 114.3,87.0 115.4,87.3 116.5,87.7 117.6,88.0 118.8,88.4 119.9,88.7 121.0,89.0M73.2,104.6 73.9,103.9 74.5,103.2 75.2,102.5 75.8,101.8 76.5,101.1 77.1,100.3 77.7,99.6 78.4,99.0 79.0,98.3 79.6,97.6 80.3,96.9 80.9,96.2 81.5,95.5 82.1,94.9 82.7,94.2 83.3,93.5 83.9,92.9 84.5,92.2 85.1,91.5 85.7,90.9 86.3,90.2 86.9,89.6 87.5,89.0 88.0,88.3 88.6,87.7 89.2,87.1 89.8,86.4 90.3,85.8 90.9,85.2 91.4,84.6 92.0,84.0 92.6,83.4 93.1,82.8 93.7,82.3 94.2,81.7 94.7,81.2 95.3,80.6 95.8,80.1 96.3,79.6 96.9,79.0 97.4,78.5 97.9,77.9 98.4,77.3 99.0,76.7 99.5,76.2 100.0,75.6 100.5,75.0 101.0,74.5 101.5,73.9 102.0,73.4 102.5,72.8 103.0,72.3 103.5,71.7 104.0,71.2 104.5,70.7 105.0,70.1 105.4,69.6 105.9,69.1 106.4,68.5 106.9,68.0 107.4,67.5 107.8,67.0 108.3,66.4 108.8,65.9M57.1,62.7 58.0,62.5 58.9,62.2 59.8,62.0 60.8,61.8 61.7,61.7 62.7,61.6 63.6,61.5 64.6,61.4 65.5,61.4 66.5,61.3 67.4,61.3 68.4,61.3 69.4,61.6 70.4,61.9 71.4,62.1 72.4,62.4 73.4,62.8 74.4,63.4 75.4,64.1 76.4,64.8 77.4,65.6 78.4,66.5 79.4,67.5 80.5,68.6 81.5,69.9 82.5,71.5 83.5,73.4 84.5,75.6 85.5,78.1 86.5,81.0 87.5,84.3 87.5,84.4 88.0,85.0 88.5,85.0 89.0,85.0 89.5,84.5 89.5,84.5 90.6,81.9 91.6,80.4 92.7,79.4 93.7,79.1 94.8,79.0 95.8,79.0 96.9,79.0 97.9,79.2 99.0,79.3 100.0,79.6 101.1,79.9 102.2,80.2 103.2,80.5 104.3,80.9 105.4,81.2 106.4,81.5 107.5,81.8 108.6,82.2 109.7,82.5 110.8,82.8 111.9,83.2 112.9,83.5 114.0,83.8 115.1,84.2 116.2,84.5 117.4,84.8 118.5,85.2 119.6,85.5 120.7,85.8 121.8,86.2 122.9,86.5M77.8,106.3 78.4,105.5 79.1,104.8 79.7,104.1 80.3,103.3 81.0,102.6 81.6,101.9 82.2,101.2 82.9,100.5 83.5,99.8 84.1,99.1 84.7,98.4 85.3,97.7 85.9,97.0 86.5,96.3 87.1,95.7 87.7,95.0 88.3,94.3 88.9,93.6 89.5,93.0 90.1,92.3 90.7,91.7 91.2,91.0 91.8,90.4 92.4,89.7 93.0,89.1 93.5,88.4 94.1,87.8 94.6,87.2 95.2,86.6 95.7,85.9 96.3,85.3 96.8,84.7 97.4,84.1 97.9,83.5 98.5,82.9 99.0,82.3 99.5,81.7 100.0,81.1 100.6,80.5 101.1,79.9 101.6,79.3 102.1,78.7 102.6,78.2 103.2,77.6 103.7,77.0 104.2,76.4 104.7,75.9 105.2,75.3 105.7,74.7 106.2,74.2 106.6,73.6 107.1,73.1 107.6,72.5 108.1,72.0 108.6,71.4 109.1,70.9 109.5,70.4 110.0,69.8 110.5,69.3 111.0,68.8 111.4,68.2 111.9,67.7 112.4,67.2 112.8,66.7M59.5,60.2 60.4,59.8 61.3,59.5 62.2,59.1 63.1,58.9 64.0,58.6 65.0,58.4 65.9,58.2 66.9,58.1 67.8,58.0 68.8,57.8 69.7,57.8 70.7,57.8 71.7,58.0 72.7,58.3 73.7,58.6 74.7,58.8 75.7,59.3 76.7,59.9 77.7,60.7 78.7,61.5 79.7,62.5 80.7,63.6 81.7,64.8 82.7,66.0 83.7,67.5 84.7,69.1 85.7,71.0 86.7,73.3 87.7,75.9 88.7,78.9 89.6,82.5 89.7,82.6 90.1,83.3 90.6,83.3 91.1,83.3 91.6,82.8 91.6,82.7 92.7,80.1 93.7,78.4 94.8,77.4 95.8,76.9 96.9,76.7 97.9,76.7 99.0,76.7 100.0,76.8 101.1,77.0 102.1,77.3 103.2,77.6 104.2,77.9 105.3,78.2 106.3,78.5 107.4,78.8 108.4,79.2 109.5,79.5 110.6,79.8 111.7,80.1 112.7,80.4 113.8,80.8 114.9,81.1 116.0,81.4 117.1,81.7 118.2,82.1 119.3,82.4 120.4,82.7 121.5,83.1 122.6,83.4 123.7,83.7 124.8,84.1M82.4,107.9 83.0,107.1 83.7,106.4 84.3,105.7 84.9,104.9 85.6,104.2 86.2,103.5 86.8,102.7 87.4,102.0 88.0,101.3 88.6,100.6 89.2,99.9 89.8,99.2 90.4,98.5 91.0,97.8 91.6,97.1 92.2,96.5 92.8,95.8 93.4,95.1 94.0,94.4 94.5,93.8 95.1,93.1 95.7,92.4 96.2,91.8 96.8,91.1 97.4,90.5 97.9,89.8 98.5,89.2 99.0,88.6 99.6,87.9 100.1,87.3 100.6,86.7 101.2,86.1 101.7,85.4 102.2,84.8 102.8,84.2 103.3,83.6 103.8,83.0 104.3,82.4 104.8,81.8 105.4,81.2 105.9,80.6 106.4,80.0 106.9,79.4 107.4,78.8 107.9,78.3 108.4,77.7 108.9,77.1 109.4,76.5 109.9,76.0 110.3,75.4 110.8,74.8 111.3,74.3 111.8,73.7 112.3,73.2 112.7,72.6 113.2,72.1 113.7,71.5 114.1,71.0 114.6,70.5 115.1,69.9 115.5,69.4 116.0,68.9 116.4,68.3 116.9,67.8M61.8,57.7 62.7,57.2 63.6,56.7 64.5,56.3 65.4,55.9 66.3,55.6 67.3,55.3 68.2,55.0 69.2,54.8 70.1,54.6 71.1,54.4 72.0,54.3 73.0,54.3 74.0,54.5 74.9,54.8 75.9,55.0 76.9,55.3 77.9,55.8 78.9,56.5 79.9,57.3 80.9,58.3 81.9,59.5 82.9,60.8 83.9,62.1 84.9,63.5 85.9,65.1 86.9,66.7 87.9,68.6 88.8,71.0 89.8,73.8 90.8,76.8 91.7,80.7 91.7,80.9 92.2,81.6 92.7,81.7 93.1,81.6 93.6,81.1 93.7,81.0 94.7,78.2 95.8,76.5 96.8,75.3 97.9,74.8 98.9,74.4 100.0,74.4 101.0,74.5 102.0,74.6 103.1,74.7 104.1,75.0 105.2,75.3 106.2,75.6 107.3,75.9 108.3,76.2 109.4,76.5 110.4,76.9 111.5,77.2 112.5,77.5 113.6,77.8 114.7,78.1 115.8,78.4 116.8,78.7 117.9,79.1 119.0,79.4 120.1,79.7 121.2,80.0 122.3,80.3 123.4,80.7 124.4,81.0 125.6,81.3 126.7,81.6M87.1,109.5 87.7,108.8 88.3,108.0 89.0,107.3 89.6,106.5 90.2,105.8 90.8,105.1 91.4,104.3 92.0,103.6 92.6,102.9 93.2,102.2 93.8,101.5 94.4,100.7 95.0,100.0 95.6,99.3 96.2,98.6 96.8,98.0 97.3,97.3 97.9,96.6 98.5,95.9 99.0,95.2 99.6,94.6 100.2,93.9 100.7,93.2 101.3,92.6 101.8,91.9 102.4,91.3 102.9,90.6 103.4,90.0 104.0,89.3 104.5,88.7 105.0,88.1 105.6,87.4 106.1,86.8 106.6,86.2 107.1,85.6 107.6,84.9 108.2,84.3 108.7,83.7 109.2,83.1 109.7,82.5 110.2,81.9 110.7,81.3 111.2,80.7 111.7,80.1 112.2,79.5 112.6,79.0 113.1,78.4 113.6,77.8 114.1,77.2 114.6,76.6 115.0,76.1 115.5,75.5 116.0,74.9 116.5,74.4 116.9,73.8 117.4,73.3 117.8,72.7 118.3,72.2 118.8,71.6 119.2,71.1 119.7,70.6 120.1,70.0 120.6,69.5 121.0,69.0M64.1,55.1 65.0,54.6 65.9,54.2 66.8,53.7 67.7,53.3 68.6,53.0 69.5,52.7 70.5,52.5 71.4,52.4 72.4,52.2 73.3,52.1 74.3,52.0 75.2,52.0 76.2,52.2 77.2,52.5 78.2,52.8 79.1,53.1 80.1,53.6 81.1,54.3 82.1,55.2 83.1,56.1 84.1,57.3 85.1,58.6 86.1,59.9 87.0,61.3 88.0,62.9 89.0,64.6 90.0,66.5 90.9,68.8 91.9,71.6 92.8,74.7 93.7,78.8 93.8,78.9 94.2,79.7 94.7,79.7 95.2,79.7 95.6,79.2 95.7,79.1 96.8,76.1 97.8,74.3 98.9,73.1 99.9,72.6 100.9,72.3 102.0,72.2 103.0,72.3 104.0,72.4 105.1,72.5 106.1,72.8 107.1,73.1 108.2,73.4 109.2,73.7 110.3,74.0 111.3,74.3 112.4,74.6 113.4,74.9 114.5,75.2 115.5,75.5 116.6,75.8 117.6,76.1 118.7,76.4 119.8,76.8 120.9,77.1 121.9,77.4 123.0,77.7 124.1,78.0 125.2,78.3 126.3,78.6 127.4,79.0 128.5,79.3M91.8,111.2 92.5,110.4 93.1,109.7 93.7,108.9 94.3,108.2 94.9,107.4 95.5,106.7 96.1,105.9 96.7,105.2 97.3,104.5 97.9,103.7 98.5,103.0 99.1,102.3 99.6,101.6 100.2,100.9 100.8,100.2 101.3,99.5 101.9,98.8 102.5,98.1 103.0,97.4 103.6,96.7 104.1,96.0 104.7,95.4 105.2,94.7 105.8,94.0 106.3,93.4 106.8,92.7 107.4,92.0 107.9,91.4 108.4,90.7 109.0,90.1 109.5,89.4 110.0,88.8 110.5,88.2 111.0,87.5 111.5,86.9 112.0,86.3 112.5,85.7 113.0,85.1 113.5,84.4 114.0,83.8 114.5,83.2 115.0,82.6 115.5,82.0 116.0,81.4 116.5,80.8 117.0,80.2 117.4,79.6 117.9,79.1 118.4,78.5 118.8,77.9 119.3,77.3 119.8,76.8 120.2,76.2 120.7,75.6 121.2,75.1 121.6,74.5 122.1,73.9 122.5,73.4 123.0,72.8 123.4,72.3 123.8,71.7 124.3,71.2 124.7,70.7 125.2,70.1M66.3,52.6 67.2,52.1 68.1,51.6 69.0,51.2 69.9,50.8 70.8,50.5 71.8,50.2 72.7,50.0 73.6,49.9 74.6,49.8 75.5,49.7 76.5,49.7 77.5,49.8 78.4,50.0 79.4,50.3 80.4,50.6 81.3,51.0 82.3,51.5 83.3,52.2 84.3,53.1 85.2,54.0 86.2,55.2 87.2,56.4 88.2,57.7 89.2,59.2 90.1,60.7 91.1,62.4 92.0,64.4 93.0,66.8 93.9,69.5 94.8,72.6 95.7,76.8 95.7,77.0 96.2,77.8 96.7,77.9 97.1,77.8 97.6,77.3 97.7,77.2 98.7,74.0 99.8,72.2 100.9,71.0 101.9,70.4 102.9,70.1 103.9,70.1 105.0,70.1 106.0,70.2 107.0,70.4 108.0,70.6 109.1,70.9 110.1,71.2 111.1,71.5 112.2,71.8 113.2,72.1 114.2,72.4 115.3,72.7 116.3,73.0 117.4,73.3 118.4,73.6 119.5,73.9 120.5,74.2 121.6,74.5 122.7,74.8 123.7,75.1 124.8,75.4 125.9,75.7 127.0,76.0 128.0,76.3 129.1,76.7 130.2,77.0M96.7,112.9 97.3,112.1 97.9,111.3 98.5,110.6 99.1,109.8 99.7,109.1 100.3,108.3 100.9,107.6 101.4,106.8 102.0,106.1 102.6,105.3 103.2,104.6 103.8,103.9 104.3,103.2 104.9,102.4 105.4,101.7 106.0,101.0 106.6,100.3 107.1,99.6 107.7,98.9 108.2,98.2 108.7,97.5 109.3,96.8 109.8,96.2 110.3,95.5 110.9,94.8 111.4,94.1 111.9,93.5 112.4,92.8 113.0,92.2 113.5,91.5 114.0,90.9 114.5,90.2 115.0,89.6 115.5,88.9 116.0,88.3 116.5,87.7 117.0,87.0 117.5,86.4 118.0,85.8 118.5,85.2 118.9,84.6 119.4,83.9 119.9,83.3 120.4,82.7 120.9,82.1 121.3,81.5 121.8,80.9 122.3,80.3 122.7,79.8 123.2,79.2 123.6,78.6 124.1,78.0 124.5,77.4 125.0,76.9 125.4,76.3 125.9,75.7 126.3,75.2 126.8,74.6 127.2,74.0 127.6,73.5 128.1,72.9 128.5,72.4 128.9,71.8 129.4,71.3M68.5,50.2 69.4,49.6 70.3,49.1 71.2,48.7 72.1,48.3 73.0,48.0 74.0,47.8 74.9,47.6 75.8,47.5 76.8,47.5 77.7,47.4 78.7,47.5 79.6,47.5 80.6,47.8 81.5,48.1 82.5,48.4 83.5,48.8 84.5,49.4 85.4,50.2 86.4,51.1 87.4,52.0 88.3,53.0 89.3,54.2 90.3,55.5 91.2,57.1 92.2,58.6 93.1,60.3 94.1,62.4 95.0,64.7 95.9,67.4 96.8,70.6 97.7,75.0 97.7,75.2 98.1,76.0 98.6,76.0 99.1,76.0 99.6,75.4 99.6,75.3 100.7,72.0 101.8,70.1 102.8,68.9 103.8,68.3 104.9,68.0 105.9,68.0 106.9,68.0 107.9,68.1 108.9,68.2 109.9,68.5 111.0,68.8 112.0,69.0 113.0,69.3 114.0,69.6 115.1,69.9 116.1,70.2 117.1,70.5 118.2,70.8 119.2,71.1 120.3,71.4 121.3,71.7 122.4,72.0 123.4,72.3 124.5,72.6 125.5,72.9 126.6,73.2 127.6,73.5 128.7,73.8 129.8,74.1 130.9,74.4 131.9,74.7M101.5,114.6 102.1,113.8 102.7,113.0 103.3,112.3 103.9,111.5 104.5,110.7 105.1,110.0 105.7,109.2 106.2,108.4 106.8,107.7 107.4,106.9 107.9,106.2 108.5,105.5 109.1,104.7 109.6,104.0 110.2,103.3 110.7,102.6 111.3,101.9 111.8,101.1 112.3,100.4 112.9,99.7 113.4,99.0 113.9,98.3 114.5,97.7 115.0,97.0 115.5,96.3 116.0,95.6 116.5,94.9 117.0,94.3 117.5,93.6 118.1,92.9 118.6,92.3 119.1,91.6 119.5,91.0 120.0,90.3 120.5,89.7 121.0,89.0 121.5,88.4 122.0,87.8 122.5,87.1 122.9,86.5 123.4,85.9 123.9,85.3 124.4,84.7 124.8,84.1 125.3,83.4 125.7,82.8 126.2,82.2 126.7,81.6 127.1,81.0 127.6,80.5 128.0,79.9 128.5,79.3 128.9,78.7 129.3,78.1 129.8,77.5 130.2,77.0 130.6,76.4 131.1,75.8 131.5,75.3 131.9,74.7 132.4,74.1 132.8,73.6 133.2,73.0 133.6,72.5M70.7,47.7 71.6,47.2 72.5,46.7 73.4,46.3 74.3,45.9 75.2,45.6 76.1,45.4 77.1,45.2 78.0,45.2 78.9,45.2 79.9,45.2 80.8,45.3 81.8,45.4 82.7,45.6 83.7,45.9 84.6,46.3 85.6,46.8 86.5,47.4 87.5,48.2 88.5,49.1 89.4,50.0 90.4,51.0 91.3,52.1 92.3,53.4 93.2,55.1 94.2,56.6 95.1,58.3 96.1,60.4 97.0,62.7 97.9,65.4 98.7,68.6 99.6,73.1 99.6,73.3 100.0,74.2 100.5,74.2 101.0,74.2 101.4,73.6 101.5,73.5 102.6,70.0 103.7,68.1 104.7,66.8 105.7,66.2 106.7,65.9 107.8,65.9 108.8,65.9 109.8,66.0 110.8,66.2 111.8,66.4 112.8,66.7 113.8,66.9 114.8,67.2 115.9,67.5 116.9,67.8 117.9,68.1 118.9,68.4 120.0,68.7 121.0,69.0 122.0,69.2 123.1,69.5 124.1,69.8 125.2,70.1 126.2,70.4 127.3,70.7 128.3,71.0 129.4,71.3 130.4,71.6 131.5,71.9 132.6,72.2 133.6,72.5" fill="none" stroke="#000" stroke-opacity="0.75" stroke-width="0.62" stroke-linejoin="round"/>
<line x1="29.4" y1="102.3" x2="26.0" y2="75.9" stroke="#989898" stroke-width="0.5" opacity="1"/>
<line x1="134.7" y1="83.8" x2="137.5" y2="58.5" stroke="#989898" stroke-width="0.5" opacity="1"/>
<line x1="137.5" y1="58.5" x2="69.9" y2="40.9" stroke="#989898" stroke-width="0.5" opacity="1"/>
<line x1="69.9" y1="40.9" x2="26.0" y2="75.9" stroke="#989898" stroke-width="0.5" opacity="1"/>
<line x1="29.4" y1="102.3" x2="102.0" y2="129.3" stroke="#989898" stroke-width="0.5" opacity="1"/>
<line x1="102.0" y1="129.3" x2="134.7" y2="83.8" stroke="#989898" stroke-width="0.5" opacity="1"/>
<line x1="29.4" y1="102.3" x2="102.0" y2="129.3" stroke="#666" stroke-width="0.9" opacity="1" stroke-dasharray="0.45,1.25"/>
<line x1="102.0" y1="129.3" x2="134.7" y2="83.8" stroke="#666" stroke-width="0.9" opacity="1" stroke-dasharray="0.45,1.1"/>
<line x1="29.4" y1="102.3" x2="26.0" y2="75.9" stroke="#666" stroke-width="0.9" opacity="1" stroke-dasharray="0.45,1.5"/>
<text transform="translate(25.20,82.17) rotate(0.3) scale(1.05,1)" class="b" font-size="9.40" text-anchor="end" >0.366</text>
<text transform="translate(26.70,89.67) rotate(0.3) scale(1.05,1)" class="b" font-size="9.40" text-anchor="end" >0.364</text>
<text transform="translate(28.20,98.07) rotate(0.3) scale(1.05,1)" class="b" font-size="9.40" text-anchor="end" >0.362</text>
<text transform="translate(24.40,112.67) rotate(0.3) scale(1.05,1)" class="b" font-size="9.40" text-anchor="middle" >−2</text>
<text transform="translate(40.10,119.07) rotate(0.3) scale(1.05,1)" class="b" font-size="9.40" text-anchor="middle" >−1</text>
<text transform="translate(60.50,125.87) rotate(0.3) scale(1.05,1)" class="b" font-size="9.40" text-anchor="middle" >0</text>
<text transform="translate(78.30,132.77) rotate(0.3) scale(1.05,1)" class="b" font-size="9.40" text-anchor="middle" >1</text>
<text transform="translate(98.00,139.67) rotate(0.3) scale(1.05,1)" class="b" font-size="9.40" text-anchor="middle" >2</text>
<text transform="translate(54.30,132.70) rotate(0.3) scale(1.05,1)" class="b" font-size="9.40" text-anchor="middle" font-style="italic">x</text>
<text transform="translate(136.40,90.07) rotate(0.3) scale(1.05,1)" class="b" font-size="9.40" text-anchor="middle" >2</text>
<text transform="translate(130.60,99.47) rotate(0.3) scale(1.05,1)" class="b" font-size="9.40" text-anchor="middle" >1</text>
<text transform="translate(123.50,110.57) rotate(0.3) scale(1.05,1)" class="b" font-size="9.40" text-anchor="middle" >0</text>
<text transform="translate(117.40,122.97) rotate(0.3) scale(1.05,1)" class="b" font-size="9.40" text-anchor="middle" >−1</text>
<text transform="translate(110.10,135.57) rotate(0.3) scale(1.05,1)" class="b" font-size="9.40" text-anchor="middle" >−2</text>
<text transform="translate(128.50,111.90) rotate(0.3) scale(1.05,1)" class="b" font-size="9.40" text-anchor="middle" font-style="italic">t</text>
<defs><linearGradient id="lg3" x1="0" y1="0" x2="0" y2="1"><stop offset="0.000" stop-color="#db2122"/><stop offset="0.083" stop-color="#e3542b"/><stop offset="0.167" stop-color="#e58334"/><stop offset="0.250" stop-color="#dea63b"/><stop offset="0.333" stop-color="#cab843"/><stop offset="0.417" stop-color="#aabd54"/><stop offset="0.500" stop-color="#83ba70"/><stop offset="0.583" stop-color="#63ad96"/><stop offset="0.667" stop-color="#4e99b5"/><stop offset="0.750" stop-color="#447acd"/><stop offset="0.833" stop-color="#464fcb"/><stop offset="0.917" stop-color="#5825ab"/><stop offset="1.000" stop-color="#781c86"/></linearGradient></defs><rect x="147.8" y="56.1" width="5.2" height="46.9" fill="url(#lg3)"/>
<text transform="translate(156.60,65.70) rotate(0.3) scale(0.95,1)" class="b" font-size="9.80" text-anchor="start" >0.366</text>
<text transform="translate(156.60,73.32) rotate(0.3) scale(0.95,1)" class="b" font-size="9.80" text-anchor="start" >0.365</text>
<text transform="translate(156.60,80.94) rotate(0.3) scale(0.95,1)" class="b" font-size="9.80" text-anchor="start" >0.364</text>
<text transform="translate(156.60,88.56) rotate(0.3) scale(0.95,1)" class="b" font-size="9.80" text-anchor="start" >0.363</text>
<text transform="translate(156.60,96.18) rotate(0.3) scale(0.95,1)" class="b" font-size="9.80" text-anchor="start" >0.362</text>
<text transform="translate(156.60,103.80) rotate(0.3) scale(0.95,1)" class="b" font-size="9.80" text-anchor="start" >0.361</text>
</g>
<g id="p2d">
<line x1="320.4" y1="52.5" x2="320.4" y2="111.6" stroke="#dadada" stroke-width="0.6" stroke-dasharray="1,1.3"/>
<line x1="343.8" y1="52.5" x2="343.8" y2="111.6" stroke="#dadada" stroke-width="0.6" stroke-dasharray="1,1.3"/>
<line x1="367.2" y1="52.5" x2="367.2" y2="111.6" stroke="#dadada" stroke-width="0.6" stroke-dasharray="1,1.3"/>
<line x1="294.8" y1="100.2" x2="392.8" y2="100.2" stroke="#dadada" stroke-width="0.6" stroke-dasharray="1,1.3"/>
<line x1="294.8" y1="89.4" x2="392.8" y2="89.4" stroke="#dadada" stroke-width="0.6" stroke-dasharray="1,1.3"/>
<line x1="294.8" y1="78.7" x2="392.8" y2="78.7" stroke="#dadada" stroke-width="0.6" stroke-dasharray="1,1.3"/>
<line x1="294.8" y1="67.9" x2="392.8" y2="67.9" stroke="#dadada" stroke-width="0.6" stroke-dasharray="1,1.3"/>
<line x1="294.8" y1="57.1" x2="392.8" y2="57.1" stroke="#dadada" stroke-width="0.6" stroke-dasharray="1,1.3"/>
<rect x="294.8" y="52.5" width="98.0" height="59.099999999999994" fill="none" stroke="#b4b4b4" stroke-width="0.6" stroke-dasharray="1,1.3"/>
<path d="M297.0,111.6v-1.6M297.0,52.5v1.6" stroke="#888" stroke-width="0.4"/>
<path d="M308.7,111.6v-1.0M308.7,52.5v1.0" stroke="#888" stroke-width="0.4"/>
<path d="M320.4,111.6v-1.6M320.4,52.5v1.6" stroke="#888" stroke-width="0.4"/>
<path d="M332.1,111.6v-1.0M332.1,52.5v1.0" stroke="#888" stroke-width="0.4"/>
<path d="M343.8,111.6v-1.6M343.8,52.5v1.6" stroke="#888" stroke-width="0.4"/>
<path d="M355.5,111.6v-1.0M355.5,52.5v1.0" stroke="#888" stroke-width="0.4"/>
<path d="M367.2,111.6v-1.6M367.2,52.5v1.6" stroke="#888" stroke-width="0.4"/>
<path d="M378.9,111.6v-1.0M378.9,52.5v1.0" stroke="#888" stroke-width="0.4"/>
<path d="M390.6,111.6v-1.6M390.6,52.5v1.6" stroke="#888" stroke-width="0.4"/>
<path d="M294.8,111.0h1.6M392.8,111.0h-1.6" stroke="#888" stroke-width="0.4"/>
<path d="M294.8,105.6h1.0M392.8,105.6h-1.0" stroke="#888" stroke-width="0.4"/>
<path d="M294.8,100.2h1.6M392.8,100.2h-1.6" stroke="#888" stroke-width="0.4"/>
<path d="M294.8,94.8h1.0M392.8,94.8h-1.0" stroke="#888" stroke-width="0.4"/>
<path d="M294.8,89.4h1.6M392.8,89.4h-1.6" stroke="#888" stroke-width="0.4"/>
<path d="M294.8,84.1h1.0M392.8,84.1h-1.0" stroke="#888" stroke-width="0.4"/>
<path d="M294.8,78.7h1.6M392.8,78.7h-1.6" stroke="#888" stroke-width="0.4"/>
<path d="M294.8,73.3h1.0M392.8,73.3h-1.0" stroke="#888" stroke-width="0.4"/>
<path d="M294.8,67.9h1.6M392.8,67.9h-1.6" stroke="#888" stroke-width="0.4"/>
<path d="M294.8,62.5h1.0M392.8,62.5h-1.0" stroke="#888" stroke-width="0.4"/>
<path d="M294.8,57.1h1.6M392.8,57.1h-1.6" stroke="#888" stroke-width="0.4"/>
<defs><linearGradient id="cg2" gradientUnits="userSpaceOnUse" x1="297" y1="0" x2="390.6" y2="0"><stop offset="0.0000" stop-color="#daae3d"/><stop offset="0.0345" stop-color="#e59837"/><stop offset="0.0690" stop-color="#e57631"/><stop offset="0.1034" stop-color="#e3592c"/><stop offset="0.1379" stop-color="#e04128"/><stop offset="0.1724" stop-color="#dd2f24"/><stop offset="0.2069" stop-color="#db2422"/><stop offset="0.2413" stop-color="#db2322"/><stop offset="0.2759" stop-color="#dd3225"/><stop offset="0.3104" stop-color="#e2532b"/><stop offset="0.3449" stop-color="#e58534"/><stop offset="0.3793" stop-color="#d9af3d"/><stop offset="0.4138" stop-color="#a9bd54"/><stop offset="0.4380" stop-color="#7ab67a"/><stop offset="0.4483" stop-color="#67ae91"/><stop offset="0.4541" stop-color="#5ca99f"/><stop offset="0.4701" stop-color="#478ec2"/><stop offset="0.4808" stop-color="#4064d8"/><stop offset="0.4828" stop-color="#4357d1"/><stop offset="0.4893" stop-color="#502bb6"/><stop offset="0.4973" stop-color="#781c86"/><stop offset="0.5053" stop-color="#4f30b9"/><stop offset="0.5128" stop-color="#425dd4"/><stop offset="0.5172" stop-color="#416cd3"/><stop offset="0.5235" stop-color="#447ccb"/><stop offset="0.5395" stop-color="#4a94bc"/><stop offset="0.5517" stop-color="#519bb1"/><stop offset="0.5556" stop-color="#529daf"/><stop offset="0.5769" stop-color="#59a6a3"/><stop offset="0.5862" stop-color="#5ca89f"/><stop offset="0.6207" stop-color="#67ae91"/><stop offset="0.6551" stop-color="#6db18a"/><stop offset="0.6896" stop-color="#72b384"/><stop offset="0.7241" stop-color="#75b480"/><stop offset="0.7587" stop-color="#78b57e"/><stop offset="0.7931" stop-color="#79b67c"/><stop offset="0.8276" stop-color="#7ab67b"/><stop offset="0.8621" stop-color="#7bb77a"/><stop offset="0.8966" stop-color="#7cb778"/><stop offset="0.9310" stop-color="#7db877"/><stop offset="0.9655" stop-color="#7eb876"/><stop offset="1.0000" stop-color="#7fb876"/></linearGradient></defs>
<path d="M297.00,69.50 297.73,68.55 298.46,67.63 299.19,66.74 299.92,65.88 300.64,65.05 301.37,64.25 302.10,63.49 302.83,62.76 303.56,62.07 304.29,61.39 305.02,60.74 305.75,60.12 306.47,59.52 307.20,58.96 307.93,58.44 308.66,57.96 309.39,57.51 310.12,57.07 310.85,56.65 311.58,56.26 312.31,55.90 313.03,55.58 313.76,55.31 314.49,55.08 315.22,54.86 315.95,54.65 316.68,54.47 317.41,54.35 318.14,54.30 318.86,54.34 319.59,54.47 320.32,54.68 321.05,54.95 321.78,55.27 322.51,55.63 323.24,56.01 323.97,56.48 324.69,57.14 325.42,57.97 326.15,58.91 326.88,59.94 327.61,60.99 328.34,62.05 329.07,63.19 329.80,64.42 330.53,65.74 331.25,67.13 331.98,68.57 332.71,70.09 333.44,71.71 334.17,73.41 334.90,75.14 335.63,76.91 336.36,78.67 337.08,80.48 337.81,82.38 338.54,84.43 339.27,86.64 340.00,89.03 340.00,89.03 340.15,89.55 340.30,90.08 340.44,90.63 340.59,91.20 340.74,91.79 340.89,92.39 341.04,93.02 341.18,93.67 341.33,94.37 341.48,95.10 341.63,95.87 341.77,96.67 341.92,97.51 342.07,98.38 342.22,99.27 342.37,100.20 342.51,101.14 342.66,102.12 342.81,103.14 342.96,104.23 343.11,105.36 343.25,106.54 343.40,107.76 343.55,109.00 343.74,107.33 343.92,105.71 344.11,104.15 344.29,102.69 344.48,101.37 344.66,100.21 344.85,99.23 345.03,98.44 345.22,97.69 345.40,96.99 345.59,96.34 345.77,95.73 345.96,95.15 346.15,94.62 346.33,94.13 346.52,93.67 346.70,93.24 346.89,92.85 347.07,92.50 347.26,92.17 347.44,91.87 347.63,91.58 347.81,91.30 348.00,91.04 348.00,91.04 348.87,89.94 349.74,89.05 350.61,88.32 351.48,87.69 352.35,87.11 353.22,86.59 354.09,86.13 354.96,85.73 355.82,85.41 356.69,85.16 357.56,84.93 358.43,84.72 359.30,84.52 360.17,84.34 361.04,84.17 361.91,84.02 362.78,83.88 363.65,83.75 364.52,83.64 365.39,83.54 366.26,83.45 367.13,83.37 368.00,83.30 368.87,83.24 369.73,83.18 370.60,83.13 371.47,83.08 372.34,83.03 373.21,82.99 374.08,82.95 374.95,82.91 375.82,82.87 376.69,82.83 377.56,82.79 378.43,82.75 379.30,82.71 380.17,82.68 381.04,82.64 381.91,82.60 382.78,82.57 383.64,82.53 384.51,82.50 385.38,82.47 386.25,82.44 387.12,82.41 387.99,82.38 388.86,82.35 389.73,82.32 390.60,82.30" fill="none" stroke="url(#cg2)" stroke-width="1.0" stroke-linejoin="round"/>
<text transform="translate(293.20,59.42) rotate(0.3) scale(1.06,1)" class="b" font-size="9.00" text-anchor="end" >0.366</text>
<text transform="translate(293.20,70.28) rotate(0.3) scale(1.06,1)" class="b" font-size="9.00" text-anchor="end" >0.365</text>
<text transform="translate(293.20,81.14) rotate(0.3) scale(1.06,1)" class="b" font-size="9.00" text-anchor="end" >0.364</text>
<text transform="translate(293.20,92.00) rotate(0.3) scale(1.06,1)" class="b" font-size="9.00" text-anchor="end" >0.363</text>
<text transform="translate(293.20,102.86) rotate(0.3) scale(1.06,1)" class="b" font-size="9.00" text-anchor="end" >0.362</text>
<text transform="translate(293.20,113.72) rotate(0.3) scale(1.06,1)" class="b" font-size="9.00" text-anchor="end" >0.361</text>
<text transform="translate(296.70,122.09) rotate(0.3) scale(1.04,1)" class="b" font-size="8.90" text-anchor="middle" >−2</text>
<text transform="translate(320.10,122.09) rotate(0.3) scale(1.04,1)" class="b" font-size="8.90" text-anchor="middle" >−1</text>
<text transform="translate(343.80,122.09) rotate(0.3) scale(1.04,1)" class="b" font-size="8.90" text-anchor="middle" >0</text>
<text transform="translate(367.20,122.09) rotate(0.3) scale(1.04,1)" class="b" font-size="8.90" text-anchor="middle" >1</text>
<text transform="translate(390.60,122.09) rotate(0.3) scale(1.04,1)" class="b" font-size="8.90" text-anchor="middle" >2</text>
<text transform="translate(343.60,139.40) rotate(0.3) scale(1.0,1)" class="b" font-size="13.00" text-anchor="middle" >x</text>
<text transform="translate(264.2,82) rotate(-90.3)" class="b" font-size="13.5" text-anchor="middle">|<tspan font-style="italic">v</tspan><tspan font-size="9.5" dy="2.5">17</tspan><tspan dy="-2.5">|</tspan></text>
<defs><linearGradient id="lg2" x1="0" y1="0" x2="0" y2="1"><stop offset="0.000" stop-color="#db2122"/><stop offset="0.083" stop-color="#e3542b"/><stop offset="0.167" stop-color="#e58334"/><stop offset="0.250" stop-color="#dea63b"/><stop offset="0.333" stop-color="#cab843"/><stop offset="0.417" stop-color="#aabd54"/><stop offset="0.500" stop-color="#83ba70"/><stop offset="0.583" stop-color="#63ad96"/><stop offset="0.667" stop-color="#4e99b5"/><stop offset="0.750" stop-color="#447acd"/><stop offset="0.833" stop-color="#464fcb"/><stop offset="0.917" stop-color="#5825ab"/><stop offset="1.000" stop-color="#781c86"/></linearGradient></defs><rect x="399.2" y="74.6" width="4.8" height="42.9" fill="url(#lg2)"/>
<text transform="translate(406.90,78.90) rotate(0.3) scale(0.95,1)" class="b" font-size="10.00" text-anchor="start" >0.366</text>
<text transform="translate(406.90,87.52) rotate(0.3) scale(0.95,1)" class="b" font-size="10.00" text-anchor="start" >0.365</text>
<text transform="translate(406.90,96.14) rotate(0.3) scale(0.95,1)" class="b" font-size="10.00" text-anchor="start" >0.364</text>
<text transform="translate(406.90,104.76) rotate(0.3) scale(0.95,1)" class="b" font-size="10.00" text-anchor="start" >0.363</text>
<text transform="translate(406.90,113.38) rotate(0.3) scale(0.95,1)" class="b" font-size="10.00" text-anchor="start" >0.362</text>
</g>
<g id="pct">
<defs><clipPath id="cpc"><rect x="535.8" y="4.0" width="106.3" height="106.5"/></clipPath></defs>
<g clip-path="url(#cpc)" stroke="#333" stroke-opacity="0.7" stroke-width="0.45">
<rect x="534.8" y="3.0" width="108.3" height="108.5" fill="#7db87a" stroke="none"/>
<path fill="#bcbf4f" d="M530,0 L581.2,0 L581.1,30 L580.8,47 C580.6,52 579.6,54.5 578.8,59.7 C577,65 575.5,67 574.7,69.2 C573,75 572.3,78 571.6,81.1 C570,88 568.6,95 568.2,97.3 L567,112 L530,112 Z"/>
<path fill="#eca03c" d="M534.6,0 C535.2,10 536.3,18 537.7,23.9 C538.5,32 539.5,38 541.3,43 C543,48 544.8,51 547.3,53 C550,55.5 553,57.3 556.8,57.3 C560.5,57.5 564,57 566.4,55.4 C569.5,53.5 572,51 573.5,47.7 C575.5,43 576.2,38 576.4,33.4 C576.6,26 576.5,20 576.4,14.3 L575.9,0 Z"/>
<path fill="#dc2323" d="M544.2,0 C545,6 546,10 547.3,14.3 C548.5,18.5 550,23 552,26.3 C554,30 556.5,34.6 559.2,34.6 C562,34.6 564.5,30.5 566.4,26.3 C568.3,22 569.8,18 570.7,14.3 C571.5,10 572,6 572.4,0 Z"/>
<path fill="#4d99bd" d="M583.6,0 L584.2,20 C584.8,35 585.6,44 586.1,49.5 C586.2,53 585.8,55 585.4,56.7 C585,61 584.3,64 583.7,66.3 C582.8,72 582,76 581.3,80.6 C580.3,87 579.3,93 578.9,97.3 L577.7,112 L589.7,112 L590.9,97.3 C591.2,91 591.1,86 590.9,80.6 C590.7,75 590.3,70 589.7,66.3 C589.2,62 588.6,60 588.2,57.9 C588.3,55 589.5,52.5 590.9,49.5 C593,42 594.5,32 595.5,20 L597,0 Z"/>
<path fill="#3c50d2" d="M585,0 L585.6,15 C586.2,30 587,42 587.6,50 L588.3,55.5 L589,50 C589.8,40 590.5,28 591,15 L591.4,0 Z"/>
<path fill="#7a1e8c" d="M587.4,0 L587.8,10 L588.3,20.5 L588.9,10 L589.3,0 Z"/>
<path d="M550.3,69.8 L550.2,72.2" stroke="#4a3a1a" stroke-opacity="0.9" stroke-width="0.7" fill="none"/>
<path d="M542.4,101.2 L542.5,103.8" stroke="#6a3a1a" stroke-opacity="0.9" stroke-width="0.7" fill="none"/>
</g>
<rect x="533.7" y="1.8" width="110.6" height="110.6" fill="none" stroke="#cccccc" stroke-width="0.5"/>
<path d="M535.8,112.4v-2.0 M535.8,1.8v2.0 M533.7,110.5h2.0 M644.3,110.5h-2.0" stroke="#8a8a8a" stroke-width="0.4" fill="none"/>
<path d="M541.1,112.4v-1.1 M541.1,1.8v1.1 M533.7,105.1h1.1 M644.3,105.1h-1.1" stroke="#8a8a8a" stroke-width="0.4" fill="none"/>
<path d="M546.4,112.4v-1.1 M546.4,1.8v1.1 M533.7,99.8h1.1 M644.3,99.8h-1.1" stroke="#8a8a8a" stroke-width="0.4" fill="none"/>
<path d="M551.7,112.4v-1.1 M551.7,1.8v1.1 M533.7,94.5h1.1 M644.3,94.5h-1.1" stroke="#8a8a8a" stroke-width="0.4" fill="none"/>
<path d="M557.1,112.4v-1.1 M557.1,1.8v1.1 M533.7,89.2h1.1 M644.3,89.2h-1.1" stroke="#8a8a8a" stroke-width="0.4" fill="none"/>
<path d="M562.4,112.4v-2.0 M562.4,1.8v2.0 M533.7,83.9h2.0 M644.3,83.9h-2.0" stroke="#8a8a8a" stroke-width="0.4" fill="none"/>
<path d="M567.7,112.4v-1.1 M567.7,1.8v1.1 M533.7,78.5h1.1 M644.3,78.5h-1.1" stroke="#8a8a8a" stroke-width="0.4" fill="none"/>
<path d="M573.0,112.4v-1.1 M573.0,1.8v1.1 M533.7,73.2h1.1 M644.3,73.2h-1.1" stroke="#8a8a8a" stroke-width="0.4" fill="none"/>
<path d="M578.3,112.4v-1.1 M578.3,1.8v1.1 M533.7,67.9h1.1 M644.3,67.9h-1.1" stroke="#8a8a8a" stroke-width="0.4" fill="none"/>
<path d="M583.6,112.4v-1.1 M583.6,1.8v1.1 M533.7,62.6h1.1 M644.3,62.6h-1.1" stroke="#8a8a8a" stroke-width="0.4" fill="none"/>
<path d="M589.0,112.4v-2.0 M589.0,1.8v2.0 M533.7,57.3h2.0 M644.3,57.3h-2.0" stroke="#8a8a8a" stroke-width="0.4" fill="none"/>
<path d="M594.3,112.4v-1.1 M594.3,1.8v1.1 M533.7,51.9h1.1 M644.3,51.9h-1.1" stroke="#8a8a8a" stroke-width="0.4" fill="none"/>
<path d="M599.6,112.4v-1.1 M599.6,1.8v1.1 M533.7,46.6h1.1 M644.3,46.6h-1.1" stroke="#8a8a8a" stroke-width="0.4" fill="none"/>
<path d="M604.9,112.4v-1.1 M604.9,1.8v1.1 M533.7,41.3h1.1 M644.3,41.3h-1.1" stroke="#8a8a8a" stroke-width="0.4" fill="none"/>
<path d="M610.2,112.4v-1.1 M610.2,1.8v1.1 M533.7,36.0h1.1 M644.3,36.0h-1.1" stroke="#8a8a8a" stroke-width="0.4" fill="none"/>
<path d="M615.5,112.4v-2.0 M615.5,1.8v2.0 M533.7,30.7h2.0 M644.3,30.7h-2.0" stroke="#8a8a8a" stroke-width="0.4" fill="none"/>
<path d="M620.8,112.4v-1.1 M620.8,1.8v1.1 M533.7,25.3h1.1 M644.3,25.3h-1.1" stroke="#8a8a8a" stroke-width="0.4" fill="none"/>
<path d="M626.2,112.4v-1.1 M626.2,1.8v1.1 M533.7,20.0h1.1 M644.3,20.0h-1.1" stroke="#8a8a8a" stroke-width="0.4" fill="none"/>
<path d="M631.5,112.4v-1.1 M631.5,1.8v1.1 M533.7,14.7h1.1 M644.3,14.7h-1.1" stroke="#8a8a8a" stroke-width="0.4" fill="none"/>
<path d="M636.8,112.4v-1.1 M636.8,1.8v1.1 M533.7,9.4h1.1 M644.3,9.4h-1.1" stroke="#8a8a8a" stroke-width="0.4" fill="none"/>
<path d="M642.1,112.4v-2.0 M642.1,1.8v2.0 M533.7,4.1h2.0 M644.3,4.1h-2.0" stroke="#8a8a8a" stroke-width="0.4" fill="none"/>
<text transform="translate(534.49,123.14) rotate(0.3) scale(0.96,1)" class="b" font-size="9.60" text-anchor="middle" >−2</text>
<text transform="translate(532.60,114.09) rotate(0.3) scale(0.96,1)" class="b" font-size="9.60" text-anchor="end" >−2</text>
<text transform="translate(561.07,123.14) rotate(0.3) scale(0.96,1)" class="b" font-size="9.60" text-anchor="middle" >−1</text>
<text transform="translate(532.60,87.49) rotate(0.3) scale(0.96,1)" class="b" font-size="9.60" text-anchor="end" >−1</text>
<text transform="translate(588.95,123.14) rotate(0.3) scale(0.96,1)" class="b" font-size="9.60" text-anchor="middle" >0</text>
<text transform="translate(532.60,60.89) rotate(0.3) scale(0.96,1)" class="b" font-size="9.60" text-anchor="end" >0</text>
<text transform="translate(615.53,123.14) rotate(0.3) scale(0.96,1)" class="b" font-size="9.60" text-anchor="middle" >1</text>
<text transform="translate(532.60,34.29) rotate(0.3) scale(0.96,1)" class="b" font-size="9.60" text-anchor="end" >1</text>
<text transform="translate(642.11,123.14) rotate(0.3) scale(0.96,1)" class="b" font-size="9.60" text-anchor="middle" >2</text>
<text transform="translate(532.60,7.69) rotate(0.3) scale(0.96,1)" class="b" font-size="9.60" text-anchor="end" >2</text>
<text transform="translate(589.10,139.40) rotate(0.3) scale(1.0,1)" class="b" font-size="12.60" text-anchor="middle" >x</text>
<text transform="translate(515.2,57.3) rotate(-90.3)" class="b" font-size="15" text-anchor="middle">t</text>
<rect x="650.4" y="28.30" width="5.6" height="11.31" fill="#dc2323"/>
<rect x="650.4" y="39.56" width="5.6" height="11.31" fill="#eca03c"/>
<rect x="650.4" y="50.82" width="5.6" height="11.31" fill="#bcbf4f"/>
<rect x="650.4" y="62.08" width="5.6" height="11.31" fill="#7db87a"/>
<rect x="650.4" y="73.34" width="5.6" height="11.31" fill="#4d99bd"/>
<rect x="650.4" y="84.60" width="5.6" height="11.31" fill="#3c50d2"/>
<rect x="650.4" y="95.86" width="5.6" height="11.31" fill="#7a1e8c"/>
<line x1="650.4" y1="39.56" x2="658.0" y2="39.56" stroke="#777" stroke-width="0.4"/>
<text transform="translate(658.90,43.09) rotate(0.3) scale(0.9,1)" class="b" font-size="10.51" text-anchor="start" >0.366</text>
<line x1="650.4" y1="50.82" x2="658.0" y2="50.82" stroke="#777" stroke-width="0.4"/>
<text transform="translate(658.90,54.35) rotate(0.3) scale(0.9,1)" class="b" font-size="10.51" text-anchor="start" >0.365</text>
<line x1="650.4" y1="62.08" x2="658.0" y2="62.08" stroke="#777" stroke-width="0.4"/>
<text transform="translate(658.90,65.61) rotate(0.3) scale(0.9,1)" class="b" font-size="10.51" text-anchor="start" >0.364</text>
<line x1="650.4" y1="73.34" x2="658.0" y2="73.34" stroke="#777" stroke-width="0.4"/>
<text transform="translate(658.90,76.87) rotate(0.3) scale(0.9,1)" class="b" font-size="10.51" text-anchor="start" >0.363</text>
<line x1="650.4" y1="84.60" x2="658.0" y2="84.60" stroke="#777" stroke-width="0.4"/>
<text transform="translate(658.90,88.13) rotate(0.3) scale(0.9,1)" class="b" font-size="10.51" text-anchor="start" >0.362</text>
<line x1="650.4" y1="95.86" x2="658.0" y2="95.86" stroke="#777" stroke-width="0.4"/>
<text transform="translate(658.90,99.39) rotate(0.3) scale(0.9,1)" class="b" font-size="10.51" text-anchor="start" >0.361</text>
</g>
<g id="pdn">
<defs><clipPath id="cpd"><rect x="173.3" y="214.9" width="106.8" height="106.4"/></clipPath><filter id="bl" x="-5%" y="-5%" width="110%" height="110%"><feGaussianBlur stdDeviation="1.0 1.6"/></filter></defs>
<g clip-path="url(#cpd)"><g filter="url(#bl)">
<defs><linearGradient id="d0" gradientUnits="userSpaceOnUse" x1="170.2" y1="0" x2="284.1" y2="0"><stop offset="0.035" stop-color="#d1b740"/><stop offset="0.093" stop-color="#e59737"/><stop offset="0.151" stop-color="#e2532b"/><stop offset="0.209" stop-color="#db2122"/><stop offset="0.267" stop-color="#db2623"/><stop offset="0.326" stop-color="#e3572c"/><stop offset="0.360" stop-color="#e69637"/><stop offset="0.384" stop-color="#daae3c"/><stop offset="0.407" stop-color="#bfbb48"/><stop offset="0.430" stop-color="#98bc60"/><stop offset="0.442" stop-color="#7eb876"/><stop offset="0.453" stop-color="#5eaa9c"/><stop offset="0.472" stop-color="#426dd3"/><stop offset="0.486" stop-color="#711e8f"/><stop offset="0.493" stop-color="#781c86"/><stop offset="0.500" stop-color="#781c86"/><stop offset="0.507" stop-color="#761c88"/><stop offset="0.514" stop-color="#6a2097"/><stop offset="0.528" stop-color="#4066d6"/><stop offset="0.547" stop-color="#4d97b8"/><stop offset="0.558" stop-color="#57a3a7"/><stop offset="0.570" stop-color="#5daa9d"/><stop offset="0.593" stop-color="#6bb08c"/><stop offset="0.616" stop-color="#72b385"/><stop offset="0.640" stop-color="#76b580"/><stop offset="0.674" stop-color="#79b67d"/><stop offset="0.733" stop-color="#7bb77a"/><stop offset="0.791" stop-color="#7cb778"/><stop offset="0.849" stop-color="#7db877"/><stop offset="0.907" stop-color="#7eb876"/><stop offset="0.965" stop-color="#7eb876"/></linearGradient><linearGradient id="d1" gradientUnits="userSpaceOnUse" x1="170.2" y1="0" x2="284.1" y2="0"><stop offset="0.035" stop-color="#d1b740"/><stop offset="0.093" stop-color="#e59737"/><stop offset="0.151" stop-color="#e2532b"/><stop offset="0.209" stop-color="#db2122"/><stop offset="0.267" stop-color="#db2623"/><stop offset="0.326" stop-color="#e3572c"/><stop offset="0.360" stop-color="#e69637"/><stop offset="0.384" stop-color="#daae3c"/><stop offset="0.407" stop-color="#bfbb48"/><stop offset="0.430" stop-color="#98bc60"/><stop offset="0.442" stop-color="#7eb876"/><stop offset="0.453" stop-color="#5eaa9c"/><stop offset="0.472" stop-color="#426dd3"/><stop offset="0.486" stop-color="#711e8f"/><stop offset="0.493" stop-color="#781c86"/><stop offset="0.500" stop-color="#781c86"/><stop offset="0.507" stop-color="#761c88"/><stop offset="0.514" stop-color="#6a2097"/><stop offset="0.528" stop-color="#4066d6"/><stop offset="0.547" stop-color="#4d97b8"/><stop offset="0.558" stop-color="#57a3a7"/><stop offset="0.570" stop-color="#5daa9d"/><stop offset="0.593" stop-color="#6bb08c"/><stop offset="0.616" stop-color="#72b385"/><stop offset="0.640" stop-color="#76b580"/><stop offset="0.674" stop-color="#79b67d"/><stop offset="0.733" stop-color="#7bb77a"/><stop offset="0.791" stop-color="#7cb778"/><stop offset="0.849" stop-color="#7db877"/><stop offset="0.907" stop-color="#7eb876"/><stop offset="0.965" stop-color="#7eb876"/></linearGradient><linearGradient id="d2" gradientUnits="userSpaceOnUse" x1="170.2" y1="0" x2="284.1" y2="0"><stop offset="0.035" stop-color="#d1b741"/><stop offset="0.093" stop-color="#e59837"/><stop offset="0.151" stop-color="#e3542b"/><stop offset="0.209" stop-color="#db2122"/><stop offset="0.267" stop-color="#dc2723"/><stop offset="0.326" stop-color="#e3592c"/><stop offset="0.360" stop-color="#e69637"/><stop offset="0.384" stop-color="#daae3d"/><stop offset="0.407" stop-color="#bfbb48"/><stop offset="0.430" stop-color="#98bc61"/><stop offset="0.442" stop-color="#7eb876"/><stop offset="0.453" stop-color="#5eaa9c"/><stop offset="0.472" stop-color="#426ed2"/><stop offset="0.486" stop-color="#701e90"/><stop offset="0.493" stop-color="#781c86"/><stop offset="0.500" stop-color="#781c86"/><stop offset="0.507" stop-color="#751d89"/><stop offset="0.514" stop-color="#692098"/><stop offset="0.528" stop-color="#4166d6"/><stop offset="0.547" stop-color="#4d97b8"/><stop offset="0.558" stop-color="#57a3a7"/><stop offset="0.570" stop-color="#5daa9d"/><stop offset="0.593" stop-color="#6bb08c"/><stop offset="0.616" stop-color="#72b385"/><stop offset="0.640" stop-color="#76b580"/><stop offset="0.674" stop-color="#79b67d"/><stop offset="0.733" stop-color="#7bb77a"/><stop offset="0.791" stop-color="#7cb778"/><stop offset="0.849" stop-color="#7db877"/><stop offset="0.907" stop-color="#7eb876"/><stop offset="0.965" stop-color="#7eb876"/></linearGradient><linearGradient id="d3" gradientUnits="userSpaceOnUse" x1="170.2" y1="0" x2="284.1" y2="0"><stop offset="0.035" stop-color="#d0b741"/><stop offset="0.093" stop-color="#e59937"/><stop offset="0.151" stop-color="#e3562c"/><stop offset="0.209" stop-color="#db2122"/><stop offset="0.267" stop-color="#dc2a23"/><stop offset="0.326" stop-color="#e45c2d"/><stop offset="0.360" stop-color="#e59837"/><stop offset="0.384" stop-color="#d9af3d"/><stop offset="0.407" stop-color="#bebb49"/><stop offset="0.430" stop-color="#98bc61"/><stop offset="0.442" stop-color="#7eb876"/><stop offset="0.453" stop-color="#5eab9b"/><stop offset="0.472" stop-color="#426fd2"/><stop offset="0.486" stop-color="#6e1f92"/><stop offset="0.493" stop-color="#781c86"/><stop offset="0.500" stop-color="#761c88"/><stop offset="0.507" stop-color="#731d8c"/><stop offset="0.514" stop-color="#67209a"/><stop offset="0.528" stop-color="#4167d6"/><stop offset="0.547" stop-color="#4d97b8"/><stop offset="0.558" stop-color="#57a3a7"/><stop offset="0.570" stop-color="#5daa9d"/><stop offset="0.593" stop-color="#6bb08c"/><stop offset="0.616" stop-color="#72b385"/><stop offset="0.640" stop-color="#76b580"/><stop offset="0.674" stop-color="#79b67d"/><stop offset="0.733" stop-color="#7bb77a"/><stop offset="0.791" stop-color="#7cb778"/><stop offset="0.849" stop-color="#7db877"/><stop offset="0.907" stop-color="#7eb876"/><stop offset="0.965" stop-color="#7eb876"/></linearGradient><linearGradient id="d4" gradientUnits="userSpaceOnUse" x1="170.2" y1="0" x2="284.1" y2="0"><stop offset="0.035" stop-color="#d0b741"/><stop offset="0.093" stop-color="#e49a38"/><stop offset="0.151" stop-color="#e3582c"/><stop offset="0.209" stop-color="#db2122"/><stop offset="0.267" stop-color="#dc2d24"/><stop offset="0.326" stop-color="#e45f2d"/><stop offset="0.360" stop-color="#e59937"/><stop offset="0.384" stop-color="#d9b03d"/><stop offset="0.407" stop-color="#bdbb49"/><stop offset="0.430" stop-color="#98bc61"/><stop offset="0.442" stop-color="#7eb876"/><stop offset="0.453" stop-color="#5fab9b"/><stop offset="0.472" stop-color="#426fd2"/><stop offset="0.486" stop-color="#6c1f94"/><stop offset="0.493" stop-color="#761c89"/><stop offset="0.500" stop-color="#741d8b"/><stop offset="0.507" stop-color="#711e8e"/><stop offset="0.514" stop-color="#65219c"/><stop offset="0.528" stop-color="#4168d5"/><stop offset="0.547" stop-color="#4d97b8"/><stop offset="0.558" stop-color="#57a3a7"/><stop offset="0.570" stop-color="#5daa9d"/><stop offset="0.593" stop-color="#6bb08c"/><stop offset="0.616" stop-color="#72b385"/><stop offset="0.640" stop-color="#76b580"/><stop offset="0.674" stop-color="#79b67d"/><stop offset="0.733" stop-color="#7bb77a"/><stop offset="0.791" stop-color="#7cb778"/><stop offset="0.849" stop-color="#7db877"/><stop offset="0.907" stop-color="#7eb876"/><stop offset="0.965" stop-color="#7eb876"/></linearGradient><linearGradient id="d5" gradientUnits="userSpaceOnUse" x1="170.2" y1="0" x2="284.1" y2="0"><stop offset="0.035" stop-color="#cfb741"/><stop offset="0.093" stop-color="#e39b38"/><stop offset="0.151" stop-color="#e45b2d"/><stop offset="0.209" stop-color="#db2122"/><stop offset="0.267" stop-color="#dd3024"/><stop offset="0.326" stop-color="#e4622e"/><stop offset="0.360" stop-color="#e49a38"/><stop offset="0.384" stop-color="#d9b13d"/><stop offset="0.407" stop-color="#bdbb49"/><stop offset="0.430" stop-color="#97bc61"/><stop offset="0.442" stop-color="#7eb876"/><stop offset="0.453" stop-color="#5fab9b"/><stop offset="0.472" stop-color="#4270d1"/><stop offset="0.486" stop-color="#6a2096"/><stop offset="0.493" stop-color="#741d8b"/><stop offset="0.500" stop-color="#721d8d"/><stop offset="0.507" stop-color="#6f1e91"/><stop offset="0.514" stop-color="#63229e"/><stop offset="0.528" stop-color="#4169d5"/><stop offset="0.547" stop-color="#4d97b8"/><stop offset="0.558" stop-color="#57a3a7"/><stop offset="0.570" stop-color="#5daa9d"/><stop offset="0.593" stop-color="#6bb08c"/><stop offset="0.616" stop-color="#72b385"/><stop offset="0.640" stop-color="#76b580"/><stop offset="0.674" stop-color="#79b67d"/><stop offset="0.733" stop-color="#7bb77a"/><stop offset="0.791" stop-color="#7cb778"/><stop offset="0.849" stop-color="#7db877"/><stop offset="0.907" stop-color="#7eb876"/><stop offset="0.965" stop-color="#7eb876"/></linearGradient><linearGradient id="d6" gradientUnits="userSpaceOnUse" x1="170.2" y1="0" x2="284.1" y2="0"><stop offset="0.035" stop-color="#ceb742"/><stop offset="0.093" stop-color="#e39c38"/><stop offset="0.151" stop-color="#e45d2d"/><stop offset="0.209" stop-color="#db2422"/><stop offset="0.267" stop-color="#dd3225"/><stop offset="0.326" stop-color="#e4652e"/><stop offset="0.360" stop-color="#e39b38"/><stop offset="0.384" stop-color="#d8b23d"/><stop offset="0.407" stop-color="#bcbc4a"/><stop offset="0.430" stop-color="#97bc62"/><stop offset="0.442" stop-color="#7eb876"/><stop offset="0.453" stop-color="#5fab9b"/><stop offset="0.472" stop-color="#4271d1"/><stop offset="0.486" stop-color="#682099"/><stop offset="0.493" stop-color="#721e8e"/><stop offset="0.500" stop-color="#701e90"/><stop offset="0.507" stop-color="#6d1f93"/><stop offset="0.514" stop-color="#6122a1"/><stop offset="0.528" stop-color="#416ad5"/><stop offset="0.547" stop-color="#4d97b7"/><stop offset="0.558" stop-color="#57a3a7"/><stop offset="0.570" stop-color="#5daa9d"/><stop offset="0.593" stop-color="#6bb08c"/><stop offset="0.616" stop-color="#72b385"/><stop offset="0.640" stop-color="#76b580"/><stop offset="0.674" stop-color="#79b67d"/><stop offset="0.733" stop-color="#7bb77a"/><stop offset="0.791" stop-color="#7cb778"/><stop offset="0.849" stop-color="#7db877"/><stop offset="0.907" stop-color="#7eb876"/><stop offset="0.965" stop-color="#7eb876"/></linearGradient><linearGradient id="d7" gradientUnits="userSpaceOnUse" x1="170.2" y1="0" x2="284.1" y2="0"><stop offset="0.035" stop-color="#ceb742"/><stop offset="0.093" stop-color="#e29d38"/><stop offset="0.151" stop-color="#e4602d"/><stop offset="0.209" stop-color="#db2623"/><stop offset="0.267" stop-color="#de3525"/><stop offset="0.326" stop-color="#e5682f"/><stop offset="0.360" stop-color="#e39c38"/><stop offset="0.384" stop-color="#d8b33e"/><stop offset="0.407" stop-color="#bbbc4a"/><stop offset="0.430" stop-color="#97bc62"/><stop offset="0.442" stop-color="#7eb876"/><stop offset="0.453" stop-color="#5fab9a"/><stop offset="0.472" stop-color="#4272d0"/><stop offset="0.486" stop-color="#66219b"/><stop offset="0.493" stop-color="#6f1e90"/><stop offset="0.500" stop-color="#6e1f92"/><stop offset="0.507" stop-color="#6b1f96"/><stop offset="0.514" stop-color="#5f23a3"/><stop offset="0.528" stop-color="#416bd4"/><stop offset="0.547" stop-color="#4d97b7"/><stop offset="0.558" stop-color="#57a3a7"/><stop offset="0.570" stop-color="#5daa9d"/><stop offset="0.593" stop-color="#6bb08c"/><stop offset="0.616" stop-color="#72b385"/><stop offset="0.640" stop-color="#76b580"/><stop offset="0.674" stop-color="#79b67d"/><stop offset="0.733" stop-color="#7bb77a"/><stop offset="0.791" stop-color="#7cb778"/><stop offset="0.849" stop-color="#7db877"/><stop offset="0.907" stop-color="#7eb876"/><stop offset="0.965" stop-color="#7eb876"/></linearGradient><linearGradient id="d8" gradientUnits="userSpaceOnUse" x1="170.2" y1="0" x2="284.1" y2="0"><stop offset="0.035" stop-color="#cdb842"/><stop offset="0.093" stop-color="#e29e39"/><stop offset="0.151" stop-color="#e4622e"/><stop offset="0.209" stop-color="#dc2823"/><stop offset="0.267" stop-color="#de3826"/><stop offset="0.326" stop-color="#e56c30"/><stop offset="0.360" stop-color="#e29d38"/><stop offset="0.384" stop-color="#d7b43e"/><stop offset="0.407" stop-color="#babc4a"/><stop offset="0.430" stop-color="#96bc62"/><stop offset="0.442" stop-color="#7eb876"/><stop offset="0.453" stop-color="#60ab9a"/><stop offset="0.472" stop-color="#4373d0"/><stop offset="0.486" stop-color="#64219d"/><stop offset="0.493" stop-color="#6d1f93"/><stop offset="0.500" stop-color="#6c1f95"/><stop offset="0.507" stop-color="#682098"/><stop offset="0.514" stop-color="#5d23a5"/><stop offset="0.528" stop-color="#416bd4"/><stop offset="0.547" stop-color="#4d97b7"/><stop offset="0.558" stop-color="#57a3a7"/><stop offset="0.570" stop-color="#5daa9d"/><stop offset="0.593" stop-color="#6bb08c"/><stop offset="0.616" stop-color="#72b385"/><stop offset="0.640" stop-color="#76b580"/><stop offset="0.674" stop-color="#79b67d"/><stop offset="0.733" stop-color="#7bb77a"/><stop offset="0.791" stop-color="#7cb778"/><stop offset="0.849" stop-color="#7db877"/><stop offset="0.907" stop-color="#7eb876"/><stop offset="0.965" stop-color="#7eb876"/></linearGradient><linearGradient id="d9" gradientUnits="userSpaceOnUse" x1="170.2" y1="0" x2="284.1" y2="0"><stop offset="0.035" stop-color="#ccb843"/><stop offset="0.093" stop-color="#e1a039"/><stop offset="0.151" stop-color="#e4642e"/><stop offset="0.209" stop-color="#dc2a23"/><stop offset="0.267" stop-color="#df3a26"/><stop offset="0.326" stop-color="#e56f30"/><stop offset="0.360" stop-color="#e29f39"/><stop offset="0.384" stop-color="#d7b53e"/><stop offset="0.407" stop-color="#babc4a"/><stop offset="0.430" stop-color="#96bc62"/><stop offset="0.442" stop-color="#7eb876"/><stop offset="0.453" stop-color="#60ab9a"/><stop offset="0.472" stop-color="#4374cf"/><stop offset="0.486" stop-color="#62229f"/><stop offset="0.493" stop-color="#6b1f95"/><stop offset="0.500" stop-color="#6a2097"/><stop offset="0.507" stop-color="#66219b"/><stop offset="0.514" stop-color="#5b24a7"/><stop offset="0.528" stop-color="#416cd3"/><stop offset="0.547" stop-color="#4d97b7"/><stop offset="0.558" stop-color="#57a3a7"/><stop offset="0.570" stop-color="#5daa9d"/><stop offset="0.593" stop-color="#6bb08c"/><stop offset="0.616" stop-color="#72b385"/><stop offset="0.640" stop-color="#76b580"/><stop offset="0.674" stop-color="#79b67d"/><stop offset="0.733" stop-color="#7bb77a"/><stop offset="0.791" stop-color="#7cb778"/><stop offset="0.849" stop-color="#7db877"/><stop offset="0.907" stop-color="#7eb876"/><stop offset="0.965" stop-color="#7eb876"/></linearGradient><linearGradient id="d10" gradientUnits="userSpaceOnUse" x1="170.2" y1="0" x2="284.1" y2="0"><stop offset="0.035" stop-color="#cbb843"/><stop offset="0.093" stop-color="#e1a139"/><stop offset="0.151" stop-color="#e4662f"/><stop offset="0.209" stop-color="#dc2d24"/><stop offset="0.267" stop-color="#df3d27"/><stop offset="0.326" stop-color="#e57231"/><stop offset="0.360" stop-color="#e1a039"/><stop offset="0.384" stop-color="#d6b53e"/><stop offset="0.407" stop-color="#b9bc4b"/><stop offset="0.430" stop-color="#96bc62"/><stop offset="0.442" stop-color="#7eb876"/><stop offset="0.453" stop-color="#60ab9a"/><stop offset="0.472" stop-color="#4374cf"/><stop offset="0.486" stop-color="#6022a2"/><stop offset="0.493" stop-color="#692098"/><stop offset="0.500" stop-color="#67209a"/><stop offset="0.507" stop-color="#64219d"/><stop offset="0.514" stop-color="#5924aa"/><stop offset="0.528" stop-color="#426dd3"/><stop offset="0.547" stop-color="#4d97b7"/><stop offset="0.558" stop-color="#57a3a7"/><stop offset="0.570" stop-color="#5daa9d"/><stop offset="0.593" stop-color="#6bb08c"/><stop offset="0.616" stop-color="#72b385"/><stop offset="0.640" stop-color="#76b580"/><stop offset="0.674" stop-color="#79b67d"/><stop offset="0.733" stop-color="#7bb77a"/><stop offset="0.791" stop-color="#7cb778"/><stop offset="0.849" stop-color="#7db877"/><stop offset="0.907" stop-color="#7eb876"/><stop offset="0.965" stop-color="#7eb876"/></linearGradient><linearGradient id="d11" gradientUnits="userSpaceOnUse" x1="170.2" y1="0" x2="284.1" y2="0"><stop offset="0.035" stop-color="#cab844"/><stop offset="0.093" stop-color="#e0a33a"/><stop offset="0.151" stop-color="#e56d30"/><stop offset="0.209" stop-color="#de3625"/><stop offset="0.267" stop-color="#e04629"/><stop offset="0.326" stop-color="#e57932"/><stop offset="0.360" stop-color="#e0a23a"/><stop offset="0.384" stop-color="#d4b63f"/><stop offset="0.407" stop-color="#b8bd4b"/><stop offset="0.430" stop-color="#95bc63"/><stop offset="0.442" stop-color="#7eb876"/><stop offset="0.453" stop-color="#60ab9a"/><stop offset="0.472" stop-color="#4376ce"/><stop offset="0.486" stop-color="#5d23a6"/><stop offset="0.493" stop-color="#65219c"/><stop offset="0.500" stop-color="#64219e"/><stop offset="0.507" stop-color="#6022a2"/><stop offset="0.514" stop-color="#5625ae"/><stop offset="0.528" stop-color="#426fd2"/><stop offset="0.547" stop-color="#4e98b6"/><stop offset="0.558" stop-color="#57a3a7"/><stop offset="0.570" stop-color="#5eaa9c"/><stop offset="0.593" stop-color="#6bb08c"/><stop offset="0.616" stop-color="#72b385"/><stop offset="0.640" stop-color="#76b580"/><stop offset="0.674" stop-color="#79b67d"/><stop offset="0.733" stop-color="#7bb77a"/><stop offset="0.791" stop-color="#7cb778"/><stop offset="0.849" stop-color="#7db877"/><stop offset="0.907" stop-color="#7eb876"/><stop offset="0.965" stop-color="#7eb876"/></linearGradient><linearGradient id="d12" gradientUnits="userSpaceOnUse" x1="170.2" y1="0" x2="284.1" y2="0"><stop offset="0.035" stop-color="#c8b944"/><stop offset="0.093" stop-color="#dea53a"/><stop offset="0.151" stop-color="#e57631"/><stop offset="0.209" stop-color="#e04328"/><stop offset="0.267" stop-color="#e2522b"/><stop offset="0.326" stop-color="#e58233"/><stop offset="0.360" stop-color="#dfa53a"/><stop offset="0.384" stop-color="#d2b640"/><stop offset="0.407" stop-color="#b6bd4c"/><stop offset="0.430" stop-color="#93bb64"/><stop offset="0.442" stop-color="#7db778"/><stop offset="0.453" stop-color="#60ab9a"/><stop offset="0.472" stop-color="#4378cd"/><stop offset="0.486" stop-color="#5824ab"/><stop offset="0.493" stop-color="#6022a1"/><stop offset="0.500" stop-color="#5f23a3"/><stop offset="0.507" stop-color="#5c24a7"/><stop offset="0.514" stop-color="#5127b3"/><stop offset="0.528" stop-color="#4373d0"/><stop offset="0.547" stop-color="#4f99b5"/><stop offset="0.558" stop-color="#58a4a6"/><stop offset="0.570" stop-color="#5eaa9c"/><stop offset="0.593" stop-color="#6bb08c"/><stop offset="0.616" stop-color="#72b385"/><stop offset="0.640" stop-color="#76b580"/><stop offset="0.674" stop-color="#79b67d"/><stop offset="0.733" stop-color="#7bb77a"/><stop offset="0.791" stop-color="#7cb778"/><stop offset="0.849" stop-color="#7db877"/><stop offset="0.907" stop-color="#7eb876"/><stop offset="0.965" stop-color="#7eb876"/></linearGradient><linearGradient id="d13" gradientUnits="userSpaceOnUse" x1="170.2" y1="0" x2="284.1" y2="0"><stop offset="0.035" stop-color="#c6b945"/><stop offset="0.093" stop-color="#dda83b"/><stop offset="0.151" stop-color="#e57f33"/><stop offset="0.209" stop-color="#e2502b"/><stop offset="0.267" stop-color="#e45f2d"/><stop offset="0.326" stop-color="#e58b35"/><stop offset="0.360" stop-color="#dda83b"/><stop offset="0.384" stop-color="#cfb741"/><stop offset="0.407" stop-color="#b4bd4d"/><stop offset="0.430" stop-color="#91bb66"/><stop offset="0.442" stop-color="#7cb779"/><stop offset="0.453" stop-color="#60ab9a"/><stop offset="0.472" stop-color="#447bcc"/><stop offset="0.486" stop-color="#5426b0"/><stop offset="0.493" stop-color="#5c24a7"/><stop offset="0.500" stop-color="#5a24a9"/><stop offset="0.507" stop-color="#5725ad"/><stop offset="0.514" stop-color="#4f2eb7"/><stop offset="0.528" stop-color="#4376ce"/><stop offset="0.547" stop-color="#509ab3"/><stop offset="0.558" stop-color="#58a4a5"/><stop offset="0.570" stop-color="#5fab9b"/><stop offset="0.593" stop-color="#6bb08c"/><stop offset="0.616" stop-color="#72b385"/><stop offset="0.640" stop-color="#76b480"/><stop offset="0.674" stop-color="#79b67d"/><stop offset="0.733" stop-color="#7bb77a"/><stop offset="0.791" stop-color="#7cb778"/><stop offset="0.849" stop-color="#7db877"/><stop offset="0.907" stop-color="#7eb876"/><stop offset="0.965" stop-color="#7eb876"/></linearGradient><linearGradient id="d14" gradientUnits="userSpaceOnUse" x1="170.2" y1="0" x2="284.1" y2="0"><stop offset="0.035" stop-color="#c5ba46"/><stop offset="0.093" stop-color="#dcab3c"/><stop offset="0.151" stop-color="#e58834"/><stop offset="0.209" stop-color="#e45e2d"/><stop offset="0.267" stop-color="#e56b2f"/><stop offset="0.326" stop-color="#e69436"/><stop offset="0.360" stop-color="#dbab3c"/><stop offset="0.384" stop-color="#ccb843"/><stop offset="0.407" stop-color="#b2be4e"/><stop offset="0.430" stop-color="#90bb67"/><stop offset="0.442" stop-color="#7bb77a"/><stop offset="0.453" stop-color="#60ab9a"/><stop offset="0.472" stop-color="#447dcb"/><stop offset="0.486" stop-color="#512ab5"/><stop offset="0.493" stop-color="#5725ac"/><stop offset="0.500" stop-color="#5525ae"/><stop offset="0.507" stop-color="#5226b2"/><stop offset="0.514" stop-color="#4d35bc"/><stop offset="0.528" stop-color="#447acd"/><stop offset="0.547" stop-color="#509bb2"/><stop offset="0.558" stop-color="#59a5a4"/><stop offset="0.570" stop-color="#5fab9b"/><stop offset="0.593" stop-color="#6bb08c"/><stop offset="0.616" stop-color="#71b385"/><stop offset="0.640" stop-color="#76b480"/><stop offset="0.674" stop-color="#79b67d"/><stop offset="0.733" stop-color="#7bb77a"/><stop offset="0.791" stop-color="#7cb778"/><stop offset="0.849" stop-color="#7db877"/><stop offset="0.907" stop-color="#7eb876"/><stop offset="0.965" stop-color="#7eb876"/></linearGradient><linearGradient id="d15" gradientUnits="userSpaceOnUse" x1="170.2" y1="0" x2="284.1" y2="0"><stop offset="0.035" stop-color="#c3ba47"/><stop offset="0.093" stop-color="#daae3c"/><stop offset="0.151" stop-color="#e69136"/><stop offset="0.209" stop-color="#e56a2f"/><stop offset="0.267" stop-color="#e57731"/><stop offset="0.326" stop-color="#e49a38"/><stop offset="0.360" stop-color="#daae3d"/><stop offset="0.384" stop-color="#cab844"/><stop offset="0.407" stop-color="#b0be4f"/><stop offset="0.430" stop-color="#8ebb68"/><stop offset="0.442" stop-color="#7ab67b"/><stop offset="0.453" stop-color="#5fab9a"/><stop offset="0.472" stop-color="#447fca"/><stop offset="0.486" stop-color="#4f31b9"/><stop offset="0.493" stop-color="#5226b2"/><stop offset="0.500" stop-color="#5128b4"/><stop offset="0.507" stop-color="#502db7"/><stop offset="0.514" stop-color="#4b3dc0"/><stop offset="0.528" stop-color="#447dcb"/><stop offset="0.547" stop-color="#519cb0"/><stop offset="0.558" stop-color="#59a6a3"/><stop offset="0.570" stop-color="#60ab9a"/><stop offset="0.593" stop-color="#6bb08c"/><stop offset="0.616" stop-color="#71b385"/><stop offset="0.640" stop-color="#76b480"/><stop offset="0.674" stop-color="#79b67d"/><stop offset="0.733" stop-color="#7bb77a"/><stop offset="0.791" stop-color="#7cb778"/><stop offset="0.849" stop-color="#7db877"/><stop offset="0.907" stop-color="#7eb876"/><stop offset="0.965" stop-color="#7eb876"/></linearGradient><linearGradient id="d16" gradientUnits="userSpaceOnUse" x1="170.2" y1="0" x2="284.1" y2="0"><stop offset="0.035" stop-color="#c1ba47"/><stop offset="0.093" stop-color="#d9b13d"/><stop offset="0.151" stop-color="#e59837"/><stop offset="0.209" stop-color="#e57731"/><stop offset="0.267" stop-color="#e58333"/><stop offset="0.326" stop-color="#e29f39"/><stop offset="0.360" stop-color="#d8b13d"/><stop offset="0.384" stop-color="#c7b945"/><stop offset="0.407" stop-color="#aebe51"/><stop offset="0.430" stop-color="#8cbb69"/><stop offset="0.442" stop-color="#79b67c"/><stop offset="0.453" stop-color="#5fab9a"/><stop offset="0.472" stop-color="#4581c8"/><stop offset="0.486" stop-color="#4d38bd"/><stop offset="0.493" stop-color="#502db7"/><stop offset="0.500" stop-color="#4f30b8"/><stop offset="0.507" stop-color="#4d35bb"/><stop offset="0.514" stop-color="#4944c5"/><stop offset="0.528" stop-color="#4580c9"/><stop offset="0.547" stop-color="#529daf"/><stop offset="0.558" stop-color="#5aa6a2"/><stop offset="0.570" stop-color="#60ab99"/><stop offset="0.593" stop-color="#6bb08c"/><stop offset="0.616" stop-color="#71b385"/><stop offset="0.640" stop-color="#76b480"/><stop offset="0.674" stop-color="#79b67d"/><stop offset="0.733" stop-color="#7bb77a"/><stop offset="0.791" stop-color="#7cb778"/><stop offset="0.849" stop-color="#7db877"/><stop offset="0.907" stop-color="#7eb876"/><stop offset="0.965" stop-color="#7eb876"/></linearGradient><linearGradient id="d17" gradientUnits="userSpaceOnUse" x1="170.2" y1="0" x2="284.1" y2="0"><stop offset="0.035" stop-color="#bfbb48"/><stop offset="0.093" stop-color="#d7b33e"/><stop offset="0.151" stop-color="#e29d38"/><stop offset="0.209" stop-color="#e58334"/><stop offset="0.267" stop-color="#e68f35"/><stop offset="0.326" stop-color="#dfa43a"/><stop offset="0.360" stop-color="#d7b43e"/><stop offset="0.384" stop-color="#c4ba46"/><stop offset="0.407" stop-color="#abbd52"/><stop offset="0.430" stop-color="#8bbb6a"/><stop offset="0.442" stop-color="#78b57d"/><stop offset="0.453" stop-color="#5fab9b"/><stop offset="0.472" stop-color="#4584c7"/><stop offset="0.486" stop-color="#4a3fc2"/><stop offset="0.493" stop-color="#4d35bb"/><stop offset="0.500" stop-color="#4d37bd"/><stop offset="0.507" stop-color="#4b3cc0"/><stop offset="0.514" stop-color="#474bc9"/><stop offset="0.528" stop-color="#4584c7"/><stop offset="0.547" stop-color="#539ead"/><stop offset="0.558" stop-color="#5aa7a2"/><stop offset="0.570" stop-color="#61ab99"/><stop offset="0.593" stop-color="#6bb08c"/><stop offset="0.616" stop-color="#71b385"/><stop offset="0.640" stop-color="#76b480"/><stop offset="0.674" stop-color="#79b67d"/><stop offset="0.733" stop-color="#7bb77a"/><stop offset="0.791" stop-color="#7cb778"/><stop offset="0.849" stop-color="#7db877"/><stop offset="0.907" stop-color="#7eb876"/><stop offset="0.965" stop-color="#7eb876"/></linearGradient><linearGradient id="d18" gradientUnits="userSpaceOnUse" x1="170.2" y1="0" x2="284.1" y2="0"><stop offset="0.035" stop-color="#b2be4e"/><stop offset="0.093" stop-color="#cdb842"/><stop offset="0.151" stop-color="#dbad3c"/><stop offset="0.209" stop-color="#e0a139"/><stop offset="0.267" stop-color="#dfa53a"/><stop offset="0.326" stop-color="#d9b03d"/><stop offset="0.360" stop-color="#cbb843"/><stop offset="0.384" stop-color="#bbbc4a"/><stop offset="0.407" stop-color="#a3bd58"/><stop offset="0.430" stop-color="#82ba71"/><stop offset="0.442" stop-color="#71b385"/><stop offset="0.453" stop-color="#5ca99e"/><stop offset="0.472" stop-color="#468bc3"/><stop offset="0.486" stop-color="#4160d6"/><stop offset="0.493" stop-color="#4359d2"/><stop offset="0.500" stop-color="#415ed5"/><stop offset="0.507" stop-color="#4065d7"/><stop offset="0.514" stop-color="#426fd2"/><stop offset="0.528" stop-color="#4a94bc"/><stop offset="0.547" stop-color="#5aa6a3"/><stop offset="0.558" stop-color="#62ac97"/><stop offset="0.570" stop-color="#69af8f"/><stop offset="0.593" stop-color="#72b384"/><stop offset="0.616" stop-color="#76b480"/><stop offset="0.640" stop-color="#78b67d"/><stop offset="0.674" stop-color="#7ab67b"/><stop offset="0.733" stop-color="#7cb779"/><stop offset="0.791" stop-color="#7db778"/><stop offset="0.849" stop-color="#7eb877"/><stop offset="0.907" stop-color="#7eb876"/><stop offset="0.965" stop-color="#7eb876"/></linearGradient><linearGradient id="d19" gradientUnits="userSpaceOnUse" x1="170.2" y1="0" x2="284.1" y2="0"><stop offset="0.035" stop-color="#a4bd58"/><stop offset="0.093" stop-color="#c2ba47"/><stop offset="0.151" stop-color="#d0b741"/><stop offset="0.209" stop-color="#d7b43e"/><stop offset="0.267" stop-color="#d6b53e"/><stop offset="0.326" stop-color="#cfb741"/><stop offset="0.360" stop-color="#bfbb48"/><stop offset="0.384" stop-color="#b2be4e"/><stop offset="0.407" stop-color="#9bbc5e"/><stop offset="0.430" stop-color="#7bb779"/><stop offset="0.442" stop-color="#6bb08d"/><stop offset="0.453" stop-color="#5aa7a2"/><stop offset="0.472" stop-color="#4992bf"/><stop offset="0.486" stop-color="#4479cd"/><stop offset="0.493" stop-color="#4376ce"/><stop offset="0.500" stop-color="#447bcc"/><stop offset="0.507" stop-color="#4582c8"/><stop offset="0.514" stop-color="#478cc3"/><stop offset="0.528" stop-color="#539fad"/><stop offset="0.547" stop-color="#62ac97"/><stop offset="0.558" stop-color="#6bb08c"/><stop offset="0.570" stop-color="#71b385"/><stop offset="0.593" stop-color="#78b57d"/><stop offset="0.616" stop-color="#7ab67b"/><stop offset="0.640" stop-color="#7bb77a"/><stop offset="0.674" stop-color="#7bb779"/><stop offset="0.733" stop-color="#7cb778"/><stop offset="0.791" stop-color="#7db877"/><stop offset="0.849" stop-color="#7eb876"/><stop offset="0.907" stop-color="#7eb876"/><stop offset="0.965" stop-color="#7eb876"/></linearGradient><linearGradient id="d20" gradientUnits="userSpaceOnUse" x1="170.2" y1="0" x2="284.1" y2="0"><stop offset="0.035" stop-color="#a9bd54"/><stop offset="0.093" stop-color="#c9b944"/><stop offset="0.151" stop-color="#d5b63f"/><stop offset="0.209" stop-color="#d9b13d"/><stop offset="0.267" stop-color="#d8b23d"/><stop offset="0.326" stop-color="#d3b640"/><stop offset="0.360" stop-color="#c1ba47"/><stop offset="0.384" stop-color="#b1be4f"/><stop offset="0.407" stop-color="#96bc62"/><stop offset="0.430" stop-color="#76b57f"/><stop offset="0.442" stop-color="#67ae92"/><stop offset="0.453" stop-color="#59a6a3"/><stop offset="0.472" stop-color="#4b95bb"/><stop offset="0.486" stop-color="#4585c7"/><stop offset="0.493" stop-color="#4583c8"/><stop offset="0.500" stop-color="#4686c6"/><stop offset="0.507" stop-color="#478dc3"/><stop offset="0.514" stop-color="#4a93bd"/><stop offset="0.528" stop-color="#56a1a9"/><stop offset="0.547" stop-color="#63ad96"/><stop offset="0.558" stop-color="#6bb08c"/><stop offset="0.570" stop-color="#71b285"/><stop offset="0.593" stop-color="#78b57d"/><stop offset="0.616" stop-color="#7ab67b"/><stop offset="0.640" stop-color="#7bb77a"/><stop offset="0.674" stop-color="#7bb779"/><stop offset="0.733" stop-color="#7cb778"/><stop offset="0.791" stop-color="#7db877"/><stop offset="0.849" stop-color="#7eb876"/><stop offset="0.907" stop-color="#7eb876"/><stop offset="0.965" stop-color="#7eb876"/></linearGradient><linearGradient id="d21" gradientUnits="userSpaceOnUse" x1="170.2" y1="0" x2="284.1" y2="0"><stop offset="0.035" stop-color="#aebe50"/><stop offset="0.093" stop-color="#cfb742"/><stop offset="0.151" stop-color="#d8b23d"/><stop offset="0.209" stop-color="#daae3c"/><stop offset="0.267" stop-color="#daaf3d"/><stop offset="0.326" stop-color="#d7b53e"/><stop offset="0.360" stop-color="#c3ba46"/><stop offset="0.384" stop-color="#b0be4f"/><stop offset="0.407" stop-color="#91bb66"/><stop offset="0.430" stop-color="#71b285"/><stop offset="0.442" stop-color="#63ac97"/><stop offset="0.453" stop-color="#58a4a5"/><stop offset="0.472" stop-color="#4d98b7"/><stop offset="0.486" stop-color="#4790c1"/><stop offset="0.493" stop-color="#478fc1"/><stop offset="0.500" stop-color="#4891bf"/><stop offset="0.507" stop-color="#4a94bc"/><stop offset="0.514" stop-color="#4e98b6"/><stop offset="0.528" stop-color="#58a4a5"/><stop offset="0.547" stop-color="#64ad94"/><stop offset="0.558" stop-color="#6bb08c"/><stop offset="0.570" stop-color="#71b286"/><stop offset="0.593" stop-color="#78b57d"/><stop offset="0.616" stop-color="#7ab67b"/><stop offset="0.640" stop-color="#7bb77a"/><stop offset="0.674" stop-color="#7bb779"/><stop offset="0.733" stop-color="#7cb778"/><stop offset="0.791" stop-color="#7db877"/><stop offset="0.849" stop-color="#7eb876"/><stop offset="0.907" stop-color="#7eb876"/><stop offset="0.965" stop-color="#7eb876"/></linearGradient><linearGradient id="d22" gradientUnits="userSpaceOnUse" x1="170.2" y1="0" x2="284.1" y2="0"><stop offset="0.035" stop-color="#b3be4d"/><stop offset="0.093" stop-color="#d4b63f"/><stop offset="0.151" stop-color="#daae3d"/><stop offset="0.209" stop-color="#dcaa3c"/><stop offset="0.267" stop-color="#dbac3c"/><stop offset="0.326" stop-color="#d8b23d"/><stop offset="0.360" stop-color="#c5b946"/><stop offset="0.384" stop-color="#aebe51"/><stop offset="0.407" stop-color="#8cbb69"/><stop offset="0.430" stop-color="#6cb08b"/><stop offset="0.442" stop-color="#5fab9b"/><stop offset="0.453" stop-color="#57a3a6"/><stop offset="0.472" stop-color="#509ab3"/><stop offset="0.486" stop-color="#4c96b8"/><stop offset="0.493" stop-color="#4c96b9"/><stop offset="0.500" stop-color="#4d97b7"/><stop offset="0.507" stop-color="#4f99b4"/><stop offset="0.514" stop-color="#529db0"/><stop offset="0.528" stop-color="#5aa7a1"/><stop offset="0.547" stop-color="#65ad93"/><stop offset="0.558" stop-color="#6bb08c"/><stop offset="0.570" stop-color="#71b286"/><stop offset="0.593" stop-color="#78b57d"/><stop offset="0.616" stop-color="#7ab67b"/><stop offset="0.640" stop-color="#7bb77a"/><stop offset="0.674" stop-color="#7bb779"/><stop offset="0.733" stop-color="#7cb778"/><stop offset="0.791" stop-color="#7db877"/><stop offset="0.849" stop-color="#7eb876"/><stop offset="0.907" stop-color="#7eb876"/><stop offset="0.965" stop-color="#7eb876"/></linearGradient><linearGradient id="d23" gradientUnits="userSpaceOnUse" x1="170.2" y1="0" x2="284.1" y2="0"><stop offset="0.035" stop-color="#b4bd4d"/><stop offset="0.093" stop-color="#d4b63f"/><stop offset="0.151" stop-color="#daae3d"/><stop offset="0.209" stop-color="#dcaa3c"/><stop offset="0.267" stop-color="#dbac3c"/><stop offset="0.326" stop-color="#d8b33e"/><stop offset="0.360" stop-color="#c2ba47"/><stop offset="0.384" stop-color="#aabd54"/><stop offset="0.407" stop-color="#88bb6c"/><stop offset="0.430" stop-color="#6aaf8e"/><stop offset="0.442" stop-color="#5daa9d"/><stop offset="0.453" stop-color="#57a3a7"/><stop offset="0.472" stop-color="#509ab3"/><stop offset="0.486" stop-color="#4d96b8"/><stop offset="0.493" stop-color="#4c96b8"/><stop offset="0.500" stop-color="#4d98b7"/><stop offset="0.507" stop-color="#4f9ab3"/><stop offset="0.514" stop-color="#529daf"/><stop offset="0.528" stop-color="#5ba7a1"/><stop offset="0.547" stop-color="#65ad93"/><stop offset="0.558" stop-color="#6bb08c"/><stop offset="0.570" stop-color="#71b286"/><stop offset="0.593" stop-color="#78b57d"/><stop offset="0.616" stop-color="#7ab67b"/><stop offset="0.640" stop-color="#7bb77a"/><stop offset="0.674" stop-color="#7bb779"/><stop offset="0.733" stop-color="#7cb778"/><stop offset="0.791" stop-color="#7db877"/><stop offset="0.849" stop-color="#7eb876"/><stop offset="0.907" stop-color="#7eb876"/><stop offset="0.965" stop-color="#7eb876"/></linearGradient><linearGradient id="d24" gradientUnits="userSpaceOnUse" x1="170.2" y1="0" x2="284.1" y2="0"><stop offset="0.035" stop-color="#b5bd4c"/><stop offset="0.093" stop-color="#d4b63f"/><stop offset="0.151" stop-color="#daae3d"/><stop offset="0.209" stop-color="#dcaa3c"/><stop offset="0.267" stop-color="#dbac3c"/><stop offset="0.326" stop-color="#d7b43e"/><stop offset="0.360" stop-color="#bfbb48"/><stop offset="0.384" stop-color="#a5bd57"/><stop offset="0.407" stop-color="#84ba6f"/><stop offset="0.430" stop-color="#68af90"/><stop offset="0.442" stop-color="#5ca99e"/><stop offset="0.453" stop-color="#56a2a8"/><stop offset="0.472" stop-color="#509ab3"/><stop offset="0.486" stop-color="#4d97b8"/><stop offset="0.493" stop-color="#4d97b8"/><stop offset="0.500" stop-color="#4e98b6"/><stop offset="0.507" stop-color="#509ab3"/><stop offset="0.514" stop-color="#539eae"/><stop offset="0.528" stop-color="#5ba7a1"/><stop offset="0.547" stop-color="#65ae93"/><stop offset="0.558" stop-color="#6bb08c"/><stop offset="0.570" stop-color="#71b286"/><stop offset="0.593" stop-color="#78b57d"/><stop offset="0.616" stop-color="#7ab67b"/><stop offset="0.640" stop-color="#7bb77a"/><stop offset="0.674" stop-color="#7bb779"/><stop offset="0.733" stop-color="#7cb778"/><stop offset="0.791" stop-color="#7db877"/><stop offset="0.849" stop-color="#7eb876"/><stop offset="0.907" stop-color="#7eb876"/><stop offset="0.965" stop-color="#7eb876"/></linearGradient><linearGradient id="d25" gradientUnits="userSpaceOnUse" x1="170.2" y1="0" x2="284.1" y2="0"><stop offset="0.035" stop-color="#b6bd4c"/><stop offset="0.093" stop-color="#d4b63f"/><stop offset="0.151" stop-color="#daae3d"/><stop offset="0.209" stop-color="#dcaa3c"/><stop offset="0.267" stop-color="#dbac3c"/><stop offset="0.326" stop-color="#d7b53e"/><stop offset="0.360" stop-color="#bcbb49"/><stop offset="0.384" stop-color="#a1bd5a"/><stop offset="0.407" stop-color="#81b973"/><stop offset="0.430" stop-color="#66ae93"/><stop offset="0.442" stop-color="#5ba8a0"/><stop offset="0.453" stop-color="#56a2a9"/><stop offset="0.472" stop-color="#509ab3"/><stop offset="0.486" stop-color="#4d97b7"/><stop offset="0.493" stop-color="#4d97b8"/><stop offset="0.500" stop-color="#4e98b5"/><stop offset="0.507" stop-color="#509bb2"/><stop offset="0.514" stop-color="#539ead"/><stop offset="0.528" stop-color="#5ba8a0"/><stop offset="0.547" stop-color="#66ae93"/><stop offset="0.558" stop-color="#6bb08c"/><stop offset="0.570" stop-color="#71b286"/><stop offset="0.593" stop-color="#78b57d"/><stop offset="0.616" stop-color="#7ab67b"/><stop offset="0.640" stop-color="#7bb77a"/><stop offset="0.674" stop-color="#7bb779"/><stop offset="0.733" stop-color="#7cb778"/><stop offset="0.791" stop-color="#7db877"/><stop offset="0.849" stop-color="#7eb876"/><stop offset="0.907" stop-color="#7eb876"/><stop offset="0.965" stop-color="#7eb876"/></linearGradient><linearGradient id="d26" gradientUnits="userSpaceOnUse" x1="170.2" y1="0" x2="284.1" y2="0"><stop offset="0.035" stop-color="#b8bd4b"/><stop offset="0.093" stop-color="#d5b63f"/><stop offset="0.151" stop-color="#daae3d"/><stop offset="0.209" stop-color="#dcaa3c"/><stop offset="0.267" stop-color="#dbac3c"/><stop offset="0.326" stop-color="#d6b63f"/><stop offset="0.360" stop-color="#b9bc4b"/><stop offset="0.384" stop-color="#9dbc5d"/><stop offset="0.407" stop-color="#7db877"/><stop offset="0.430" stop-color="#63ad95"/><stop offset="0.442" stop-color="#5aa7a1"/><stop offset="0.453" stop-color="#55a1a9"/><stop offset="0.472" stop-color="#509ab3"/><stop offset="0.486" stop-color="#4d97b7"/><stop offset="0.493" stop-color="#4d97b7"/><stop offset="0.500" stop-color="#4f99b5"/><stop offset="0.507" stop-color="#519cb1"/><stop offset="0.514" stop-color="#549fad"/><stop offset="0.528" stop-color="#5ba8a0"/><stop offset="0.547" stop-color="#66ae93"/><stop offset="0.558" stop-color="#6bb08c"/><stop offset="0.570" stop-color="#71b286"/><stop offset="0.593" stop-color="#78b57d"/><stop offset="0.616" stop-color="#7ab67b"/><stop offset="0.640" stop-color="#7bb77a"/><stop offset="0.674" stop-color="#7bb779"/><stop offset="0.733" stop-color="#7cb778"/><stop offset="0.791" stop-color="#7db877"/><stop offset="0.849" stop-color="#7eb876"/><stop offset="0.907" stop-color="#7eb876"/><stop offset="0.965" stop-color="#7eb876"/></linearGradient><linearGradient id="d27" gradientUnits="userSpaceOnUse" x1="170.2" y1="0" x2="284.1" y2="0"><stop offset="0.035" stop-color="#b9bc4b"/><stop offset="0.093" stop-color="#d5b63f"/><stop offset="0.151" stop-color="#daae3d"/><stop offset="0.209" stop-color="#dcaa3c"/><stop offset="0.267" stop-color="#dbad3c"/><stop offset="0.326" stop-color="#d4b63f"/><stop offset="0.360" stop-color="#b7bd4c"/><stop offset="0.384" stop-color="#99bc60"/><stop offset="0.407" stop-color="#7ab67b"/><stop offset="0.430" stop-color="#61ac98"/><stop offset="0.442" stop-color="#5aa6a3"/><stop offset="0.453" stop-color="#55a1aa"/><stop offset="0.472" stop-color="#509ab3"/><stop offset="0.486" stop-color="#4d98b7"/><stop offset="0.493" stop-color="#4d97b7"/><stop offset="0.500" stop-color="#4f99b4"/><stop offset="0.507" stop-color="#519cb0"/><stop offset="0.514" stop-color="#549fac"/><stop offset="0.528" stop-color="#5ca89f"/><stop offset="0.547" stop-color="#66ae93"/><stop offset="0.558" stop-color="#6bb08c"/><stop offset="0.570" stop-color="#71b286"/><stop offset="0.593" stop-color="#78b57d"/><stop offset="0.616" stop-color="#7ab67b"/><stop offset="0.640" stop-color="#7bb77a"/><stop offset="0.674" stop-color="#7bb779"/><stop offset="0.733" stop-color="#7cb778"/><stop offset="0.791" stop-color="#7db877"/><stop offset="0.849" stop-color="#7eb876"/><stop offset="0.907" stop-color="#7eb876"/><stop offset="0.965" stop-color="#7eb876"/></linearGradient><linearGradient id="d28" gradientUnits="userSpaceOnUse" x1="170.2" y1="0" x2="284.1" y2="0"><stop offset="0.035" stop-color="#babc4a"/><stop offset="0.093" stop-color="#d5b63f"/><stop offset="0.151" stop-color="#daaf3d"/><stop offset="0.209" stop-color="#dcaa3c"/><stop offset="0.267" stop-color="#dbad3c"/><stop offset="0.326" stop-color="#d3b640"/><stop offset="0.360" stop-color="#b4bd4d"/><stop offset="0.384" stop-color="#94bc64"/><stop offset="0.407" stop-color="#76b57f"/><stop offset="0.430" stop-color="#5fab9b"/><stop offset="0.442" stop-color="#59a5a4"/><stop offset="0.453" stop-color="#55a0ab"/><stop offset="0.472" stop-color="#509ab3"/><stop offset="0.486" stop-color="#4e98b6"/><stop offset="0.493" stop-color="#4e98b6"/><stop offset="0.500" stop-color="#4f9ab4"/><stop offset="0.507" stop-color="#529db0"/><stop offset="0.514" stop-color="#54a0ab"/><stop offset="0.528" stop-color="#5ca99f"/><stop offset="0.547" stop-color="#66ae93"/><stop offset="0.558" stop-color="#6bb08c"/><stop offset="0.570" stop-color="#71b286"/><stop offset="0.593" stop-color="#78b57d"/><stop offset="0.616" stop-color="#7ab67b"/><stop offset="0.640" stop-color="#7bb77a"/><stop offset="0.674" stop-color="#7bb779"/><stop offset="0.733" stop-color="#7cb778"/><stop offset="0.791" stop-color="#7db877"/><stop offset="0.849" stop-color="#7eb876"/><stop offset="0.907" stop-color="#7eb876"/><stop offset="0.965" stop-color="#7eb876"/></linearGradient><linearGradient id="d29" gradientUnits="userSpaceOnUse" x1="170.2" y1="0" x2="284.1" y2="0"><stop offset="0.035" stop-color="#bbbc4a"/><stop offset="0.093" stop-color="#d5b63f"/><stop offset="0.151" stop-color="#daaf3d"/><stop offset="0.209" stop-color="#dcaa3c"/><stop offset="0.267" stop-color="#dbad3c"/><stop offset="0.326" stop-color="#d2b640"/><stop offset="0.360" stop-color="#b1be4f"/><stop offset="0.384" stop-color="#90bb67"/><stop offset="0.407" stop-color="#73b383"/><stop offset="0.430" stop-color="#5daa9d"/><stop offset="0.442" stop-color="#58a4a5"/><stop offset="0.453" stop-color="#549fac"/><stop offset="0.472" stop-color="#509ab3"/><stop offset="0.486" stop-color="#4e98b6"/><stop offset="0.493" stop-color="#4e98b6"/><stop offset="0.500" stop-color="#509ab3"/><stop offset="0.507" stop-color="#529daf"/><stop offset="0.514" stop-color="#55a0aa"/><stop offset="0.528" stop-color="#5ca99f"/><stop offset="0.547" stop-color="#66ae92"/><stop offset="0.558" stop-color="#6bb08c"/><stop offset="0.570" stop-color="#71b286"/><stop offset="0.593" stop-color="#78b57d"/><stop offset="0.616" stop-color="#7ab67b"/><stop offset="0.640" stop-color="#7bb77a"/><stop offset="0.674" stop-color="#7bb779"/><stop offset="0.733" stop-color="#7cb778"/><stop offset="0.791" stop-color="#7db877"/><stop offset="0.849" stop-color="#7eb876"/><stop offset="0.907" stop-color="#7eb876"/><stop offset="0.965" stop-color="#7eb876"/></linearGradient><linearGradient id="d30" gradientUnits="userSpaceOnUse" x1="170.2" y1="0" x2="284.1" y2="0"><stop offset="0.035" stop-color="#bdbb49"/><stop offset="0.093" stop-color="#d5b63f"/><stop offset="0.151" stop-color="#daaf3d"/><stop offset="0.209" stop-color="#dcaa3c"/><stop offset="0.267" stop-color="#dbad3c"/><stop offset="0.326" stop-color="#d1b741"/><stop offset="0.360" stop-color="#adbe51"/><stop offset="0.384" stop-color="#8cbb6a"/><stop offset="0.407" stop-color="#70b287"/><stop offset="0.430" stop-color="#5ca99f"/><stop offset="0.442" stop-color="#57a3a7"/><stop offset="0.453" stop-color="#549fad"/><stop offset="0.472" stop-color="#509ab3"/><stop offset="0.486" stop-color="#4e98b6"/><stop offset="0.493" stop-color="#4e98b6"/><stop offset="0.500" stop-color="#509ab3"/><stop offset="0.507" stop-color="#539eae"/><stop offset="0.514" stop-color="#55a1aa"/><stop offset="0.528" stop-color="#5ca99e"/><stop offset="0.547" stop-color="#66ae92"/><stop offset="0.558" stop-color="#6bb08c"/><stop offset="0.570" stop-color="#71b286"/><stop offset="0.593" stop-color="#78b57d"/><stop offset="0.616" stop-color="#7ab67b"/><stop offset="0.640" stop-color="#7bb77a"/><stop offset="0.674" stop-color="#7bb779"/><stop offset="0.733" stop-color="#7cb778"/><stop offset="0.791" stop-color="#7db877"/><stop offset="0.849" stop-color="#7eb876"/><stop offset="0.907" stop-color="#7eb876"/><stop offset="0.965" stop-color="#7eb876"/></linearGradient><linearGradient id="d31" gradientUnits="userSpaceOnUse" x1="170.2" y1="0" x2="284.1" y2="0"><stop offset="0.035" stop-color="#bebb49"/><stop offset="0.093" stop-color="#d5b63f"/><stop offset="0.151" stop-color="#daaf3d"/><stop offset="0.209" stop-color="#dcaa3c"/><stop offset="0.267" stop-color="#daad3c"/><stop offset="0.326" stop-color="#d0b741"/><stop offset="0.360" stop-color="#aabd54"/><stop offset="0.384" stop-color="#87ba6d"/><stop offset="0.407" stop-color="#6cb08b"/><stop offset="0.430" stop-color="#5aa7a1"/><stop offset="0.442" stop-color="#56a2a8"/><stop offset="0.453" stop-color="#539ead"/><stop offset="0.472" stop-color="#509ab3"/><stop offset="0.486" stop-color="#4e99b5"/><stop offset="0.493" stop-color="#4e99b5"/><stop offset="0.500" stop-color="#509bb2"/><stop offset="0.507" stop-color="#539ead"/><stop offset="0.514" stop-color="#56a2a9"/><stop offset="0.528" stop-color="#5ca99e"/><stop offset="0.547" stop-color="#66ae92"/><stop offset="0.558" stop-color="#6bb08c"/><stop offset="0.570" stop-color="#71b286"/><stop offset="0.593" stop-color="#78b57d"/><stop offset="0.616" stop-color="#7ab67b"/><stop offset="0.640" stop-color="#7bb77a"/><stop offset="0.674" stop-color="#7bb779"/><stop offset="0.733" stop-color="#7cb778"/><stop offset="0.791" stop-color="#7db877"/><stop offset="0.849" stop-color="#7eb876"/><stop offset="0.907" stop-color="#7eb876"/><stop offset="0.965" stop-color="#7eb876"/></linearGradient><linearGradient id="d32" gradientUnits="userSpaceOnUse" x1="170.2" y1="0" x2="284.1" y2="0"><stop offset="0.035" stop-color="#bfbb48"/><stop offset="0.093" stop-color="#d5b63f"/><stop offset="0.151" stop-color="#daaf3d"/><stop offset="0.209" stop-color="#dcaa3c"/><stop offset="0.267" stop-color="#daae3c"/><stop offset="0.326" stop-color="#cfb742"/><stop offset="0.360" stop-color="#a6bd57"/><stop offset="0.384" stop-color="#83ba70"/><stop offset="0.407" stop-color="#69af8f"/><stop offset="0.430" stop-color="#59a6a3"/><stop offset="0.442" stop-color="#55a1a9"/><stop offset="0.453" stop-color="#539eae"/><stop offset="0.472" stop-color="#509ab3"/><stop offset="0.486" stop-color="#4e99b5"/><stop offset="0.493" stop-color="#4f99b5"/><stop offset="0.500" stop-color="#519bb2"/><stop offset="0.507" stop-color="#539fad"/><stop offset="0.514" stop-color="#56a2a8"/><stop offset="0.528" stop-color="#5daa9e"/><stop offset="0.547" stop-color="#66ae92"/><stop offset="0.558" stop-color="#6bb08c"/><stop offset="0.570" stop-color="#71b286"/><stop offset="0.593" stop-color="#78b57d"/><stop offset="0.616" stop-color="#7ab67b"/><stop offset="0.640" stop-color="#7bb77a"/><stop offset="0.674" stop-color="#7bb779"/><stop offset="0.733" stop-color="#7cb778"/><stop offset="0.791" stop-color="#7db877"/><stop offset="0.849" stop-color="#7eb876"/><stop offset="0.907" stop-color="#7eb876"/><stop offset="0.965" stop-color="#7eb876"/></linearGradient><linearGradient id="d33" gradientUnits="userSpaceOnUse" x1="170.2" y1="0" x2="284.1" y2="0"><stop offset="0.035" stop-color="#c0bb48"/><stop offset="0.093" stop-color="#d5b63f"/><stop offset="0.151" stop-color="#daaf3d"/><stop offset="0.209" stop-color="#dcaa3c"/><stop offset="0.267" stop-color="#daae3c"/><stop offset="0.326" stop-color="#cdb742"/><stop offset="0.360" stop-color="#a2bd59"/><stop offset="0.384" stop-color="#7fb974"/><stop offset="0.407" stop-color="#66ae93"/><stop offset="0.430" stop-color="#58a4a5"/><stop offset="0.442" stop-color="#55a0ab"/><stop offset="0.453" stop-color="#529daf"/><stop offset="0.472" stop-color="#509ab3"/><stop offset="0.486" stop-color="#4f99b5"/><stop offset="0.493" stop-color="#4f99b4"/><stop offset="0.500" stop-color="#519cb1"/><stop offset="0.507" stop-color="#549fac"/><stop offset="0.514" stop-color="#57a3a7"/><stop offset="0.528" stop-color="#5daa9d"/><stop offset="0.547" stop-color="#66ae92"/><stop offset="0.558" stop-color="#6bb08c"/><stop offset="0.570" stop-color="#71b286"/><stop offset="0.593" stop-color="#78b57d"/><stop offset="0.616" stop-color="#7ab67b"/><stop offset="0.640" stop-color="#7bb77a"/><stop offset="0.674" stop-color="#7bb779"/><stop offset="0.733" stop-color="#7cb778"/><stop offset="0.791" stop-color="#7db877"/><stop offset="0.849" stop-color="#7eb876"/><stop offset="0.907" stop-color="#7eb876"/><stop offset="0.965" stop-color="#7eb876"/></linearGradient><linearGradient id="d34" gradientUnits="userSpaceOnUse" x1="170.2" y1="0" x2="284.1" y2="0"><stop offset="0.035" stop-color="#c1ba47"/><stop offset="0.093" stop-color="#d5b63f"/><stop offset="0.151" stop-color="#daaf3d"/><stop offset="0.209" stop-color="#dcaa3c"/><stop offset="0.267" stop-color="#daae3c"/><stop offset="0.326" stop-color="#ccb843"/><stop offset="0.360" stop-color="#9fbc5c"/><stop offset="0.384" stop-color="#7cb779"/><stop offset="0.407" stop-color="#62ac97"/><stop offset="0.430" stop-color="#57a3a7"/><stop offset="0.442" stop-color="#549fac"/><stop offset="0.453" stop-color="#529db0"/><stop offset="0.472" stop-color="#509ab3"/><stop offset="0.486" stop-color="#4f99b4"/><stop offset="0.493" stop-color="#4f99b4"/><stop offset="0.500" stop-color="#519cb0"/><stop offset="0.507" stop-color="#54a0ab"/><stop offset="0.514" stop-color="#57a3a7"/><stop offset="0.528" stop-color="#5daa9d"/><stop offset="0.547" stop-color="#67ae92"/><stop offset="0.558" stop-color="#6bb08c"/><stop offset="0.570" stop-color="#70b286"/><stop offset="0.593" stop-color="#78b57d"/><stop offset="0.616" stop-color="#7ab67b"/><stop offset="0.640" stop-color="#7bb77a"/><stop offset="0.674" stop-color="#7bb779"/><stop offset="0.733" stop-color="#7cb778"/><stop offset="0.791" stop-color="#7db877"/><stop offset="0.849" stop-color="#7eb876"/><stop offset="0.907" stop-color="#7eb876"/><stop offset="0.965" stop-color="#7eb876"/></linearGradient><linearGradient id="d35" gradientUnits="userSpaceOnUse" x1="170.2" y1="0" x2="284.1" y2="0"><stop offset="0.035" stop-color="#c3ba47"/><stop offset="0.093" stop-color="#d5b63f"/><stop offset="0.151" stop-color="#daaf3d"/><stop offset="0.209" stop-color="#dcaa3c"/><stop offset="0.267" stop-color="#daae3c"/><stop offset="0.326" stop-color="#cbb843"/><stop offset="0.360" stop-color="#9bbc5e"/><stop offset="0.384" stop-color="#78b67d"/><stop offset="0.407" stop-color="#5fab9b"/><stop offset="0.430" stop-color="#56a1a9"/><stop offset="0.442" stop-color="#539eae"/><stop offset="0.453" stop-color="#519cb0"/><stop offset="0.472" stop-color="#509ab3"/><stop offset="0.486" stop-color="#4f9ab4"/><stop offset="0.493" stop-color="#4f9ab4"/><stop offset="0.500" stop-color="#529cb0"/><stop offset="0.507" stop-color="#55a0aa"/><stop offset="0.514" stop-color="#58a4a6"/><stop offset="0.528" stop-color="#5eaa9c"/><stop offset="0.547" stop-color="#67ae92"/><stop offset="0.558" stop-color="#6bb08c"/><stop offset="0.570" stop-color="#70b286"/><stop offset="0.593" stop-color="#78b57d"/><stop offset="0.616" stop-color="#7ab67b"/><stop offset="0.640" stop-color="#7bb77a"/><stop offset="0.674" stop-color="#7bb779"/><stop offset="0.733" stop-color="#7cb778"/><stop offset="0.791" stop-color="#7db877"/><stop offset="0.849" stop-color="#7eb876"/><stop offset="0.907" stop-color="#7eb876"/><stop offset="0.965" stop-color="#7eb876"/></linearGradient><linearGradient id="d36" gradientUnits="userSpaceOnUse" x1="170.2" y1="0" x2="284.1" y2="0"><stop offset="0.035" stop-color="#c4ba46"/><stop offset="0.093" stop-color="#d5b63f"/><stop offset="0.151" stop-color="#daaf3d"/><stop offset="0.209" stop-color="#dcaa3c"/><stop offset="0.267" stop-color="#daae3d"/><stop offset="0.326" stop-color="#cab844"/><stop offset="0.360" stop-color="#98bc61"/><stop offset="0.384" stop-color="#75b481"/><stop offset="0.407" stop-color="#5ca99f"/><stop offset="0.430" stop-color="#54a0ab"/><stop offset="0.442" stop-color="#529daf"/><stop offset="0.453" stop-color="#519cb1"/><stop offset="0.472" stop-color="#509ab3"/><stop offset="0.486" stop-color="#4f9ab3"/><stop offset="0.493" stop-color="#509ab3"/><stop offset="0.500" stop-color="#529daf"/><stop offset="0.507" stop-color="#55a1aa"/><stop offset="0.514" stop-color="#58a4a5"/><stop offset="0.528" stop-color="#5eaa9c"/><stop offset="0.547" stop-color="#67ae92"/><stop offset="0.558" stop-color="#6bb08c"/><stop offset="0.570" stop-color="#70b286"/><stop offset="0.593" stop-color="#78b57d"/><stop offset="0.616" stop-color="#7ab67b"/><stop offset="0.640" stop-color="#7bb77a"/><stop offset="0.674" stop-color="#7bb779"/><stop offset="0.733" stop-color="#7cb778"/><stop offset="0.791" stop-color="#7db877"/><stop offset="0.849" stop-color="#7eb876"/><stop offset="0.907" stop-color="#7eb876"/><stop offset="0.965" stop-color="#7eb876"/></linearGradient><linearGradient id="d37" gradientUnits="userSpaceOnUse" x1="170.2" y1="0" x2="284.1" y2="0"><stop offset="0.035" stop-color="#c5b946"/><stop offset="0.093" stop-color="#d5b63f"/><stop offset="0.151" stop-color="#daaf3d"/><stop offset="0.209" stop-color="#dcaa3c"/><stop offset="0.267" stop-color="#daae3d"/><stop offset="0.326" stop-color="#c9b844"/><stop offset="0.360" stop-color="#94bc63"/><stop offset="0.384" stop-color="#71b385"/><stop offset="0.407" stop-color="#5aa7a1"/><stop offset="0.430" stop-color="#539ead"/><stop offset="0.442" stop-color="#519cb0"/><stop offset="0.453" stop-color="#509bb2"/><stop offset="0.472" stop-color="#509ab3"/><stop offset="0.486" stop-color="#509ab3"/><stop offset="0.493" stop-color="#509ab3"/><stop offset="0.500" stop-color="#529daf"/><stop offset="0.507" stop-color="#56a1a9"/><stop offset="0.514" stop-color="#59a5a4"/><stop offset="0.528" stop-color="#5fab9b"/><stop offset="0.547" stop-color="#67ae91"/><stop offset="0.558" stop-color="#6bb08c"/><stop offset="0.570" stop-color="#70b286"/><stop offset="0.593" stop-color="#78b57d"/><stop offset="0.616" stop-color="#7ab67b"/><stop offset="0.640" stop-color="#7bb77a"/><stop offset="0.674" stop-color="#7bb779"/><stop offset="0.733" stop-color="#7cb778"/><stop offset="0.791" stop-color="#7db877"/><stop offset="0.849" stop-color="#7eb876"/><stop offset="0.907" stop-color="#7eb876"/><stop offset="0.965" stop-color="#7eb876"/></linearGradient><linearGradient id="d38" gradientUnits="userSpaceOnUse" x1="170.2" y1="0" x2="284.1" y2="0"><stop offset="0.035" stop-color="#c5b946"/><stop offset="0.093" stop-color="#d5b63f"/><stop offset="0.151" stop-color="#daaf3d"/><stop offset="0.209" stop-color="#dcaa3c"/><stop offset="0.267" stop-color="#daae3d"/><stop offset="0.326" stop-color="#c9b844"/><stop offset="0.360" stop-color="#94bc63"/><stop offset="0.384" stop-color="#71b385"/><stop offset="0.407" stop-color="#5aa7a1"/><stop offset="0.430" stop-color="#539ead"/><stop offset="0.442" stop-color="#519cb0"/><stop offset="0.453" stop-color="#509bb2"/><stop offset="0.472" stop-color="#509ab3"/><stop offset="0.486" stop-color="#509ab3"/><stop offset="0.493" stop-color="#509ab3"/><stop offset="0.500" stop-color="#529daf"/><stop offset="0.507" stop-color="#56a1a9"/><stop offset="0.514" stop-color="#59a5a4"/><stop offset="0.528" stop-color="#5fab9b"/><stop offset="0.547" stop-color="#67ae91"/><stop offset="0.558" stop-color="#6bb08c"/><stop offset="0.570" stop-color="#70b286"/><stop offset="0.593" stop-color="#78b57d"/><stop offset="0.616" stop-color="#7ab67b"/><stop offset="0.640" stop-color="#7bb77a"/><stop offset="0.674" stop-color="#7bb779"/><stop offset="0.733" stop-color="#7cb778"/><stop offset="0.791" stop-color="#7db877"/><stop offset="0.849" stop-color="#7eb876"/><stop offset="0.907" stop-color="#7eb876"/><stop offset="0.965" stop-color="#7eb876"/></linearGradient><linearGradient id="d39" gradientUnits="userSpaceOnUse" x1="170.2" y1="0" x2="284.1" y2="0"><stop offset="0.035" stop-color="#c5b946"/><stop offset="0.093" stop-color="#d5b63f"/><stop offset="0.151" stop-color="#daaf3d"/><stop offset="0.209" stop-color="#dcaa3c"/><stop offset="0.267" stop-color="#daae3d"/><stop offset="0.326" stop-color="#c9b844"/><stop offset="0.360" stop-color="#94bc63"/><stop offset="0.384" stop-color="#71b385"/><stop offset="0.407" stop-color="#5aa7a1"/><stop offset="0.430" stop-color="#539ead"/><stop offset="0.442" stop-color="#519cb0"/><stop offset="0.453" stop-color="#509bb2"/><stop offset="0.472" stop-color="#509ab3"/><stop offset="0.486" stop-color="#509ab3"/><stop offset="0.493" stop-color="#509ab3"/><stop offset="0.500" stop-color="#529daf"/><stop offset="0.507" stop-color="#56a1a9"/><stop offset="0.514" stop-color="#59a5a4"/><stop offset="0.528" stop-color="#5fab9b"/><stop offset="0.547" stop-color="#67ae91"/><stop offset="0.558" stop-color="#6bb08c"/><stop offset="0.570" stop-color="#70b286"/><stop offset="0.593" stop-color="#78b57d"/><stop offset="0.616" stop-color="#7ab67b"/><stop offset="0.640" stop-color="#7bb77a"/><stop offset="0.674" stop-color="#7bb779"/><stop offset="0.733" stop-color="#7cb778"/><stop offset="0.791" stop-color="#7db877"/><stop offset="0.849" stop-color="#7eb876"/><stop offset="0.907" stop-color="#7eb876"/><stop offset="0.965" stop-color="#7eb876"/></linearGradient></defs>
<rect x="170.2" y="209.0" width="113.9" height="3.4" fill="url(#d0)"/>
<rect x="170.2" y="212.0" width="113.9" height="3.4" fill="url(#d1)"/>
<rect x="170.2" y="215.0" width="113.9" height="3.4" fill="url(#d2)"/>
<rect x="170.2" y="218.0" width="113.9" height="3.4" fill="url(#d3)"/>
<rect x="170.2" y="221.0" width="113.9" height="3.4" fill="url(#d4)"/>
<rect x="170.2" y="224.0" width="113.9" height="3.4" fill="url(#d5)"/>
<rect x="170.2" y="227.0" width="113.9" height="3.4" fill="url(#d6)"/>
<rect x="170.2" y="230.0" width="113.9" height="3.4" fill="url(#d7)"/>
<rect x="170.2" y="233.0" width="113.9" height="3.4" fill="url(#d8)"/>
<rect x="170.2" y="236.0" width="113.9" height="3.4" fill="url(#d9)"/>
<rect x="170.2" y="239.0" width="113.9" height="3.4" fill="url(#d10)"/>
<rect x="170.2" y="242.0" width="113.9" height="3.4" fill="url(#d11)"/>
<rect x="170.2" y="245.0" width="113.9" height="3.4" fill="url(#d12)"/>
<rect x="170.2" y="248.0" width="113.9" height="3.4" fill="url(#d13)"/>
<rect x="170.2" y="251.0" width="113.9" height="3.4" fill="url(#d14)"/>
<rect x="170.2" y="254.0" width="113.9" height="3.4" fill="url(#d15)"/>
<rect x="170.2" y="257.0" width="113.9" height="3.4" fill="url(#d16)"/>
<rect x="170.2" y="260.0" width="113.9" height="3.4" fill="url(#d17)"/>
<rect x="170.2" y="263.0" width="113.9" height="3.4" fill="url(#d18)"/>
<rect x="170.2" y="266.0" width="113.9" height="3.4" fill="url(#d19)"/>
<rect x="170.2" y="269.0" width="113.9" height="3.4" fill="url(#d20)"/>
<rect x="170.2" y="272.0" width="113.9" height="3.4" fill="url(#d21)"/>
<rect x="170.2" y="275.0" width="113.9" height="3.4" fill="url(#d22)"/>
<rect x="170.2" y="278.0" width="113.9" height="3.4" fill="url(#d23)"/>
<rect x="170.2" y="281.0" width="113.9" height="3.4" fill="url(#d24)"/>
<rect x="170.2" y="284.0" width="113.9" height="3.4" fill="url(#d25)"/>
<rect x="170.2" y="287.0" width="113.9" height="3.4" fill="url(#d26)"/>
<rect x="170.2" y="290.0" width="113.9" height="3.4" fill="url(#d27)"/>
<rect x="170.2" y="293.0" width="113.9" height="3.4" fill="url(#d28)"/>
<rect x="170.2" y="296.0" width="113.9" height="3.4" fill="url(#d29)"/>
<rect x="170.2" y="299.0" width="113.9" height="3.4" fill="url(#d30)"/>
<rect x="170.2" y="302.0" width="113.9" height="3.4" fill="url(#d31)"/>
<rect x="170.2" y="305.0" width="113.9" height="3.4" fill="url(#d32)"/>
<rect x="170.2" y="308.0" width="113.9" height="3.4" fill="url(#d33)"/>
<rect x="170.2" y="311.0" width="113.9" height="3.4" fill="url(#d34)"/>
<rect x="170.2" y="314.0" width="113.9" height="3.4" fill="url(#d35)"/>
<rect x="170.2" y="317.0" width="113.9" height="3.4" fill="url(#d36)"/>
<rect x="170.2" y="320.0" width="113.9" height="3.4" fill="url(#d37)"/>
<rect x="170.2" y="323.0" width="113.9" height="3.4" fill="url(#d38)"/>
<rect x="170.2" y="326.0" width="113.9" height="3.4" fill="url(#d39)"/>
</g></g>
<rect x="171.6" y="213.0" width="110.8" height="110.6" fill="none" stroke="#cccccc" stroke-width="0.5"/>
<path d="M174.2,323.6v-2.0 M174.2,213.0v2.0 M171.6,321.3h2.0 M282.4,321.3h-2.0" stroke="#8a8a8a" stroke-width="0.4" fill="none"/>
<path d="M179.5,323.6v-1.1 M179.5,213.0v1.1 M171.6,316.0h1.1 M282.4,316.0h-1.1" stroke="#8a8a8a" stroke-width="0.4" fill="none"/>
<path d="M184.8,323.6v-1.1 M184.8,213.0v1.1 M171.6,310.7h1.1 M282.4,310.7h-1.1" stroke="#8a8a8a" stroke-width="0.4" fill="none"/>
<path d="M190.1,323.6v-1.1 M190.1,213.0v1.1 M171.6,305.4h1.1 M282.4,305.4h-1.1" stroke="#8a8a8a" stroke-width="0.4" fill="none"/>
<path d="M195.4,323.6v-1.1 M195.4,213.0v1.1 M171.6,300.1h1.1 M282.4,300.1h-1.1" stroke="#8a8a8a" stroke-width="0.4" fill="none"/>
<path d="M200.7,323.6v-2.0 M200.7,213.0v2.0 M171.6,294.8h2.0 M282.4,294.8h-2.0" stroke="#8a8a8a" stroke-width="0.4" fill="none"/>
<path d="M206.0,323.6v-1.1 M206.0,213.0v1.1 M171.6,289.5h1.1 M282.4,289.5h-1.1" stroke="#8a8a8a" stroke-width="0.4" fill="none"/>
<path d="M211.3,323.6v-1.1 M211.3,213.0v1.1 M171.6,284.2h1.1 M282.4,284.2h-1.1" stroke="#8a8a8a" stroke-width="0.4" fill="none"/>
<path d="M216.6,323.6v-1.1 M216.6,213.0v1.1 M171.6,278.9h1.1 M282.4,278.9h-1.1" stroke="#8a8a8a" stroke-width="0.4" fill="none"/>
<path d="M221.9,323.6v-1.1 M221.9,213.0v1.1 M171.6,273.6h1.1 M282.4,273.6h-1.1" stroke="#8a8a8a" stroke-width="0.4" fill="none"/>
<path d="M227.2,323.6v-2.0 M227.2,213.0v2.0 M171.6,268.2h2.0 M282.4,268.2h-2.0" stroke="#8a8a8a" stroke-width="0.4" fill="none"/>
<path d="M232.4,323.6v-1.1 M232.4,213.0v1.1 M171.6,262.9h1.1 M282.4,262.9h-1.1" stroke="#8a8a8a" stroke-width="0.4" fill="none"/>
<path d="M237.7,323.6v-1.1 M237.7,213.0v1.1 M171.6,257.6h1.1 M282.4,257.6h-1.1" stroke="#8a8a8a" stroke-width="0.4" fill="none"/>
<path d="M243.0,323.6v-1.1 M243.0,213.0v1.1 M171.6,252.3h1.1 M282.4,252.3h-1.1" stroke="#8a8a8a" stroke-width="0.4" fill="none"/>
<path d="M248.3,323.6v-1.1 M248.3,213.0v1.1 M171.6,247.0h1.1 M282.4,247.0h-1.1" stroke="#8a8a8a" stroke-width="0.4" fill="none"/>
<path d="M253.6,323.6v-2.0 M253.6,213.0v2.0 M171.6,241.7h2.0 M282.4,241.7h-2.0" stroke="#8a8a8a" stroke-width="0.4" fill="none"/>
<path d="M258.9,323.6v-1.1 M258.9,213.0v1.1 M171.6,236.4h1.1 M282.4,236.4h-1.1" stroke="#8a8a8a" stroke-width="0.4" fill="none"/>
<path d="M264.2,323.6v-1.1 M264.2,213.0v1.1 M171.6,231.1h1.1 M282.4,231.1h-1.1" stroke="#8a8a8a" stroke-width="0.4" fill="none"/>
<path d="M269.5,323.6v-1.1 M269.5,213.0v1.1 M171.6,225.8h1.1 M282.4,225.8h-1.1" stroke="#8a8a8a" stroke-width="0.4" fill="none"/>
<path d="M274.8,323.6v-1.1 M274.8,213.0v1.1 M171.6,220.5h1.1 M282.4,220.5h-1.1" stroke="#8a8a8a" stroke-width="0.4" fill="none"/>
<path d="M280.1,323.6v-2.0 M280.1,213.0v2.0 M171.6,215.2h2.0 M282.4,215.2h-2.0" stroke="#8a8a8a" stroke-width="0.4" fill="none"/>
<text transform="translate(172.89,334.74) rotate(0.3) scale(0.96,1)" class="b" font-size="9.60" text-anchor="middle" >−2</text>
<text transform="translate(170.20,325.03) rotate(0.3) scale(0.96,1)" class="b" font-size="9.60" text-anchor="end" >−2</text>
<text transform="translate(199.37,334.74) rotate(0.3) scale(0.96,1)" class="b" font-size="9.60" text-anchor="middle" >−1</text>
<text transform="translate(170.20,298.51) rotate(0.3) scale(0.96,1)" class="b" font-size="9.60" text-anchor="end" >−1</text>
<text transform="translate(227.15,334.74) rotate(0.3) scale(0.96,1)" class="b" font-size="9.60" text-anchor="middle" >0</text>
<text transform="translate(170.20,271.99) rotate(0.3) scale(0.96,1)" class="b" font-size="9.60" text-anchor="end" >0</text>
<text transform="translate(253.63,334.74) rotate(0.3) scale(0.96,1)" class="b" font-size="9.60" text-anchor="middle" >1</text>
<text transform="translate(170.20,245.47) rotate(0.3) scale(0.96,1)" class="b" font-size="9.60" text-anchor="end" >1</text>
<text transform="translate(280.11,334.74) rotate(0.3) scale(0.96,1)" class="b" font-size="9.60" text-anchor="middle" >2</text>
<text transform="translate(170.20,218.95) rotate(0.3) scale(0.96,1)" class="b" font-size="9.60" text-anchor="end" >2</text>
<text transform="translate(226.90,350.70) rotate(0.3) scale(1.0,1)" class="b" font-size="12.80" text-anchor="middle" >x</text>
<text transform="translate(153.2,268.6) rotate(-90.3)" class="b" font-size="15" text-anchor="middle">t</text>
<defs><linearGradient id="lgd" x1="0" y1="0" x2="0" y2="1"><stop offset="0.000" stop-color="#db2122"/><stop offset="0.071" stop-color="#e14c2a"/><stop offset="0.143" stop-color="#e57631"/><stop offset="0.214" stop-color="#e49b38"/><stop offset="0.286" stop-color="#d9b13d"/><stop offset="0.357" stop-color="#c1ba47"/><stop offset="0.429" stop-color="#a4bd58"/><stop offset="0.500" stop-color="#83ba70"/><stop offset="0.571" stop-color="#68ae90"/><stop offset="0.643" stop-color="#549fad"/><stop offset="0.714" stop-color="#468ac4"/><stop offset="0.786" stop-color="#4169d5"/><stop offset="0.857" stop-color="#4a40c3"/><stop offset="0.929" stop-color="#5d23a6"/><stop offset="1.000" stop-color="#781c86"/></linearGradient></defs>
<rect x="289.2" y="240.1" width="4.9" height="77.9" fill="url(#lgd)"/>
<line x1="294.1" y1="250.10" x2="296" y2="250.10" stroke="#777" stroke-width="0.4"/>
<text transform="translate(297.40,253.33) rotate(0.3) scale(0.9,1)" class="b" font-size="10.51" text-anchor="start" >0.366</text>
<line x1="294.1" y1="262.58" x2="296" y2="262.58" stroke="#777" stroke-width="0.4"/>
<text transform="translate(297.40,265.81) rotate(0.3) scale(0.9,1)" class="b" font-size="10.51" text-anchor="start" >0.365</text>
<line x1="294.1" y1="275.06" x2="296" y2="275.06" stroke="#777" stroke-width="0.4"/>
<text transform="translate(297.40,278.29) rotate(0.3) scale(0.9,1)" class="b" font-size="10.51" text-anchor="start" >0.364</text>
<line x1="294.1" y1="287.54" x2="296" y2="287.54" stroke="#777" stroke-width="0.4"/>
<text transform="translate(297.40,290.77) rotate(0.3) scale(0.9,1)" class="b" font-size="10.51" text-anchor="start" >0.363</text>
<line x1="294.1" y1="300.02" x2="296" y2="300.02" stroke="#777" stroke-width="0.4"/>
<text transform="translate(297.40,303.25) rotate(0.3) scale(0.9,1)" class="b" font-size="10.51" text-anchor="start" >0.362</text>
<line x1="294.1" y1="312.50" x2="296" y2="312.50" stroke="#777" stroke-width="0.4"/>
<text transform="translate(297.40,315.73) rotate(0.3) scale(0.9,1)" class="b" font-size="10.51" text-anchor="start" >0.361</text>
</g>
<g id="ppl">
<circle cx="449.9" cy="272.2" r="19.5" fill="none" stroke="#d6d6d6" stroke-width="0.55"/>
<circle cx="449.9" cy="272.2" r="38.9" fill="none" stroke="#d6d6d6" stroke-width="0.55"/>
<circle cx="449.9" cy="272.2" r="58.2" fill="none" stroke="#d6d6d6" stroke-width="0.55"/>
<circle cx="449.9" cy="272.2" r="77.7" fill="none" stroke="#d6d6d6" stroke-width="0.55"/>
<path d="M518.70,272.20A68.8,68.8 0 0 0 518.37,265.52" stroke="#bdbb49" stroke-width="0.9" fill="none"/>
<path d="M518.44,266.20A68.8,68.8 0 0 0 517.53,259.58" stroke="#bfbb48" stroke-width="0.9" fill="none"/>
<path d="M517.65,260.25A68.8,68.8 0 0 0 516.17,253.73" stroke="#c0bb48" stroke-width="0.9" fill="none"/>
<path d="M516.36,254.39A68.8,68.8 0 0 0 514.31,248.02" stroke="#c2ba47" stroke-width="0.9" fill="none"/>
<path d="M514.55,248.67A68.8,68.8 0 0 0 511.96,242.50" stroke="#c3ba47" stroke-width="0.9" fill="none"/>
<path d="M512.25,243.12A68.8,68.8 0 0 0 509.14,237.21" stroke="#c4ba46" stroke-width="0.9" fill="none"/>
<path d="M509.48,237.80A68.8,68.8 0 0 0 505.86,232.18" stroke="#c6b945" stroke-width="0.9" fill="none"/>
<path d="M506.26,232.74A68.8,68.8 0 0 0 502.16,227.45" stroke="#c7b945" stroke-width="0.9" fill="none"/>
<path d="M502.60,227.98A68.8,68.8 0 0 0 498.06,223.07" stroke="#c9b944" stroke-width="0.9" fill="none"/>
<path d="M498.55,223.55A68.8,68.8 0 0 0 493.59,219.06" stroke="#cab843" stroke-width="0.9" fill="none"/>
<path d="M494.12,219.50A68.8,68.8 0 0 0 488.80,215.45" stroke="#ccb843" stroke-width="0.9" fill="none"/>
<path d="M489.36,215.84A68.8,68.8 0 0 0 483.70,212.28" stroke="#cdb742" stroke-width="0.9" fill="none"/>
<path d="M484.30,212.62A68.8,68.8 0 0 0 478.35,209.56" stroke="#cfb742" stroke-width="0.9" fill="none"/>
<path d="M478.98,209.85A68.8,68.8 0 0 0 472.78,207.32" stroke="#d0b741" stroke-width="0.9" fill="none"/>
<path d="M473.43,207.55A68.8,68.8 0 0 0 467.04,205.57" stroke="#d1b640" stroke-width="0.9" fill="none"/>
<path d="M467.71,205.74A68.8,68.8 0 0 0 461.17,204.33" stroke="#d3b640" stroke-width="0.9" fill="none"/>
<path d="M461.85,204.45A68.8,68.8 0 0 0 455.21,203.61" stroke="#d4b63f" stroke-width="0.9" fill="none"/>
<path d="M455.90,203.66A68.8,68.8 0 0 0 449.21,203.40" stroke="#d6b53f" stroke-width="0.9" fill="none"/>
<path d="M449.90,203.40A68.8,68.8 0 0 0 443.22,203.73" stroke="#d7b53e" stroke-width="0.9" fill="none"/>
<path d="M443.90,203.66A68.8,68.8 0 0 0 437.28,204.57" stroke="#d8b33e" stroke-width="0.9" fill="none"/>
<path d="M437.95,204.45A68.8,68.8 0 0 0 431.43,205.93" stroke="#d8b13d" stroke-width="0.9" fill="none"/>
<path d="M432.09,205.74A68.8,68.8 0 0 0 425.72,207.79" stroke="#d9b03d" stroke-width="0.9" fill="none"/>
<path d="M426.37,207.55A68.8,68.8 0 0 0 420.20,210.14" stroke="#daae3d" stroke-width="0.9" fill="none"/>
<path d="M420.82,209.85A68.8,68.8 0 0 0 414.91,212.96" stroke="#dbad3c" stroke-width="0.9" fill="none"/>
<path d="M415.50,212.62A68.8,68.8 0 0 0 409.88,216.24" stroke="#dbab3c" stroke-width="0.9" fill="none"/>
<path d="M410.44,215.84A68.8,68.8 0 0 0 405.15,219.94" stroke="#dcaa3b" stroke-width="0.9" fill="none"/>
<path d="M405.68,219.50A68.8,68.8 0 0 0 400.77,224.04" stroke="#dda83b" stroke-width="0.9" fill="none"/>
<path d="M401.25,223.55A68.8,68.8 0 0 0 396.76,228.51" stroke="#dea73b" stroke-width="0.9" fill="none"/>
<path d="M397.20,227.98A68.8,68.8 0 0 0 393.15,233.30" stroke="#dea53a" stroke-width="0.9" fill="none"/>
<path d="M393.54,232.74A68.8,68.8 0 0 0 389.98,238.40" stroke="#dfa43a" stroke-width="0.9" fill="none"/>
<path d="M390.32,237.80A68.8,68.8 0 0 0 387.26,243.75" stroke="#e0a23a" stroke-width="0.9" fill="none"/>
<path d="M387.55,243.12A68.8,68.8 0 0 0 385.02,249.32" stroke="#e1a039" stroke-width="0.9" fill="none"/>
<path d="M385.25,248.67A68.8,68.8 0 0 0 383.27,255.06" stroke="#e29f39" stroke-width="0.9" fill="none"/>
<path d="M383.44,254.39A68.8,68.8 0 0 0 382.03,260.93" stroke="#e29d38" stroke-width="0.9" fill="none"/>
<path d="M382.15,260.25A68.8,68.8 0 0 0 381.31,266.89" stroke="#e39c38" stroke-width="0.9" fill="none"/>
<path d="M381.36,266.20A68.8,68.8 0 0 0 381.10,272.89" stroke="#e49a38" stroke-width="0.9" fill="none"/>
<path d="M381.10,272.20A68.8,68.8 0 0 0 381.43,278.88" stroke="#e59937" stroke-width="0.9" fill="none"/>
<path d="M381.36,278.20A68.8,68.8 0 0 0 382.27,284.82" stroke="#e69737" stroke-width="0.9" fill="none"/>
<path d="M382.15,284.15A68.8,68.8 0 0 0 383.63,290.67" stroke="#e69436" stroke-width="0.9" fill="none"/>
<path d="M383.44,290.01A68.8,68.8 0 0 0 385.49,296.38" stroke="#e69136" stroke-width="0.9" fill="none"/>
<path d="M385.25,295.73A68.8,68.8 0 0 0 387.84,301.90" stroke="#e68e35" stroke-width="0.9" fill="none"/>
<path d="M387.55,301.28A68.8,68.8 0 0 0 390.66,307.19" stroke="#e58b35" stroke-width="0.9" fill="none"/>
<path d="M390.32,306.60A68.8,68.8 0 0 0 393.94,312.22" stroke="#e58834" stroke-width="0.9" fill="none"/>
<path d="M393.54,311.66A68.8,68.8 0 0 0 397.64,316.95" stroke="#e58434" stroke-width="0.9" fill="none"/>
<path d="M397.20,316.42A68.8,68.8 0 0 0 401.74,321.33" stroke="#e58133" stroke-width="0.9" fill="none"/>
<path d="M401.25,320.85A68.8,68.8 0 0 0 406.21,325.34" stroke="#e57e33" stroke-width="0.9" fill="none"/>
<path d="M405.68,324.90A68.8,68.8 0 0 0 411.00,328.95" stroke="#e57b32" stroke-width="0.9" fill="none"/>
<path d="M410.44,328.56A68.8,68.8 0 0 0 416.10,332.12" stroke="#e57832" stroke-width="0.9" fill="none"/>
<path d="M415.50,331.78A68.8,68.8 0 0 0 421.45,334.84" stroke="#e57531" stroke-width="0.9" fill="none"/>
<path d="M420.82,334.55A68.8,68.8 0 0 0 427.02,337.08" stroke="#e57131" stroke-width="0.9" fill="none"/>
<path d="M426.37,336.85A68.8,68.8 0 0 0 432.76,338.83" stroke="#e56e30" stroke-width="0.9" fill="none"/>
<path d="M432.09,338.66A68.8,68.8 0 0 0 438.63,340.07" stroke="#e56b2f" stroke-width="0.9" fill="none"/>
<path d="M437.95,339.95A68.8,68.8 0 0 0 444.59,340.79" stroke="#e5682f" stroke-width="0.9" fill="none"/>
<path d="M443.90,340.74A68.8,68.8 0 0 0 450.59,341.00" stroke="#e4652e" stroke-width="0.9" fill="none"/>
<path d="M449.90,341.00A68.8,68.8 0 0 0 456.58,340.67" stroke="#e4622e" stroke-width="0.9" fill="none"/>
<path d="M455.90,340.74A68.8,68.8 0 0 0 462.52,339.83" stroke="#e45e2d" stroke-width="0.9" fill="none"/>
<path d="M461.85,339.95A68.8,68.8 0 0 0 468.37,338.47" stroke="#e45a2d" stroke-width="0.9" fill="none"/>
<path d="M467.71,338.66A68.8,68.8 0 0 0 474.08,336.61" stroke="#e3572c" stroke-width="0.9" fill="none"/>
<path d="M473.43,336.85A68.8,68.8 0 0 0 479.60,334.26" stroke="#e3532b" stroke-width="0.9" fill="none"/>
<path d="M478.98,334.55A68.8,68.8 0 0 0 484.89,331.44" stroke="#e24f2a" stroke-width="0.9" fill="none"/>
<path d="M484.30,331.78A68.8,68.8 0 0 0 489.92,328.16" stroke="#e14c2a" stroke-width="0.9" fill="none"/>
<path d="M489.36,328.56A68.8,68.8 0 0 0 494.65,324.46" stroke="#e14829" stroke-width="0.9" fill="none"/>
<path d="M494.12,324.90A68.8,68.8 0 0 0 499.03,320.36" stroke="#e04428" stroke-width="0.9" fill="none"/>
<path d="M498.55,320.85A68.8,68.8 0 0 0 503.04,315.89" stroke="#e04128" stroke-width="0.9" fill="none"/>
<path d="M502.60,316.42A68.8,68.8 0 0 0 506.65,311.10" stroke="#df3d27" stroke-width="0.9" fill="none"/>
<path d="M506.26,311.66A68.8,68.8 0 0 0 509.82,306.00" stroke="#de3926" stroke-width="0.9" fill="none"/>
<path d="M509.48,306.60A68.8,68.8 0 0 0 512.54,300.65" stroke="#de3626" stroke-width="0.9" fill="none"/>
<path d="M512.25,301.28A68.8,68.8 0 0 0 514.78,295.08" stroke="#dd3225" stroke-width="0.9" fill="none"/>
<path d="M514.55,295.73A68.8,68.8 0 0 0 516.53,289.34" stroke="#dd2e24" stroke-width="0.9" fill="none"/>
<path d="M516.36,290.01A68.8,68.8 0 0 0 517.77,283.47" stroke="#dc2b23" stroke-width="0.9" fill="none"/>
<path d="M517.65,284.15A68.8,68.8 0 0 0 518.49,277.51" stroke="#db2723" stroke-width="0.9" fill="none"/>
<path d="M518.44,278.20A68.8,68.8 0 0 0 518.70,271.51" stroke="#db2322" stroke-width="0.9" fill="none"/>
<line x1="368.8" y1="272.2" x2="530.6" y2="272.2" stroke="#555555" stroke-width="1.3"/>
<line x1="449.9" y1="191.6" x2="449.9" y2="352.6" stroke="#555555" stroke-width="1.3"/>
<path d="M374.5,272.2v-2.2 M449.9,196.8h2.2" stroke="#555555" stroke-width="0.5" fill="none"/>
<path d="M383.9,272.2v-1.6 M449.9,206.2h1.6" stroke="#555555" stroke-width="0.5" fill="none"/>
<path d="M393.3,272.2v-1.6 M449.9,215.6h1.6" stroke="#555555" stroke-width="0.5" fill="none"/>
<path d="M402.8,272.2v-1.6 M449.9,225.1h1.6" stroke="#555555" stroke-width="0.5" fill="none"/>
<path d="M412.2,272.2v-2.2 M449.9,234.5h2.2" stroke="#555555" stroke-width="0.5" fill="none"/>
<path d="M421.6,272.2v-1.6 M449.9,243.9h1.6" stroke="#555555" stroke-width="0.5" fill="none"/>
<path d="M431.0,272.2v-1.6 M449.9,253.3h1.6" stroke="#555555" stroke-width="0.5" fill="none"/>
<path d="M440.5,272.2v-1.6 M449.9,262.8h1.6" stroke="#555555" stroke-width="0.5" fill="none"/>
<path d="M459.3,272.2v-1.6 M449.9,281.6h1.6" stroke="#555555" stroke-width="0.5" fill="none"/>
<path d="M468.8,272.2v-1.6 M449.9,291.1h1.6" stroke="#555555" stroke-width="0.5" fill="none"/>
<path d="M478.2,272.2v-1.6 M449.9,300.5h1.6" stroke="#555555" stroke-width="0.5" fill="none"/>
<path d="M487.6,272.2v-2.2 M449.9,309.9h2.2" stroke="#555555" stroke-width="0.5" fill="none"/>
<path d="M497.0,272.2v-1.6 M449.9,319.3h1.6" stroke="#555555" stroke-width="0.5" fill="none"/>
<path d="M506.4,272.2v-1.6 M449.9,328.8h1.6" stroke="#555555" stroke-width="0.5" fill="none"/>
<path d="M515.9,272.2v-1.6 M449.9,338.2h1.6" stroke="#555555" stroke-width="0.5" fill="none"/>
<path d="M525.3,272.2v-2.2 M449.9,347.6h2.2" stroke="#555555" stroke-width="0.5" fill="none"/>
<text transform="translate(373.90,285.10) rotate(0.3) scale(1.0,1)" class="b" font-size="12.60" text-anchor="middle" >−0.4</text>
<text transform="translate(447.80,352.00) rotate(0.3) scale(1.0,1)" class="b" font-size="12.60" text-anchor="end" >−0.4</text>
<text transform="translate(411.80,285.10) rotate(0.3) scale(1.0,1)" class="b" font-size="12.60" text-anchor="middle" >−0.2</text>
<text transform="translate(447.80,314.30) rotate(0.3) scale(1.0,1)" class="b" font-size="12.60" text-anchor="end" >−0.2</text>
<text transform="translate(487.90,285.10) rotate(0.3) scale(1.0,1)" class="b" font-size="12.60" text-anchor="middle" >0.2</text>
<text transform="translate(447.80,238.90) rotate(0.3) scale(1.0,1)" class="b" font-size="12.60" text-anchor="end" >0.2</text>
<text transform="translate(525.00,285.10) rotate(0.3) scale(1.0,1)" class="b" font-size="12.60" text-anchor="middle" >0.4</text>
<text transform="translate(447.80,201.20) rotate(0.3) scale(1.0,1)" class="b" font-size="12.60" text-anchor="end" >0.4</text>
<text transform="translate(539.60,278.10) rotate(0.3) scale(1.0,1)" class="b" font-size="17.50" text-anchor="middle" >x</text>
<text transform="translate(449.90,184.90) rotate(0.3) scale(1.0,1)" class="b" font-size="18.00" text-anchor="middle" >t</text>
</g>
<g id="cap">
<text transform="translate(58.4,162.1) rotate(0.3) scale(1.1388,1)" class="c" font-size="13">(a) 3D Plot</text>
<text transform="translate(309.4,162.1) rotate(0.3) scale(1.1350,1)" class="c" font-size="13">(b) 2D Plot</text>
<text transform="translate(546.2,161.9) rotate(0.3) scale(1.1361,1)" class="c" font-size="13">(c) Contour Plot</text>
<text transform="translate(185.5,373.7) rotate(0.3) scale(1.1269,1)" class="c" font-size="13">(d) Density Plot</text>
<text transform="translate(413.7,373.7) rotate(0.3) scale(1.1352,1)" class="c" font-size="13">(e) Polar Plot</text>
</g>
</svg>
</body></html>
